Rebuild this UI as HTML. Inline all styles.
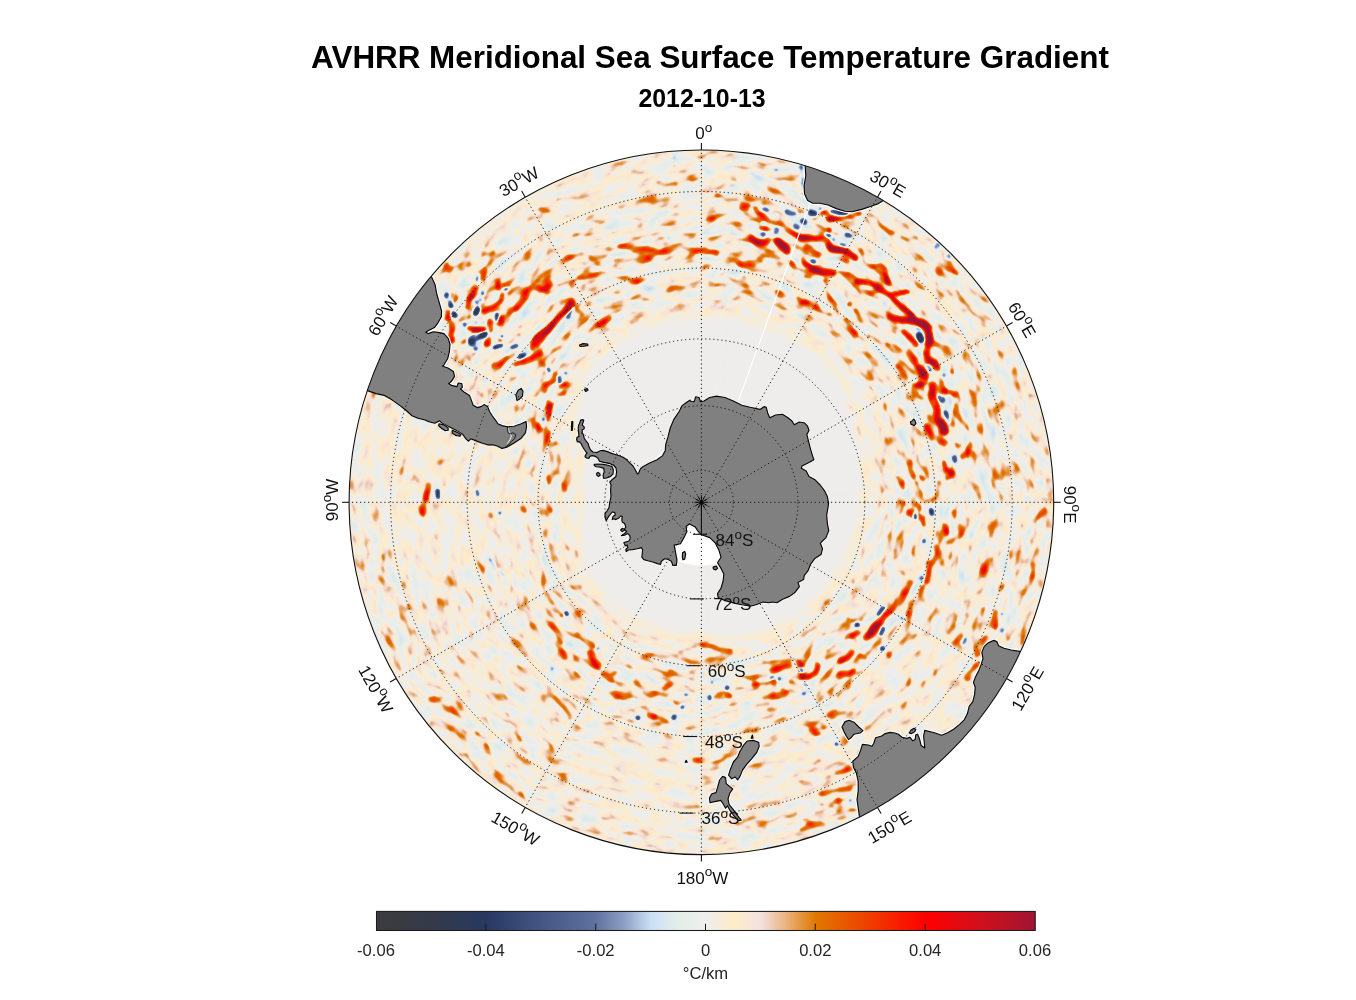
<!DOCTYPE html>
<html lang="en"><head><meta charset="utf-8"><title>AVHRR Meridional Sea Surface Temperature Gradient</title>
<style>html,body{margin:0;padding:0;background:#fff}body{width:1356px;height:1000px;overflow:hidden}svg{display:block}text{font-family:"Liberation Sans",Arial,Helvetica,sans-serif;fill:#000}.g{font-size:17px;fill:#111}.cb{font-size:16.6px;fill:#262626}</style></head><body>
<svg width="1356" height="1000" viewBox="0 0 1356 1000">
<defs>
<clipPath id="disc"><circle cx="701.4" cy="502.3" r="352.3"/></clipPath>
<filter id="wblur" filterUnits="userSpaceOnUse" x="579.4" y="138" width="278.4" height="392.3"><feGaussianBlur stdDeviation="2.5"/></filter>
<mask id="wedge" maskUnits="userSpaceOnUse" x="579.4" y="138" width="278.4" height="392.3"><path d="M699.4,516.3 L604.3,140 L833.3,140 L709.4,516.3 Z" fill="#fff" filter="url(#wblur)"/></mask>
<filter id="fld0" filterUnits="userSpaceOnUse" x="579.4" y="138" width="278.4" height="392.3" color-interpolation-filters="sRGB">
<feColorMatrix in="SourceGraphic" type="matrix" values="0 0 0 0 0 0 0 0 0 0 0 0 0 0 0 1 0 0 0 0" result="e0"/>
<feGaussianBlur in="e0" stdDeviation="6" result="E"/>
<feColorMatrix in="SourceGraphic" type="matrix" values="0 0 0 0 0 0 0 0 0 0 0 0 0 0 0 0 1 0 0 0" result="f0"/>
<feGaussianBlur in="f0" stdDeviation="1.4" result="F"/>
<feColorMatrix in="SourceGraphic" type="matrix" values="0 0 0 0 0 0 0 0 0 0 0 0 0 0 0 0 0 1 0 0" result="b0"/>
<feGaussianBlur in="b0" stdDeviation="1.3" result="B"/>
<feTurbulence type="fractalNoise" baseFrequency="0.05 0.105" numOctaves="2" seed="3" result="N0"/>
<feComponentTransfer in="N0" result="N"><feFuncA type="table" tableValues="0.2083 0.2167 0.2250 0.2333 0.2417 0.2500 0.2583 0.2683 0.2783 0.2892 0.3000 0.3150 0.3333 0.3542 0.3750 0.3958 0.4167 0.4375 0.4583 0.4792 0.5000"/></feComponentTransfer>
<feComposite in="N" in2="E" operator="arithmetic" k1="2.000" k2="0" k3="-0.600" k4="0.5" result="v0"/>
<feComponentTransfer in="E" result="Om"><feFuncA type="table" tableValues="0 1 1 1 1 1 1 1 1"/></feComponentTransfer>
<feComposite in="v0" in2="Om" operator="arithmetic" k1="0" k2="1" k3="0.0250" k4="0" result="v1"/>
<feComposite in="F" in2="N0" operator="arithmetic" k1="1.100" k2="0.450" k3="0" k4="0" result="Fm"/>
<feComposite in="B" in2="N0" operator="arithmetic" k1="-1.100" k2="1.550" k3="0" k4="0" result="Bm"/>
<feComposite in="v1" in2="Fm" operator="arithmetic" k1="0" k2="1" k3="0.500" k4="0" result="v2"/>
<feComposite in="v2" in2="Bm" operator="arithmetic" k1="0" k2="1" k3="-0.500" k4="0" result="v3"/>
<feColorMatrix in="v3" type="matrix" values="0 0 0 1 0 0 0 0 1 0 0 0 0 1 0 0 0 0 0 1" result="g"/>
<feComponentTransfer in="g"><feFuncR type="table" tableValues="0.235 0.228 0.222 0.215 0.208 0.194 0.180 0.167 0.153 0.182 0.212 0.241 0.271 0.297 0.324 0.350 0.376 0.463 0.549 0.675 0.800 0.845 0.890 0.912 0.933 0.965 0.996 0.975 0.953 0.931 0.910 0.894 0.878 0.894 0.910 0.925 0.941 0.956 0.971 0.985 1.000 0.954 0.908 0.862 0.816 0.769 0.722 0.675 0.627"/><feFuncG type="table" tableValues="0.235 0.233 0.231 0.229 0.227 0.225 0.224 0.222 0.220 0.249 0.278 0.308 0.337 0.365 0.392 0.420 0.447 0.533 0.620 0.747 0.875 0.904 0.933 0.933 0.933 0.929 0.925 0.904 0.882 0.782 0.682 0.576 0.471 0.412 0.353 0.294 0.235 0.176 0.118 0.059 0.000 0.016 0.031 0.047 0.063 0.068 0.073 0.077 0.082"/><feFuncB type="table" tableValues="0.235 0.249 0.263 0.276 0.290 0.314 0.337 0.361 0.384 0.418 0.451 0.484 0.518 0.543 0.569 0.594 0.620 0.694 0.769 0.867 0.965 0.937 0.910 0.922 0.933 0.859 0.784 0.833 0.882 0.669 0.455 0.227 0.000 0.000 0.000 0.000 0.000 0.000 0.000 0.000 0.000 0.027 0.055 0.082 0.110 0.131 0.153 0.175 0.196"/></feComponentTransfer>
</filter>
<filter id="fld1" filterUnits="userSpaceOnUse" x="579.4" y="138" width="278.4" height="392.3" color-interpolation-filters="sRGB">
<feColorMatrix in="SourceGraphic" type="matrix" values="0 0 0 0 0 0 0 0 0 0 0 0 0 0 0 1 0 0 0 0" result="e0"/>
<feGaussianBlur in="e0" stdDeviation="6" result="E"/>
<feColorMatrix in="SourceGraphic" type="matrix" values="0 0 0 0 0 0 0 0 0 0 0 0 0 0 0 0 1 0 0 0" result="f0"/>
<feGaussianBlur in="f0" stdDeviation="1.4" result="F"/>
<feColorMatrix in="SourceGraphic" type="matrix" values="0 0 0 0 0 0 0 0 0 0 0 0 0 0 0 0 0 1 0 0" result="b0"/>
<feGaussianBlur in="b0" stdDeviation="1.3" result="B"/>
<feTurbulence type="fractalNoise" baseFrequency="0.05 0.105" numOctaves="2" seed="11" result="N0"/>
<feComponentTransfer in="N0" result="N"><feFuncA type="table" tableValues="0.2083 0.2167 0.2250 0.2333 0.2417 0.2500 0.2583 0.2683 0.2783 0.2892 0.3000 0.3150 0.3333 0.3542 0.3750 0.3958 0.4167 0.4375 0.4583 0.4792 0.5000"/></feComponentTransfer>
<feComposite in="N" in2="E" operator="arithmetic" k1="2.000" k2="0" k3="-0.600" k4="0.5" result="v0"/>
<feComponentTransfer in="E" result="Om"><feFuncA type="table" tableValues="0 1 1 1 1 1 1 1 1"/></feComponentTransfer>
<feComposite in="v0" in2="Om" operator="arithmetic" k1="0" k2="1" k3="0.0250" k4="0" result="v1"/>
<feComposite in="F" in2="N0" operator="arithmetic" k1="1.100" k2="0.450" k3="0" k4="0" result="Fm"/>
<feComposite in="B" in2="N0" operator="arithmetic" k1="-1.100" k2="1.550" k3="0" k4="0" result="Bm"/>
<feComposite in="v1" in2="Fm" operator="arithmetic" k1="0" k2="1" k3="0.500" k4="0" result="v2"/>
<feComposite in="v2" in2="Bm" operator="arithmetic" k1="0" k2="1" k3="-0.500" k4="0" result="v3"/>
<feColorMatrix in="v3" type="matrix" values="0 0 0 1 0 0 0 0 1 0 0 0 0 1 0 0 0 0 0 1" result="g"/>
<feComponentTransfer in="g"><feFuncR type="table" tableValues="0.235 0.228 0.222 0.215 0.208 0.194 0.180 0.167 0.153 0.182 0.212 0.241 0.271 0.297 0.324 0.350 0.376 0.463 0.549 0.675 0.800 0.845 0.890 0.912 0.933 0.965 0.996 0.975 0.953 0.931 0.910 0.894 0.878 0.894 0.910 0.925 0.941 0.956 0.971 0.985 1.000 0.954 0.908 0.862 0.816 0.769 0.722 0.675 0.627"/><feFuncG type="table" tableValues="0.235 0.233 0.231 0.229 0.227 0.225 0.224 0.222 0.220 0.249 0.278 0.308 0.337 0.365 0.392 0.420 0.447 0.533 0.620 0.747 0.875 0.904 0.933 0.933 0.933 0.929 0.925 0.904 0.882 0.782 0.682 0.576 0.471 0.412 0.353 0.294 0.235 0.176 0.118 0.059 0.000 0.016 0.031 0.047 0.063 0.068 0.073 0.077 0.082"/><feFuncB type="table" tableValues="0.235 0.249 0.263 0.276 0.290 0.314 0.337 0.361 0.384 0.418 0.451 0.484 0.518 0.543 0.569 0.594 0.620 0.694 0.769 0.867 0.965 0.937 0.910 0.922 0.933 0.859 0.784 0.833 0.882 0.669 0.455 0.227 0.000 0.000 0.000 0.000 0.000 0.000 0.000 0.000 0.000 0.027 0.055 0.082 0.110 0.131 0.153 0.175 0.196"/></feComponentTransfer>
</filter>
<filter id="fld2" filterUnits="userSpaceOnUse" x="579.4" y="138" width="278.4" height="392.3" color-interpolation-filters="sRGB">
<feColorMatrix in="SourceGraphic" type="matrix" values="0 0 0 0 0 0 0 0 0 0 0 0 0 0 0 1 0 0 0 0" result="e0"/>
<feGaussianBlur in="e0" stdDeviation="6" result="E"/>
<feColorMatrix in="SourceGraphic" type="matrix" values="0 0 0 0 0 0 0 0 0 0 0 0 0 0 0 0 1 0 0 0" result="f0"/>
<feGaussianBlur in="f0" stdDeviation="1.4" result="F"/>
<feColorMatrix in="SourceGraphic" type="matrix" values="0 0 0 0 0 0 0 0 0 0 0 0 0 0 0 0 0 1 0 0" result="b0"/>
<feGaussianBlur in="b0" stdDeviation="1.3" result="B"/>
<feTurbulence type="fractalNoise" baseFrequency="0.05 0.105" numOctaves="2" seed="7" result="N0"/>
<feComponentTransfer in="N0" result="N"><feFuncA type="table" tableValues="0.2083 0.2167 0.2250 0.2333 0.2417 0.2500 0.2583 0.2683 0.2783 0.2892 0.3000 0.3150 0.3333 0.3542 0.3750 0.3958 0.4167 0.4375 0.4583 0.4792 0.5000"/></feComponentTransfer>
<feComposite in="N" in2="E" operator="arithmetic" k1="2.000" k2="0" k3="-0.600" k4="0.5" result="v0"/>
<feComponentTransfer in="E" result="Om"><feFuncA type="table" tableValues="0 1 1 1 1 1 1 1 1"/></feComponentTransfer>
<feComposite in="v0" in2="Om" operator="arithmetic" k1="0" k2="1" k3="0.0250" k4="0" result="v1"/>
<feComposite in="F" in2="N0" operator="arithmetic" k1="1.100" k2="0.450" k3="0" k4="0" result="Fm"/>
<feComposite in="B" in2="N0" operator="arithmetic" k1="-1.100" k2="1.550" k3="0" k4="0" result="Bm"/>
<feComposite in="v1" in2="Fm" operator="arithmetic" k1="0" k2="1" k3="0.500" k4="0" result="v2"/>
<feComposite in="v2" in2="Bm" operator="arithmetic" k1="0" k2="1" k3="-0.500" k4="0" result="v3"/>
<feColorMatrix in="v3" type="matrix" values="0 0 0 1 0 0 0 0 1 0 0 0 0 1 0 0 0 0 0 1" result="g"/>
<feComponentTransfer in="g"><feFuncR type="table" tableValues="0.235 0.228 0.222 0.215 0.208 0.194 0.180 0.167 0.153 0.182 0.212 0.241 0.271 0.297 0.324 0.350 0.376 0.463 0.549 0.675 0.800 0.845 0.890 0.912 0.933 0.965 0.996 0.975 0.953 0.931 0.910 0.894 0.878 0.894 0.910 0.925 0.941 0.956 0.971 0.985 1.000 0.954 0.908 0.862 0.816 0.769 0.722 0.675 0.627"/><feFuncG type="table" tableValues="0.235 0.233 0.231 0.229 0.227 0.225 0.224 0.222 0.220 0.249 0.278 0.308 0.337 0.365 0.392 0.420 0.447 0.533 0.620 0.747 0.875 0.904 0.933 0.933 0.933 0.929 0.925 0.904 0.882 0.782 0.682 0.576 0.471 0.412 0.353 0.294 0.235 0.176 0.118 0.059 0.000 0.016 0.031 0.047 0.063 0.068 0.073 0.077 0.082"/><feFuncB type="table" tableValues="0.235 0.249 0.263 0.276 0.290 0.314 0.337 0.361 0.384 0.418 0.451 0.484 0.518 0.543 0.569 0.594 0.620 0.694 0.769 0.867 0.965 0.937 0.910 0.922 0.933 0.859 0.784 0.833 0.882 0.669 0.455 0.227 0.000 0.000 0.000 0.000 0.000 0.000 0.000 0.000 0.000 0.027 0.055 0.082 0.110 0.131 0.153 0.175 0.196"/></feComponentTransfer>
</filter>
<filter id="fld3" filterUnits="userSpaceOnUse" x="579.4" y="138" width="278.4" height="392.3" color-interpolation-filters="sRGB">
<feColorMatrix in="SourceGraphic" type="matrix" values="0 0 0 0 0 0 0 0 0 0 0 0 0 0 0 1 0 0 0 0" result="e0"/>
<feGaussianBlur in="e0" stdDeviation="6" result="E"/>
<feColorMatrix in="SourceGraphic" type="matrix" values="0 0 0 0 0 0 0 0 0 0 0 0 0 0 0 0 1 0 0 0" result="f0"/>
<feGaussianBlur in="f0" stdDeviation="1.4" result="F"/>
<feColorMatrix in="SourceGraphic" type="matrix" values="0 0 0 0 0 0 0 0 0 0 0 0 0 0 0 0 0 1 0 0" result="b0"/>
<feGaussianBlur in="b0" stdDeviation="1.3" result="B"/>
<feTurbulence type="fractalNoise" baseFrequency="0.05 0.105" numOctaves="2" seed="23" result="N0"/>
<feComponentTransfer in="N0" result="N"><feFuncA type="table" tableValues="0.2083 0.2167 0.2250 0.2333 0.2417 0.2500 0.2583 0.2683 0.2783 0.2892 0.3000 0.3150 0.3333 0.3542 0.3750 0.3958 0.4167 0.4375 0.4583 0.4792 0.5000"/></feComponentTransfer>
<feComposite in="N" in2="E" operator="arithmetic" k1="2.000" k2="0" k3="-0.600" k4="0.5" result="v0"/>
<feComponentTransfer in="E" result="Om"><feFuncA type="table" tableValues="0 1 1 1 1 1 1 1 1"/></feComponentTransfer>
<feComposite in="v0" in2="Om" operator="arithmetic" k1="0" k2="1" k3="0.0250" k4="0" result="v1"/>
<feComposite in="F" in2="N0" operator="arithmetic" k1="1.100" k2="0.450" k3="0" k4="0" result="Fm"/>
<feComposite in="B" in2="N0" operator="arithmetic" k1="-1.100" k2="1.550" k3="0" k4="0" result="Bm"/>
<feComposite in="v1" in2="Fm" operator="arithmetic" k1="0" k2="1" k3="0.500" k4="0" result="v2"/>
<feComposite in="v2" in2="Bm" operator="arithmetic" k1="0" k2="1" k3="-0.500" k4="0" result="v3"/>
<feColorMatrix in="v3" type="matrix" values="0 0 0 1 0 0 0 0 1 0 0 0 0 1 0 0 0 0 0 1" result="g"/>
<feComponentTransfer in="g"><feFuncR type="table" tableValues="0.235 0.228 0.222 0.215 0.208 0.194 0.180 0.167 0.153 0.182 0.212 0.241 0.271 0.297 0.324 0.350 0.376 0.463 0.549 0.675 0.800 0.845 0.890 0.912 0.933 0.965 0.996 0.975 0.953 0.931 0.910 0.894 0.878 0.894 0.910 0.925 0.941 0.956 0.971 0.985 1.000 0.954 0.908 0.862 0.816 0.769 0.722 0.675 0.627"/><feFuncG type="table" tableValues="0.235 0.233 0.231 0.229 0.227 0.225 0.224 0.222 0.220 0.249 0.278 0.308 0.337 0.365 0.392 0.420 0.447 0.533 0.620 0.747 0.875 0.904 0.933 0.933 0.933 0.929 0.925 0.904 0.882 0.782 0.682 0.576 0.471 0.412 0.353 0.294 0.235 0.176 0.118 0.059 0.000 0.016 0.031 0.047 0.063 0.068 0.073 0.077 0.082"/><feFuncB type="table" tableValues="0.235 0.249 0.263 0.276 0.290 0.314 0.337 0.361 0.384 0.418 0.451 0.484 0.518 0.543 0.569 0.594 0.620 0.694 0.769 0.867 0.965 0.937 0.910 0.922 0.933 0.859 0.784 0.833 0.882 0.669 0.455 0.227 0.000 0.000 0.000 0.000 0.000 0.000 0.000 0.000 0.000 0.027 0.055 0.082 0.110 0.131 0.153 0.175 0.196"/></feComponentTransfer>
</filter>
<filter id="fld4" filterUnits="userSpaceOnUse" x="579.4" y="138" width="278.4" height="392.3" color-interpolation-filters="sRGB">
<feColorMatrix in="SourceGraphic" type="matrix" values="0 0 0 0 0 0 0 0 0 0 0 0 0 0 0 1 0 0 0 0" result="e0"/>
<feGaussianBlur in="e0" stdDeviation="6" result="E"/>
<feColorMatrix in="SourceGraphic" type="matrix" values="0 0 0 0 0 0 0 0 0 0 0 0 0 0 0 0 1 0 0 0" result="f0"/>
<feGaussianBlur in="f0" stdDeviation="1.4" result="F"/>
<feColorMatrix in="SourceGraphic" type="matrix" values="0 0 0 0 0 0 0 0 0 0 0 0 0 0 0 0 0 1 0 0" result="b0"/>
<feGaussianBlur in="b0" stdDeviation="1.3" result="B"/>
<feTurbulence type="fractalNoise" baseFrequency="0.05 0.105" numOctaves="2" seed="5" result="N0"/>
<feComponentTransfer in="N0" result="N"><feFuncA type="table" tableValues="0.2083 0.2167 0.2250 0.2333 0.2417 0.2500 0.2583 0.2683 0.2783 0.2892 0.3000 0.3150 0.3333 0.3542 0.3750 0.3958 0.4167 0.4375 0.4583 0.4792 0.5000"/></feComponentTransfer>
<feComposite in="N" in2="E" operator="arithmetic" k1="2.000" k2="0" k3="-0.600" k4="0.5" result="v0"/>
<feComponentTransfer in="E" result="Om"><feFuncA type="table" tableValues="0 1 1 1 1 1 1 1 1"/></feComponentTransfer>
<feComposite in="v0" in2="Om" operator="arithmetic" k1="0" k2="1" k3="0.0250" k4="0" result="v1"/>
<feComposite in="F" in2="N0" operator="arithmetic" k1="1.100" k2="0.450" k3="0" k4="0" result="Fm"/>
<feComposite in="B" in2="N0" operator="arithmetic" k1="-1.100" k2="1.550" k3="0" k4="0" result="Bm"/>
<feComposite in="v1" in2="Fm" operator="arithmetic" k1="0" k2="1" k3="0.500" k4="0" result="v2"/>
<feComposite in="v2" in2="Bm" operator="arithmetic" k1="0" k2="1" k3="-0.500" k4="0" result="v3"/>
<feColorMatrix in="v3" type="matrix" values="0 0 0 1 0 0 0 0 1 0 0 0 0 1 0 0 0 0 0 1" result="g"/>
<feComponentTransfer in="g"><feFuncR type="table" tableValues="0.235 0.228 0.222 0.215 0.208 0.194 0.180 0.167 0.153 0.182 0.212 0.241 0.271 0.297 0.324 0.350 0.376 0.463 0.549 0.675 0.800 0.845 0.890 0.912 0.933 0.965 0.996 0.975 0.953 0.931 0.910 0.894 0.878 0.894 0.910 0.925 0.941 0.956 0.971 0.985 1.000 0.954 0.908 0.862 0.816 0.769 0.722 0.675 0.627"/><feFuncG type="table" tableValues="0.235 0.233 0.231 0.229 0.227 0.225 0.224 0.222 0.220 0.249 0.278 0.308 0.337 0.365 0.392 0.420 0.447 0.533 0.620 0.747 0.875 0.904 0.933 0.933 0.933 0.929 0.925 0.904 0.882 0.782 0.682 0.576 0.471 0.412 0.353 0.294 0.235 0.176 0.118 0.059 0.000 0.016 0.031 0.047 0.063 0.068 0.073 0.077 0.082"/><feFuncB type="table" tableValues="0.235 0.249 0.263 0.276 0.290 0.314 0.337 0.361 0.384 0.418 0.451 0.484 0.518 0.543 0.569 0.594 0.620 0.694 0.769 0.867 0.965 0.937 0.910 0.922 0.933 0.859 0.784 0.833 0.882 0.669 0.455 0.227 0.000 0.000 0.000 0.000 0.000 0.000 0.000 0.000 0.000 0.027 0.055 0.082 0.110 0.131 0.153 0.175 0.196"/></feComponentTransfer>
</filter>
<filter id="fld5" filterUnits="userSpaceOnUse" x="579.4" y="138" width="278.4" height="392.3" color-interpolation-filters="sRGB">
<feColorMatrix in="SourceGraphic" type="matrix" values="0 0 0 0 0 0 0 0 0 0 0 0 0 0 0 1 0 0 0 0" result="e0"/>
<feGaussianBlur in="e0" stdDeviation="6" result="E"/>
<feColorMatrix in="SourceGraphic" type="matrix" values="0 0 0 0 0 0 0 0 0 0 0 0 0 0 0 0 1 0 0 0" result="f0"/>
<feGaussianBlur in="f0" stdDeviation="1.4" result="F"/>
<feColorMatrix in="SourceGraphic" type="matrix" values="0 0 0 0 0 0 0 0 0 0 0 0 0 0 0 0 0 1 0 0" result="b0"/>
<feGaussianBlur in="b0" stdDeviation="1.3" result="B"/>
<feTurbulence type="fractalNoise" baseFrequency="0.05 0.105" numOctaves="2" seed="17" result="N0"/>
<feComponentTransfer in="N0" result="N"><feFuncA type="table" tableValues="0.2083 0.2167 0.2250 0.2333 0.2417 0.2500 0.2583 0.2683 0.2783 0.2892 0.3000 0.3150 0.3333 0.3542 0.3750 0.3958 0.4167 0.4375 0.4583 0.4792 0.5000"/></feComponentTransfer>
<feComposite in="N" in2="E" operator="arithmetic" k1="2.000" k2="0" k3="-0.600" k4="0.5" result="v0"/>
<feComponentTransfer in="E" result="Om"><feFuncA type="table" tableValues="0 1 1 1 1 1 1 1 1"/></feComponentTransfer>
<feComposite in="v0" in2="Om" operator="arithmetic" k1="0" k2="1" k3="0.0250" k4="0" result="v1"/>
<feComposite in="F" in2="N0" operator="arithmetic" k1="1.100" k2="0.450" k3="0" k4="0" result="Fm"/>
<feComposite in="B" in2="N0" operator="arithmetic" k1="-1.100" k2="1.550" k3="0" k4="0" result="Bm"/>
<feComposite in="v1" in2="Fm" operator="arithmetic" k1="0" k2="1" k3="0.500" k4="0" result="v2"/>
<feComposite in="v2" in2="Bm" operator="arithmetic" k1="0" k2="1" k3="-0.500" k4="0" result="v3"/>
<feColorMatrix in="v3" type="matrix" values="0 0 0 1 0 0 0 0 1 0 0 0 0 1 0 0 0 0 0 1" result="g"/>
<feComponentTransfer in="g"><feFuncR type="table" tableValues="0.235 0.228 0.222 0.215 0.208 0.194 0.180 0.167 0.153 0.182 0.212 0.241 0.271 0.297 0.324 0.350 0.376 0.463 0.549 0.675 0.800 0.845 0.890 0.912 0.933 0.965 0.996 0.975 0.953 0.931 0.910 0.894 0.878 0.894 0.910 0.925 0.941 0.956 0.971 0.985 1.000 0.954 0.908 0.862 0.816 0.769 0.722 0.675 0.627"/><feFuncG type="table" tableValues="0.235 0.233 0.231 0.229 0.227 0.225 0.224 0.222 0.220 0.249 0.278 0.308 0.337 0.365 0.392 0.420 0.447 0.533 0.620 0.747 0.875 0.904 0.933 0.933 0.933 0.929 0.925 0.904 0.882 0.782 0.682 0.576 0.471 0.412 0.353 0.294 0.235 0.176 0.118 0.059 0.000 0.016 0.031 0.047 0.063 0.068 0.073 0.077 0.082"/><feFuncB type="table" tableValues="0.235 0.249 0.263 0.276 0.290 0.314 0.337 0.361 0.384 0.418 0.451 0.484 0.518 0.543 0.569 0.594 0.620 0.694 0.769 0.867 0.965 0.937 0.910 0.922 0.933 0.859 0.784 0.833 0.882 0.669 0.455 0.227 0.000 0.000 0.000 0.000 0.000 0.000 0.000 0.000 0.000 0.027 0.055 0.082 0.110 0.131 0.153 0.175 0.196"/></feComponentTransfer>
</filter>
<filter id="fld6" filterUnits="userSpaceOnUse" x="579.4" y="138" width="278.4" height="392.3" color-interpolation-filters="sRGB">
<feColorMatrix in="SourceGraphic" type="matrix" values="0 0 0 0 0 0 0 0 0 0 0 0 0 0 0 1 0 0 0 0" result="e0"/>
<feGaussianBlur in="e0" stdDeviation="6" result="E"/>
<feColorMatrix in="SourceGraphic" type="matrix" values="0 0 0 0 0 0 0 0 0 0 0 0 0 0 0 0 1 0 0 0" result="f0"/>
<feGaussianBlur in="f0" stdDeviation="1.4" result="F"/>
<feColorMatrix in="SourceGraphic" type="matrix" values="0 0 0 0 0 0 0 0 0 0 0 0 0 0 0 0 0 1 0 0" result="b0"/>
<feGaussianBlur in="b0" stdDeviation="1.3" result="B"/>
<feTurbulence type="fractalNoise" baseFrequency="0.05 0.105" numOctaves="2" seed="29" result="N0"/>
<feComponentTransfer in="N0" result="N"><feFuncA type="table" tableValues="0.2083 0.2167 0.2250 0.2333 0.2417 0.2500 0.2583 0.2683 0.2783 0.2892 0.3000 0.3150 0.3333 0.3542 0.3750 0.3958 0.4167 0.4375 0.4583 0.4792 0.5000"/></feComponentTransfer>
<feComposite in="N" in2="E" operator="arithmetic" k1="2.000" k2="0" k3="-0.600" k4="0.5" result="v0"/>
<feComponentTransfer in="E" result="Om"><feFuncA type="table" tableValues="0 1 1 1 1 1 1 1 1"/></feComponentTransfer>
<feComposite in="v0" in2="Om" operator="arithmetic" k1="0" k2="1" k3="0.0250" k4="0" result="v1"/>
<feComposite in="F" in2="N0" operator="arithmetic" k1="1.100" k2="0.450" k3="0" k4="0" result="Fm"/>
<feComposite in="B" in2="N0" operator="arithmetic" k1="-1.100" k2="1.550" k3="0" k4="0" result="Bm"/>
<feComposite in="v1" in2="Fm" operator="arithmetic" k1="0" k2="1" k3="0.500" k4="0" result="v2"/>
<feComposite in="v2" in2="Bm" operator="arithmetic" k1="0" k2="1" k3="-0.500" k4="0" result="v3"/>
<feColorMatrix in="v3" type="matrix" values="0 0 0 1 0 0 0 0 1 0 0 0 0 1 0 0 0 0 0 1" result="g"/>
<feComponentTransfer in="g"><feFuncR type="table" tableValues="0.235 0.228 0.222 0.215 0.208 0.194 0.180 0.167 0.153 0.182 0.212 0.241 0.271 0.297 0.324 0.350 0.376 0.463 0.549 0.675 0.800 0.845 0.890 0.912 0.933 0.965 0.996 0.975 0.953 0.931 0.910 0.894 0.878 0.894 0.910 0.925 0.941 0.956 0.971 0.985 1.000 0.954 0.908 0.862 0.816 0.769 0.722 0.675 0.627"/><feFuncG type="table" tableValues="0.235 0.233 0.231 0.229 0.227 0.225 0.224 0.222 0.220 0.249 0.278 0.308 0.337 0.365 0.392 0.420 0.447 0.533 0.620 0.747 0.875 0.904 0.933 0.933 0.933 0.929 0.925 0.904 0.882 0.782 0.682 0.576 0.471 0.412 0.353 0.294 0.235 0.176 0.118 0.059 0.000 0.016 0.031 0.047 0.063 0.068 0.073 0.077 0.082"/><feFuncB type="table" tableValues="0.235 0.249 0.263 0.276 0.290 0.314 0.337 0.361 0.384 0.418 0.451 0.484 0.518 0.543 0.569 0.594 0.620 0.694 0.769 0.867 0.965 0.937 0.910 0.922 0.933 0.859 0.784 0.833 0.882 0.669 0.455 0.227 0.000 0.000 0.000 0.000 0.000 0.000 0.000 0.000 0.000 0.027 0.055 0.082 0.110 0.131 0.153 0.175 0.196"/></feComponentTransfer>
</filter>
<filter id="fld7" filterUnits="userSpaceOnUse" x="579.4" y="138" width="278.4" height="392.3" color-interpolation-filters="sRGB">
<feColorMatrix in="SourceGraphic" type="matrix" values="0 0 0 0 0 0 0 0 0 0 0 0 0 0 0 1 0 0 0 0" result="e0"/>
<feGaussianBlur in="e0" stdDeviation="6" result="E"/>
<feColorMatrix in="SourceGraphic" type="matrix" values="0 0 0 0 0 0 0 0 0 0 0 0 0 0 0 0 1 0 0 0" result="f0"/>
<feGaussianBlur in="f0" stdDeviation="1.4" result="F"/>
<feColorMatrix in="SourceGraphic" type="matrix" values="0 0 0 0 0 0 0 0 0 0 0 0 0 0 0 0 0 1 0 0" result="b0"/>
<feGaussianBlur in="b0" stdDeviation="1.3" result="B"/>
<feTurbulence type="fractalNoise" baseFrequency="0.05 0.105" numOctaves="2" seed="2" result="N0"/>
<feComponentTransfer in="N0" result="N"><feFuncA type="table" tableValues="0.2083 0.2167 0.2250 0.2333 0.2417 0.2500 0.2583 0.2683 0.2783 0.2892 0.3000 0.3150 0.3333 0.3542 0.3750 0.3958 0.4167 0.4375 0.4583 0.4792 0.5000"/></feComponentTransfer>
<feComposite in="N" in2="E" operator="arithmetic" k1="2.000" k2="0" k3="-0.600" k4="0.5" result="v0"/>
<feComponentTransfer in="E" result="Om"><feFuncA type="table" tableValues="0 1 1 1 1 1 1 1 1"/></feComponentTransfer>
<feComposite in="v0" in2="Om" operator="arithmetic" k1="0" k2="1" k3="0.0250" k4="0" result="v1"/>
<feComposite in="F" in2="N0" operator="arithmetic" k1="1.100" k2="0.450" k3="0" k4="0" result="Fm"/>
<feComposite in="B" in2="N0" operator="arithmetic" k1="-1.100" k2="1.550" k3="0" k4="0" result="Bm"/>
<feComposite in="v1" in2="Fm" operator="arithmetic" k1="0" k2="1" k3="0.500" k4="0" result="v2"/>
<feComposite in="v2" in2="Bm" operator="arithmetic" k1="0" k2="1" k3="-0.500" k4="0" result="v3"/>
<feColorMatrix in="v3" type="matrix" values="0 0 0 1 0 0 0 0 1 0 0 0 0 1 0 0 0 0 0 1" result="g"/>
<feComponentTransfer in="g"><feFuncR type="table" tableValues="0.235 0.228 0.222 0.215 0.208 0.194 0.180 0.167 0.153 0.182 0.212 0.241 0.271 0.297 0.324 0.350 0.376 0.463 0.549 0.675 0.800 0.845 0.890 0.912 0.933 0.965 0.996 0.975 0.953 0.931 0.910 0.894 0.878 0.894 0.910 0.925 0.941 0.956 0.971 0.985 1.000 0.954 0.908 0.862 0.816 0.769 0.722 0.675 0.627"/><feFuncG type="table" tableValues="0.235 0.233 0.231 0.229 0.227 0.225 0.224 0.222 0.220 0.249 0.278 0.308 0.337 0.365 0.392 0.420 0.447 0.533 0.620 0.747 0.875 0.904 0.933 0.933 0.933 0.929 0.925 0.904 0.882 0.782 0.682 0.576 0.471 0.412 0.353 0.294 0.235 0.176 0.118 0.059 0.000 0.016 0.031 0.047 0.063 0.068 0.073 0.077 0.082"/><feFuncB type="table" tableValues="0.235 0.249 0.263 0.276 0.290 0.314 0.337 0.361 0.384 0.418 0.451 0.484 0.518 0.543 0.569 0.594 0.620 0.694 0.769 0.867 0.965 0.937 0.910 0.922 0.933 0.859 0.784 0.833 0.882 0.669 0.455 0.227 0.000 0.000 0.000 0.000 0.000 0.000 0.000 0.000 0.000 0.027 0.055 0.082 0.110 0.131 0.153 0.175 0.196"/></feComponentTransfer>
</filter>
<filter id="fld8" filterUnits="userSpaceOnUse" x="579.4" y="138" width="278.4" height="392.3" color-interpolation-filters="sRGB">
<feColorMatrix in="SourceGraphic" type="matrix" values="0 0 0 0 0 0 0 0 0 0 0 0 0 0 0 1 0 0 0 0" result="e0"/>
<feGaussianBlur in="e0" stdDeviation="6" result="E"/>
<feColorMatrix in="SourceGraphic" type="matrix" values="0 0 0 0 0 0 0 0 0 0 0 0 0 0 0 0 1 0 0 0" result="f0"/>
<feGaussianBlur in="f0" stdDeviation="1.4" result="F"/>
<feColorMatrix in="SourceGraphic" type="matrix" values="0 0 0 0 0 0 0 0 0 0 0 0 0 0 0 0 0 1 0 0" result="b0"/>
<feGaussianBlur in="b0" stdDeviation="1.3" result="B"/>
<feTurbulence type="fractalNoise" baseFrequency="0.05 0.105" numOctaves="2" seed="13" result="N0"/>
<feComponentTransfer in="N0" result="N"><feFuncA type="table" tableValues="0.2083 0.2167 0.2250 0.2333 0.2417 0.2500 0.2583 0.2683 0.2783 0.2892 0.3000 0.3150 0.3333 0.3542 0.3750 0.3958 0.4167 0.4375 0.4583 0.4792 0.5000"/></feComponentTransfer>
<feComposite in="N" in2="E" operator="arithmetic" k1="2.000" k2="0" k3="-0.600" k4="0.5" result="v0"/>
<feComponentTransfer in="E" result="Om"><feFuncA type="table" tableValues="0 1 1 1 1 1 1 1 1"/></feComponentTransfer>
<feComposite in="v0" in2="Om" operator="arithmetic" k1="0" k2="1" k3="0.0250" k4="0" result="v1"/>
<feComposite in="F" in2="N0" operator="arithmetic" k1="1.100" k2="0.450" k3="0" k4="0" result="Fm"/>
<feComposite in="B" in2="N0" operator="arithmetic" k1="-1.100" k2="1.550" k3="0" k4="0" result="Bm"/>
<feComposite in="v1" in2="Fm" operator="arithmetic" k1="0" k2="1" k3="0.500" k4="0" result="v2"/>
<feComposite in="v2" in2="Bm" operator="arithmetic" k1="0" k2="1" k3="-0.500" k4="0" result="v3"/>
<feColorMatrix in="v3" type="matrix" values="0 0 0 1 0 0 0 0 1 0 0 0 0 1 0 0 0 0 0 1" result="g"/>
<feComponentTransfer in="g"><feFuncR type="table" tableValues="0.235 0.228 0.222 0.215 0.208 0.194 0.180 0.167 0.153 0.182 0.212 0.241 0.271 0.297 0.324 0.350 0.376 0.463 0.549 0.675 0.800 0.845 0.890 0.912 0.933 0.965 0.996 0.975 0.953 0.931 0.910 0.894 0.878 0.894 0.910 0.925 0.941 0.956 0.971 0.985 1.000 0.954 0.908 0.862 0.816 0.769 0.722 0.675 0.627"/><feFuncG type="table" tableValues="0.235 0.233 0.231 0.229 0.227 0.225 0.224 0.222 0.220 0.249 0.278 0.308 0.337 0.365 0.392 0.420 0.447 0.533 0.620 0.747 0.875 0.904 0.933 0.933 0.933 0.929 0.925 0.904 0.882 0.782 0.682 0.576 0.471 0.412 0.353 0.294 0.235 0.176 0.118 0.059 0.000 0.016 0.031 0.047 0.063 0.068 0.073 0.077 0.082"/><feFuncB type="table" tableValues="0.235 0.249 0.263 0.276 0.290 0.314 0.337 0.361 0.384 0.418 0.451 0.484 0.518 0.543 0.569 0.594 0.620 0.694 0.769 0.867 0.965 0.937 0.910 0.922 0.933 0.859 0.784 0.833 0.882 0.669 0.455 0.227 0.000 0.000 0.000 0.000 0.000 0.000 0.000 0.000 0.000 0.027 0.055 0.082 0.110 0.131 0.153 0.175 0.196"/></feComponentTransfer>
</filter>
<filter id="fld9" filterUnits="userSpaceOnUse" x="579.4" y="138" width="278.4" height="392.3" color-interpolation-filters="sRGB">
<feColorMatrix in="SourceGraphic" type="matrix" values="0 0 0 0 0 0 0 0 0 0 0 0 0 0 0 1 0 0 0 0" result="e0"/>
<feGaussianBlur in="e0" stdDeviation="6" result="E"/>
<feColorMatrix in="SourceGraphic" type="matrix" values="0 0 0 0 0 0 0 0 0 0 0 0 0 0 0 0 1 0 0 0" result="f0"/>
<feGaussianBlur in="f0" stdDeviation="1.4" result="F"/>
<feColorMatrix in="SourceGraphic" type="matrix" values="0 0 0 0 0 0 0 0 0 0 0 0 0 0 0 0 0 1 0 0" result="b0"/>
<feGaussianBlur in="b0" stdDeviation="1.3" result="B"/>
<feTurbulence type="fractalNoise" baseFrequency="0.05 0.105" numOctaves="2" seed="19" result="N0"/>
<feComponentTransfer in="N0" result="N"><feFuncA type="table" tableValues="0.2083 0.2167 0.2250 0.2333 0.2417 0.2500 0.2583 0.2683 0.2783 0.2892 0.3000 0.3150 0.3333 0.3542 0.3750 0.3958 0.4167 0.4375 0.4583 0.4792 0.5000"/></feComponentTransfer>
<feComposite in="N" in2="E" operator="arithmetic" k1="2.000" k2="0" k3="-0.600" k4="0.5" result="v0"/>
<feComponentTransfer in="E" result="Om"><feFuncA type="table" tableValues="0 1 1 1 1 1 1 1 1"/></feComponentTransfer>
<feComposite in="v0" in2="Om" operator="arithmetic" k1="0" k2="1" k3="0.0250" k4="0" result="v1"/>
<feComposite in="F" in2="N0" operator="arithmetic" k1="1.100" k2="0.450" k3="0" k4="0" result="Fm"/>
<feComposite in="B" in2="N0" operator="arithmetic" k1="-1.100" k2="1.550" k3="0" k4="0" result="Bm"/>
<feComposite in="v1" in2="Fm" operator="arithmetic" k1="0" k2="1" k3="0.500" k4="0" result="v2"/>
<feComposite in="v2" in2="Bm" operator="arithmetic" k1="0" k2="1" k3="-0.500" k4="0" result="v3"/>
<feColorMatrix in="v3" type="matrix" values="0 0 0 1 0 0 0 0 1 0 0 0 0 1 0 0 0 0 0 1" result="g"/>
<feComponentTransfer in="g"><feFuncR type="table" tableValues="0.235 0.228 0.222 0.215 0.208 0.194 0.180 0.167 0.153 0.182 0.212 0.241 0.271 0.297 0.324 0.350 0.376 0.463 0.549 0.675 0.800 0.845 0.890 0.912 0.933 0.965 0.996 0.975 0.953 0.931 0.910 0.894 0.878 0.894 0.910 0.925 0.941 0.956 0.971 0.985 1.000 0.954 0.908 0.862 0.816 0.769 0.722 0.675 0.627"/><feFuncG type="table" tableValues="0.235 0.233 0.231 0.229 0.227 0.225 0.224 0.222 0.220 0.249 0.278 0.308 0.337 0.365 0.392 0.420 0.447 0.533 0.620 0.747 0.875 0.904 0.933 0.933 0.933 0.929 0.925 0.904 0.882 0.782 0.682 0.576 0.471 0.412 0.353 0.294 0.235 0.176 0.118 0.059 0.000 0.016 0.031 0.047 0.063 0.068 0.073 0.077 0.082"/><feFuncB type="table" tableValues="0.235 0.249 0.263 0.276 0.290 0.314 0.337 0.361 0.384 0.418 0.451 0.484 0.518 0.543 0.569 0.594 0.620 0.694 0.769 0.867 0.965 0.937 0.910 0.922 0.933 0.859 0.784 0.833 0.882 0.669 0.455 0.227 0.000 0.000 0.000 0.000 0.000 0.000 0.000 0.000 0.000 0.027 0.055 0.082 0.110 0.131 0.153 0.175 0.196"/></feComponentTransfer>
</filter>
<filter id="fld10" filterUnits="userSpaceOnUse" x="579.4" y="138" width="278.4" height="392.3" color-interpolation-filters="sRGB">
<feColorMatrix in="SourceGraphic" type="matrix" values="0 0 0 0 0 0 0 0 0 0 0 0 0 0 0 1 0 0 0 0" result="e0"/>
<feGaussianBlur in="e0" stdDeviation="6" result="E"/>
<feColorMatrix in="SourceGraphic" type="matrix" values="0 0 0 0 0 0 0 0 0 0 0 0 0 0 0 0 1 0 0 0" result="f0"/>
<feGaussianBlur in="f0" stdDeviation="1.4" result="F"/>
<feColorMatrix in="SourceGraphic" type="matrix" values="0 0 0 0 0 0 0 0 0 0 0 0 0 0 0 0 0 1 0 0" result="b0"/>
<feGaussianBlur in="b0" stdDeviation="1.3" result="B"/>
<feTurbulence type="fractalNoise" baseFrequency="0.05 0.105" numOctaves="2" seed="31" result="N0"/>
<feComponentTransfer in="N0" result="N"><feFuncA type="table" tableValues="0.2083 0.2167 0.2250 0.2333 0.2417 0.2500 0.2583 0.2683 0.2783 0.2892 0.3000 0.3150 0.3333 0.3542 0.3750 0.3958 0.4167 0.4375 0.4583 0.4792 0.5000"/></feComponentTransfer>
<feComposite in="N" in2="E" operator="arithmetic" k1="2.000" k2="0" k3="-0.600" k4="0.5" result="v0"/>
<feComponentTransfer in="E" result="Om"><feFuncA type="table" tableValues="0 1 1 1 1 1 1 1 1"/></feComponentTransfer>
<feComposite in="v0" in2="Om" operator="arithmetic" k1="0" k2="1" k3="0.0250" k4="0" result="v1"/>
<feComposite in="F" in2="N0" operator="arithmetic" k1="1.100" k2="0.450" k3="0" k4="0" result="Fm"/>
<feComposite in="B" in2="N0" operator="arithmetic" k1="-1.100" k2="1.550" k3="0" k4="0" result="Bm"/>
<feComposite in="v1" in2="Fm" operator="arithmetic" k1="0" k2="1" k3="0.500" k4="0" result="v2"/>
<feComposite in="v2" in2="Bm" operator="arithmetic" k1="0" k2="1" k3="-0.500" k4="0" result="v3"/>
<feColorMatrix in="v3" type="matrix" values="0 0 0 1 0 0 0 0 1 0 0 0 0 1 0 0 0 0 0 1" result="g"/>
<feComponentTransfer in="g"><feFuncR type="table" tableValues="0.235 0.228 0.222 0.215 0.208 0.194 0.180 0.167 0.153 0.182 0.212 0.241 0.271 0.297 0.324 0.350 0.376 0.463 0.549 0.675 0.800 0.845 0.890 0.912 0.933 0.965 0.996 0.975 0.953 0.931 0.910 0.894 0.878 0.894 0.910 0.925 0.941 0.956 0.971 0.985 1.000 0.954 0.908 0.862 0.816 0.769 0.722 0.675 0.627"/><feFuncG type="table" tableValues="0.235 0.233 0.231 0.229 0.227 0.225 0.224 0.222 0.220 0.249 0.278 0.308 0.337 0.365 0.392 0.420 0.447 0.533 0.620 0.747 0.875 0.904 0.933 0.933 0.933 0.929 0.925 0.904 0.882 0.782 0.682 0.576 0.471 0.412 0.353 0.294 0.235 0.176 0.118 0.059 0.000 0.016 0.031 0.047 0.063 0.068 0.073 0.077 0.082"/><feFuncB type="table" tableValues="0.235 0.249 0.263 0.276 0.290 0.314 0.337 0.361 0.384 0.418 0.451 0.484 0.518 0.543 0.569 0.594 0.620 0.694 0.769 0.867 0.965 0.937 0.910 0.922 0.933 0.859 0.784 0.833 0.882 0.669 0.455 0.227 0.000 0.000 0.000 0.000 0.000 0.000 0.000 0.000 0.000 0.027 0.055 0.082 0.110 0.131 0.153 0.175 0.196"/></feComponentTransfer>
</filter>
<filter id="fld11" filterUnits="userSpaceOnUse" x="579.4" y="138" width="278.4" height="392.3" color-interpolation-filters="sRGB">
<feColorMatrix in="SourceGraphic" type="matrix" values="0 0 0 0 0 0 0 0 0 0 0 0 0 0 0 1 0 0 0 0" result="e0"/>
<feGaussianBlur in="e0" stdDeviation="6" result="E"/>
<feColorMatrix in="SourceGraphic" type="matrix" values="0 0 0 0 0 0 0 0 0 0 0 0 0 0 0 0 1 0 0 0" result="f0"/>
<feGaussianBlur in="f0" stdDeviation="1.4" result="F"/>
<feColorMatrix in="SourceGraphic" type="matrix" values="0 0 0 0 0 0 0 0 0 0 0 0 0 0 0 0 0 1 0 0" result="b0"/>
<feGaussianBlur in="b0" stdDeviation="1.3" result="B"/>
<feTurbulence type="fractalNoise" baseFrequency="0.05 0.105" numOctaves="2" seed="37" result="N0"/>
<feComponentTransfer in="N0" result="N"><feFuncA type="table" tableValues="0.2083 0.2167 0.2250 0.2333 0.2417 0.2500 0.2583 0.2683 0.2783 0.2892 0.3000 0.3150 0.3333 0.3542 0.3750 0.3958 0.4167 0.4375 0.4583 0.4792 0.5000"/></feComponentTransfer>
<feComposite in="N" in2="E" operator="arithmetic" k1="2.000" k2="0" k3="-0.600" k4="0.5" result="v0"/>
<feComponentTransfer in="E" result="Om"><feFuncA type="table" tableValues="0 1 1 1 1 1 1 1 1"/></feComponentTransfer>
<feComposite in="v0" in2="Om" operator="arithmetic" k1="0" k2="1" k3="0.0250" k4="0" result="v1"/>
<feComposite in="F" in2="N0" operator="arithmetic" k1="1.100" k2="0.450" k3="0" k4="0" result="Fm"/>
<feComposite in="B" in2="N0" operator="arithmetic" k1="-1.100" k2="1.550" k3="0" k4="0" result="Bm"/>
<feComposite in="v1" in2="Fm" operator="arithmetic" k1="0" k2="1" k3="0.500" k4="0" result="v2"/>
<feComposite in="v2" in2="Bm" operator="arithmetic" k1="0" k2="1" k3="-0.500" k4="0" result="v3"/>
<feColorMatrix in="v3" type="matrix" values="0 0 0 1 0 0 0 0 1 0 0 0 0 1 0 0 0 0 0 1" result="g"/>
<feComponentTransfer in="g"><feFuncR type="table" tableValues="0.235 0.228 0.222 0.215 0.208 0.194 0.180 0.167 0.153 0.182 0.212 0.241 0.271 0.297 0.324 0.350 0.376 0.463 0.549 0.675 0.800 0.845 0.890 0.912 0.933 0.965 0.996 0.975 0.953 0.931 0.910 0.894 0.878 0.894 0.910 0.925 0.941 0.956 0.971 0.985 1.000 0.954 0.908 0.862 0.816 0.769 0.722 0.675 0.627"/><feFuncG type="table" tableValues="0.235 0.233 0.231 0.229 0.227 0.225 0.224 0.222 0.220 0.249 0.278 0.308 0.337 0.365 0.392 0.420 0.447 0.533 0.620 0.747 0.875 0.904 0.933 0.933 0.933 0.929 0.925 0.904 0.882 0.782 0.682 0.576 0.471 0.412 0.353 0.294 0.235 0.176 0.118 0.059 0.000 0.016 0.031 0.047 0.063 0.068 0.073 0.077 0.082"/><feFuncB type="table" tableValues="0.235 0.249 0.263 0.276 0.290 0.314 0.337 0.361 0.384 0.418 0.451 0.484 0.518 0.543 0.569 0.594 0.620 0.694 0.769 0.867 0.965 0.937 0.910 0.922 0.933 0.859 0.784 0.833 0.882 0.669 0.455 0.227 0.000 0.000 0.000 0.000 0.000 0.000 0.000 0.000 0.000 0.027 0.055 0.082 0.110 0.131 0.153 0.175 0.196"/></feComponentTransfer>
</filter>
<g id="src">
<rect x="319.1" y="120" width="764.6" height="764.6" fill="#000"/>
<circle cx="701.4" cy="502.3" r="356.3" fill="rgb(163,0,0)"/>
<path d="M405.6,344.9 415.5,327.6 426.4,310.9 438.3,294.8 451.1,279.5 464.9,265 479.4,251.3 494.8,238.5 510.9,226.7 527.6,215.8 545,206 562.9,197.2 581.3,189.5 600.2,182.9 619.4,177.4 638.9,173.1 658.6,169.9 678.5,168 698.5,167.2 718.4,167.6 738.4,169.2 758.1,172 777.7,176 797,181.1 816,187.4 766.4,323.7 755.6,320.1 744.7,317.2 733.6,314.9 722.4,313.4 711.1,312.4 699.7,312.2 688.4,312.6 677.1,313.8 666,315.5 654.9,318 644,321.1 633.3,324.8 622.9,329.2 612.7,334.2 602.8,339.8 593.3,345.9 584.2,352.6 575.5,359.9 567.2,367.7 559.5,375.9 552.2,384.6 545.4,393.7 539.3,403.2 533.6,413Z" fill="rgb(184,0,0)"/>
<path d="M814.3,192.1 834.3,200.1 853.8,209.5 872.6,220.1 890.7,231.9 908,244.8 924.3,258.9 939.8,274 954.2,290.1 967.5,307.1 979.7,324.9 990.7,343.5 1000.5,362.7 1009,382.6 1016.1,403 1021.9,423.8 1026.4,444.9 1029.4,466.3 1031.1,487.8 1031.3,509.4 1030.1,531 1027.6,552.4 1023.6,573.6 1018.2,594.5 1011.5,615.1 865.8,562.1 869.4,551.2 872.3,540.1 874.4,528.8 875.7,517.5 876.4,506 876.2,494.6 875.4,483.1 873.7,471.8 871.4,460.6 868.3,449.6 864.5,438.8 860,428.2 854.8,418 849,408.2 842.5,398.7 835.5,389.7 827.8,381.2 819.6,373.2 810.9,365.7 801.8,358.8 792.2,352.6 782.2,347 771.9,342 761.3,337.8Z" fill="rgb(184,0,0)"/>
<path d="M950.4,592.8 942.8,611.6 933.7,629.7 923.3,647 911.6,663.5 898.7,679.1 884.7,693.6 869.5,707 853.4,719.3 836.4,730.2 818.6,739.9 800.1,748.1 781.1,754.9 761.6,760.3 741.7,764.1 721.6,766.4 701.4,767.2 681.2,766.4 661.1,764.1 641.2,760.3 621.7,754.9 602.7,748.1 584.2,739.9 566.4,730.2 549.4,719.3 618.2,621 627.5,627 637.3,632.2 647.4,636.8 657.8,640.5 668.5,643.4 679.3,645.5 690.3,646.8 701.4,647.2 712.5,646.8 723.5,645.5 734.3,643.4 745,640.5 755.4,636.8 765.5,632.2 775.3,627 784.6,621 793.4,614.3 801.7,606.9 809.4,599 816.4,590.5 822.8,581.4 828.5,571.9 833.5,562 837.7,551.8Z" fill="rgb(178,0,0)"/>
<path d="M569.5,690.6 558.1,682.1 547.3,672.9 537,663.1 527.4,652.6 518.4,641.6 510.2,630 502.6,617.9 495.9,605.4 489.9,592.5 484.7,579.3 480.4,565.8 476.9,552 474.2,538 472.4,523.9 471.5,509.7 471.5,495.5 472.3,481.3 474.1,467.2 476.7,453.2 480.1,439.4 484.4,425.9 489.6,412.6 495.5,399.7 502.2,387.2 588.8,437.2 585,444.3 581.7,451.6 578.8,459.1 576.3,466.7 574.4,474.5 572.9,482.4 571.9,490.4 571.5,498.4 571.5,506.5 572,514.5 573,522.4 574.5,530.3 576.5,538.1 578.9,545.8 581.8,553.3 585.2,560.5 589.1,567.6 593.3,574.4 598,581 603,587.2 608.5,593.1 614.3,598.7 620.4,603.9 626.8,608.7Z" fill="rgb(173,0,0)"/>
<path d="M365,400 430,425 500,450 540,500 520,560 440,570 380,540 355,470Z" fill="rgb(92,0,0)"/>
<path d="M880,655 960,650 975,700 950,735 890,735 860,710 850,670Z" fill="rgb(102,0,0)"/>
<path d="M600,735 690,735 700,790 680,830 610,820 570,780Z" fill="rgb(102,0,0)"/>
<path d="M765,735 840,740 850,790 800,810 760,790Z" fill="rgb(102,0,0)"/>
<path d="M480,190 600,170 690,165 690,200 600,215 500,240 460,230Z" fill="rgb(107,0,0)"/>
<path d="M700,312 740,315.2 780,327.2 816,347.2 842,374 858,403.2 866,436 868,468 866,500 860,532 850,560 834,584.8 816.8,604.8 796.8,620.8 776,632.8 748,640.8 724,643.2 700,640.8 672,636.8 648,628.8 624,616.8 603.2,600.8 586.4,580.8 578.4,556 576,532 576.8,508 578.4,484 578.4,460 574.4,436 570.4,416 574.4,391.2 588,363.2 614,340 644,324 672,316Z" fill="none" stroke="rgb(92,0,0)" stroke-width="24" stroke-linejoin="round"/>
<path d="M700,312 740,315.2 780,327.2 816,347.2 842,374 858,403.2 866,436 868,468 866,500 860,532 850,560 834,584.8 816.8,604.8 796.8,620.8 776,632.8 748,640.8 724,643.2 700,640.8 672,636.8 648,628.8 624,616.8 603.2,600.8 586.4,580.8 578.4,556 576,532 576.8,508 578.4,484 578.4,460 574.4,436 570.4,416 574.4,391.2 588,363.2 614,340 644,324 672,316Z" fill="#000"/>
<g fill="none" stroke-linecap="round" stroke-linejoin="round" style="mix-blend-mode:screen">
<path d="M620,246 634,250 648,249 660,252 670,250 680,245 690,249 702,250 716,253" stroke="rgb(36,0,0)" stroke-width="19" style="mix-blend-mode:screen"/>
<path d="M718,196 728,199 736,198.6" stroke="rgb(18,0,0)" stroke-width="19" style="mix-blend-mode:screen"/>
<path d="M804,301 812,305 820,311 830,315" stroke="rgb(18,0,0)" stroke-width="18" style="mix-blend-mode:screen"/>
<path d="M846,319 850,329 856,333" stroke="rgb(18,0,0)" stroke-width="18" style="mix-blend-mode:screen"/>
<path d="M849,304 849,304" stroke="rgb(18,0,0)" stroke-width="18" style="mix-blend-mode:screen"/>
<path d="M536,345 542,335 552,325 560,317 568,307 572,302" stroke="rgb(51,0,0)" stroke-width="20" style="mix-blend-mode:screen"/>
<path d="M568,317 573,307" stroke="rgb(18,0,0)" stroke-width="18" style="mix-blend-mode:screen"/>
<path d="M861,249 863,257 864,265 872,267 880,265 885,269 888,283" stroke="rgb(18,0,0)" stroke-width="18" style="mix-blend-mode:screen"/>
<path d="M937,246 937,246" stroke="rgb(36,0,0)" stroke-width="19" style="mix-blend-mode:screen"/>
<path d="M948,257 948,257" stroke="rgb(18,0,0)" stroke-width="19" style="mix-blend-mode:screen"/>
<path d="M956,445 958,447" stroke="rgb(18,0,0)" stroke-width="18" style="mix-blend-mode:screen"/>
<path d="M962,457 967,453 970,445" stroke="rgb(36,0,0)" stroke-width="19" style="mix-blend-mode:screen"/>
<path d="M944,463 946,469 952,474 948,478" stroke="rgb(51,0,0)" stroke-width="19" style="mix-blend-mode:screen"/>
<path d="M910,463 911,471 913,477" stroke="rgb(51,0,0)" stroke-width="19" style="mix-blend-mode:screen"/>
<path d="M902,483 903,489" stroke="rgb(18,0,0)" stroke-width="18" style="mix-blend-mode:screen"/>
<path d="M938,483 939,491 934,499 926,502" stroke="rgb(18,0,0)" stroke-width="19" style="mix-blend-mode:screen"/>
<path d="M920,477 924,479" stroke="rgb(18,0,0)" stroke-width="18" style="mix-blend-mode:screen"/>
<path d="M908,515 912,511" stroke="rgb(36,0,0)" stroke-width="18" style="mix-blend-mode:screen"/>
<path d="M917,504 920,509" stroke="rgb(18,0,0)" stroke-width="18" style="mix-blend-mode:screen"/>
<path d="M922,517 924,525" stroke="rgb(18,0,0)" stroke-width="18" style="mix-blend-mode:screen"/>
<path d="M954,457 955,461" stroke="rgb(51,0,0)" stroke-width="19" style="mix-blend-mode:screen"/>
<path d="M932,511 932,514" stroke="rgb(18,0,0)" stroke-width="18" style="mix-blend-mode:screen"/>
<path d="M908,511 912,516" stroke="rgb(36,0,0)" stroke-width="18" style="mix-blend-mode:screen"/>
<path d="M921,517 923,524" stroke="rgb(18,0,0)" stroke-width="18" style="mix-blend-mode:screen"/>
<path d="M945,525 947,533" stroke="rgb(51,0,0)" stroke-width="18" style="mix-blend-mode:screen"/>
<path d="M960,525 960,535 954,539 948,543" stroke="rgb(18,0,0)" stroke-width="19" style="mix-blend-mode:screen"/>
<path d="M936,547 939,555 942,563 945,569" stroke="rgb(18,0,0)" stroke-width="19" style="mix-blend-mode:screen"/>
<path d="M929,563 928,571 927,581" stroke="rgb(51,0,0)" stroke-width="20" style="mix-blend-mode:screen"/>
<path d="M922,587 921,595 922,601" stroke="rgb(36,0,0)" stroke-width="19" style="mix-blend-mode:screen"/>
<path d="M910,583 906,591 902,598 896,604 890,611" stroke="rgb(51,0,0)" stroke-width="20" style="mix-blend-mode:screen"/>
<path d="M886,614 880,621 875,627 870,633 866,638" stroke="rgb(51,0,0)" stroke-width="20" style="mix-blend-mode:screen"/>
<path d="M866,613 860,619 854,621 848,619" stroke="rgb(18,0,0)" stroke-width="18" style="mix-blend-mode:screen"/>
<path d="M896,627 892,633 889,639" stroke="rgb(18,0,0)" stroke-width="18" style="mix-blend-mode:screen"/>
<path d="M880,637 876,643" stroke="rgb(18,0,0)" stroke-width="18" style="mix-blend-mode:screen"/>
<path d="M840,675 848,674 854,671" stroke="rgb(36,0,0)" stroke-width="19" style="mix-blend-mode:screen"/>
<path d="M840,661 848,657 852,653" stroke="rgb(18,0,0)" stroke-width="18" style="mix-blend-mode:screen"/>
<path d="M996,611 995,619 994,627" stroke="rgb(51,0,0)" stroke-width="19" style="mix-blend-mode:screen"/>
<path d="M966,615 963,623" stroke="rgb(18,0,0)" stroke-width="19" style="mix-blend-mode:screen"/>
<path d="M955,627 949,633" stroke="rgb(18,0,0)" stroke-width="19" style="mix-blend-mode:screen"/>
<path d="M960,635 954,643" stroke="rgb(18,0,0)" stroke-width="19" style="mix-blend-mode:screen"/>
<path d="M987,637 980,641 976,647 977,655" stroke="rgb(18,0,0)" stroke-width="19" style="mix-blend-mode:screen"/>
<path d="M978,663 972,671 968,679" stroke="rgb(18,0,0)" stroke-width="19" style="mix-blend-mode:screen"/>
<path d="M931,510 931.6,514" stroke="rgb(36,0,0)" stroke-width="18" style="mix-blend-mode:screen"/>
<path d="M915,515 916,518" stroke="rgb(18,0,0)" stroke-width="18" style="mix-blend-mode:screen"/>
<path d="M924,541 924,541" stroke="rgb(18,0,0)" stroke-width="18" style="mix-blend-mode:screen"/>
<path d="M883,609 879,614" stroke="rgb(36,0,0)" stroke-width="19" style="mix-blend-mode:screen"/>
<path d="M883,629 881,634" stroke="rgb(51,0,0)" stroke-width="20" style="mix-blend-mode:screen"/>
<path d="M858,625 858,625" stroke="rgb(18,0,0)" stroke-width="18" style="mix-blend-mode:screen"/>
<path d="M965,639 963,643" stroke="rgb(18,0,0)" stroke-width="19" style="mix-blend-mode:screen"/>
<path d="M1003,614 1003,614" stroke="rgb(18,0,0)" stroke-width="18" style="mix-blend-mode:screen"/>
<path d="M1001,630 1001,630" stroke="rgb(18,0,0)" stroke-width="19" style="mix-blend-mode:screen"/>
<path d="M648,716 654,717" stroke="rgb(36,0,0)" stroke-width="19" style="mix-blend-mode:screen"/>
<path d="M728,695 730,696" stroke="rgb(18,0,0)" stroke-width="18" style="mix-blend-mode:screen"/>
<path d="M774,697 778,698" stroke="rgb(18,0,0)" stroke-width="18" style="mix-blend-mode:screen"/>
<path d="M836,773 844,771 848,769" stroke="rgb(36,0,0)" stroke-width="19" style="mix-blend-mode:screen"/>
<path d="M822,794 832,791 844,790 850,789" stroke="rgb(51,0,0)" stroke-width="19" style="mix-blend-mode:screen"/>
<path d="M802,829 810,825 820,826 824,825" stroke="rgb(36,0,0)" stroke-width="19" style="mix-blend-mode:screen"/>
<path d="M552,625 558,633 562,641" stroke="rgb(18,0,0)" stroke-width="21" style="mix-blend-mode:screen"/>
<path d="M578,635 586,641 592,645" stroke="rgb(36,0,0)" stroke-width="21" style="mix-blend-mode:screen"/>
<path d="M576,659 586,661 594,665 598,667" stroke="rgb(36,0,0)" stroke-width="21" style="mix-blend-mode:screen"/>
<path d="M560,653 564,657" stroke="rgb(18,0,0)" stroke-width="20" style="mix-blend-mode:screen"/>
<path d="M604,675 611,681" stroke="rgb(18,0,0)" stroke-width="20" style="mix-blend-mode:screen"/>
<path d="M561.6,616 561.6,616" stroke="rgb(51,0,0)" stroke-width="18" style="mix-blend-mode:screen"/>
<path d="M566.4,613.4 566.4,613.4" stroke="rgb(51,0,0)" stroke-width="18" style="mix-blend-mode:screen"/>
<path d="M506,358 500,364 494,366" stroke="rgb(18,0,0)" stroke-width="19" style="mix-blend-mode:screen"/>
<path d="M540,353 532,358 524,362 516,364" stroke="rgb(51,0,0)" stroke-width="19" style="mix-blend-mode:screen"/>
<path d="M548,401 550,409 548,419" stroke="rgb(51,0,0)" stroke-width="19" style="mix-blend-mode:screen"/>
<path d="M538,425 540,429" stroke="rgb(51,0,0)" stroke-width="19" style="mix-blend-mode:screen"/>
<path d="M544,391 546,385 552,381 556,375" stroke="rgb(36,0,0)" stroke-width="19" style="mix-blend-mode:screen"/>
<path d="M560,385 566,384" stroke="rgb(36,0,0)" stroke-width="18" style="mix-blend-mode:screen"/>
<path d="M558,395 564,393" stroke="rgb(36,0,0)" stroke-width="18" style="mix-blend-mode:screen"/>
<path d="M548,433 546,441 542,451" stroke="rgb(18,0,0)" stroke-width="19" style="mix-blend-mode:screen"/>
<path d="M552,445 556,443" stroke="rgb(18,0,0)" stroke-width="19" style="mix-blend-mode:screen"/>
<path d="M429,485 427,493 425,499" stroke="rgb(51,0,0)" stroke-width="20" style="mix-blend-mode:screen"/>
<path d="M423,505 422,513" stroke="rgb(18,0,0)" stroke-width="19" style="mix-blend-mode:screen"/>
<path d="M520,357 524,355" stroke="rgb(18,0,0)" stroke-width="18" style="mix-blend-mode:screen"/>
<path d="M559,378 560,382" stroke="rgb(36,0,0)" stroke-width="19" style="mix-blend-mode:screen"/>
<path d="M548,369 549,371" stroke="rgb(18,0,0)" stroke-width="18" style="mix-blend-mode:screen"/>
<path d="M438,491 438.4,497" stroke="rgb(51,0,0)" stroke-width="19" style="mix-blend-mode:screen"/>
<path d="M646,655 656,654 666,656 676,657" stroke="rgb(18,0,0)" stroke-width="19" style="mix-blend-mode:screen"/>
<path d="M680,651 688,649 696,647" stroke="rgb(18,0,0)" stroke-width="19" style="mix-blend-mode:screen"/>
<path d="M702,645 712,647 720,650 730,651" stroke="rgb(36,0,0)" stroke-width="19" style="mix-blend-mode:screen"/>
<path d="M590,653 594,661 598,665" stroke="rgb(51,0,0)" stroke-width="20" style="mix-blend-mode:screen"/>
<path d="M682,707 684,708" stroke="rgb(18,0,0)" stroke-width="18" style="mix-blend-mode:screen"/>
<path d="M648,715 654,717" stroke="rgb(36,0,0)" stroke-width="19" style="mix-blend-mode:screen"/>
<path d="M728,695 730,696" stroke="rgb(36,0,0)" stroke-width="19" style="mix-blend-mode:screen"/>
<path d="M754,683 756,685" stroke="rgb(51,0,0)" stroke-width="19" style="mix-blend-mode:screen"/>
<path d="M748,679 758,676 766,675" stroke="rgb(18,0,0)" stroke-width="19" style="mix-blend-mode:screen"/>
<path d="M772,671 780,669 786,667 790,665" stroke="rgb(51,0,0)" stroke-width="20" style="mix-blend-mode:screen"/>
<path d="M774,681 775,685" stroke="rgb(51,0,0)" stroke-width="19" style="mix-blend-mode:screen"/>
<path d="M798,662 800,665" stroke="rgb(51,0,0)" stroke-width="20" style="mix-blend-mode:screen"/>
<path d="M802,676 810,677 816,674 818,667 816,663" stroke="rgb(51,0,0)" stroke-width="20" style="mix-blend-mode:screen"/>
<path d="M782,689 786,691" stroke="rgb(18,0,0)" stroke-width="18" style="mix-blend-mode:screen"/>
<path d="M772,697 780,696 786,695" stroke="rgb(18,0,0)" stroke-width="19" style="mix-blend-mode:screen"/>
<path d="M790,681 796,685 802,687" stroke="rgb(18,0,0)" stroke-width="18" style="mix-blend-mode:screen"/>
<path d="M828,651 832,647 836,645" stroke="rgb(18,0,0)" stroke-width="19" style="mix-blend-mode:screen"/>
<path d="M840,661 846,659 850,655" stroke="rgb(18,0,0)" stroke-width="19" style="mix-blend-mode:screen"/>
<path d="M840,677 848,673 854,671" stroke="rgb(18,0,0)" stroke-width="19" style="mix-blend-mode:screen"/>
<path d="M830,693 832,687 836,683" stroke="rgb(18,0,0)" stroke-width="19" style="mix-blend-mode:screen"/>
<path d="M852,637 858,633" stroke="rgb(36,0,0)" stroke-width="19" style="mix-blend-mode:screen"/>
<path d="M856,621 861,619" stroke="rgb(18,0,0)" stroke-width="19" style="mix-blend-mode:screen"/>
<path d="M801,669 802,672" stroke="rgb(51,0,0)" stroke-width="19" style="mix-blend-mode:screen"/>
<path d="M772,678 772,678" stroke="rgb(18,0,0)" stroke-width="18" style="mix-blend-mode:screen"/>
<path d="M727,688 727,688" stroke="rgb(18,0,0)" stroke-width="18" style="mix-blend-mode:screen"/>
<path d="M710,698 710,698" stroke="rgb(18,0,0)" stroke-width="18" style="mix-blend-mode:screen"/>
<path d="M674,717 674,717" stroke="rgb(18,0,0)" stroke-width="18" style="mix-blend-mode:screen"/>
<path d="M857,625 857,625" stroke="rgb(18,0,0)" stroke-width="18" style="mix-blend-mode:screen"/>
<path d="M826,658 834,654 840,652" stroke="rgb(18,0,0)" stroke-width="19" style="mix-blend-mode:screen"/>
<path d="M840,660 848,657 852,652" stroke="rgb(18,0,0)" stroke-width="19" style="mix-blend-mode:screen"/>
<path d="M838,678 846,674 852,672" stroke="rgb(18,0,0)" stroke-width="19" style="mix-blend-mode:screen"/>
<path d="M874,646 880,643" stroke="rgb(18,0,0)" stroke-width="19" style="mix-blend-mode:screen"/>
<path d="M974,666 970,672 966,678" stroke="rgb(18,0,0)" stroke-width="19" style="mix-blend-mode:screen"/>
<path d="M804,820 812,824 820,823" stroke="rgb(18,0,0)" stroke-width="19" style="mix-blend-mode:screen"/>
<path d="M476.8,288.4 472.3,294.7 468.7,301 467.4,307.3" stroke="rgb(51,0,0)" stroke-width="19" style="mix-blend-mode:screen"/>
<path d="M457,297.4 455.2,302.8" stroke="rgb(18,0,0)" stroke-width="18" style="mix-blend-mode:screen"/>
<path d="M498.4,282.1 498.4,288.4" stroke="rgb(51,0,0)" stroke-width="19" style="mix-blend-mode:screen"/>
<path d="M502,294.7 500.2,301 494.8,305.5 489.4,309.1 484,311.4" stroke="rgb(51,0,0)" stroke-width="19" style="mix-blend-mode:screen"/>
<path d="M549.7,283 542.5,289.3 533.5,286.6 527.2,290.2 523.6,296.5 520,302.8 516.4,309.1" stroke="rgb(36,0,0)" stroke-width="20" style="mix-blend-mode:screen"/>
<path d="M448,311.8 447.6,317.2 450.7,323.5 451.6,329.8 451.2,336.1 452.5,341.5" stroke="rgb(51,0,0)" stroke-width="19" style="mix-blend-mode:screen"/>
<path d="M468.7,328 475,329.4 484,329.8" stroke="rgb(51,0,0)" stroke-width="18" style="mix-blend-mode:screen"/>
<path d="M489.4,319.9 490.3,326.2 491.2,331.6" stroke="rgb(51,0,0)" stroke-width="19" style="mix-blend-mode:screen"/>
<path d="M488.5,337.9 486.7,343.3" stroke="rgb(51,0,0)" stroke-width="20" style="mix-blend-mode:screen"/>
<path d="M502,318.1 501.1,323.5" stroke="rgb(18,0,0)" stroke-width="18" style="mix-blend-mode:screen"/>
<path d="M547,329.8 540.7,332.5 536.2,337.9 533.5,344.2 531.7,348.7" stroke="rgb(51,0,0)" stroke-width="19" style="mix-blend-mode:screen"/>
<path d="M447.1,295.6 448.9,301 450.7,305.5" stroke="rgb(51,0,0)" stroke-width="20" style="mix-blend-mode:screen"/>
<path d="M453.4,313.6 455.2,315.4" stroke="rgb(51,0,0)" stroke-width="19" style="mix-blend-mode:screen"/>
<path d="M477.7,274.9 476.8,280.3" stroke="rgb(18,0,0)" stroke-width="18" style="mix-blend-mode:screen"/>
<path d="M483.1,293.8 483.1,293.8" stroke="rgb(18,0,0)" stroke-width="18" style="mix-blend-mode:screen"/>
<path d="M481.3,300.1 481.3,300.1" stroke="rgb(18,0,0)" stroke-width="18" style="mix-blend-mode:screen"/>
<path d="M476.8,302.8 476.8,302.8" stroke="rgb(18,0,0)" stroke-width="18" style="mix-blend-mode:screen"/>
<path d="M477.7,309.1 475.9,312.7" stroke="rgb(51,0,0)" stroke-width="20" style="mix-blend-mode:screen"/>
<path d="M505.6,289.3 507.4,288.9" stroke="rgb(36,0,0)" stroke-width="18" style="mix-blend-mode:screen"/>
<path d="M464.2,324 464.2,324" stroke="rgb(36,0,0)" stroke-width="18" style="mix-blend-mode:screen"/>
<path d="M497.1,313.6 496.6,320.8" stroke="rgb(51,0,0)" stroke-width="18" style="mix-blend-mode:screen"/>
<path d="M470.5,339.7 476.8,336.1 484,334.3" stroke="rgb(51,0,0)" stroke-width="22" style="mix-blend-mode:screen"/>
<path d="M472.3,343.3 472.3,343.3" stroke="rgb(36,0,0)" stroke-width="19" style="mix-blend-mode:screen"/>
<path d="M494.8,347.8 501.1,345.1" stroke="rgb(51,0,0)" stroke-width="19" style="mix-blend-mode:screen"/>
<path d="M475.9,349.6 475.9,349.6" stroke="rgb(36,0,0)" stroke-width="18" style="mix-blend-mode:screen"/>
<path d="M502,336.6 502,336.6" stroke="rgb(36,0,0)" stroke-width="17" style="mix-blend-mode:screen"/>
<path d="M516.4,345.6 512.8,347.4" stroke="rgb(18,0,0)" stroke-width="18" style="mix-blend-mode:screen"/>
<path d="M741.8,206.7 747.2,206.3" stroke="rgb(18,0,0)" stroke-width="19" style="mix-blend-mode:screen"/>
<path d="M755.3,208.5 758.9,213 764.3,217.5 769.7,221.1 776,222.9 779.6,223.8 785,228.3 790.4,231.9 795.8,235.5 801.2,238.2" stroke="rgb(51,0,0)" stroke-width="19" style="mix-blend-mode:screen"/>
<path d="M801.2,238.2 807.5,239.1 814.7,239.1 821,238.2 826.4,240 829.1,244.5 830.9,249 837.2,250.4 843.5,250.8 848,252.6 852.5,256.2 855.2,258" stroke="rgb(51,0,0)" stroke-width="19" style="mix-blend-mode:screen"/>
<path d="M751.7,239.1 757.1,241.8 762.5,242.7 767,241.8" stroke="rgb(51,0,0)" stroke-width="20" style="mix-blend-mode:screen"/>
<path d="M777.8,241.8 781.4,244.5 785,248.1 786.8,250.8" stroke="rgb(51,0,0)" stroke-width="21" style="mix-blend-mode:screen"/>
<path d="M760.7,229.2 766.1,229.2" stroke="rgb(18,0,0)" stroke-width="18" style="mix-blend-mode:screen"/>
<path d="M803,259.8 806.6,264.3 812,267.9 817.4,270.6 823.7,271.5 830,272 832.7,273.3" stroke="rgb(51,0,0)" stroke-width="20" style="mix-blend-mode:screen"/>
<path d="M790.4,261.6 793.1,263.4" stroke="rgb(51,0,0)" stroke-width="20" style="mix-blend-mode:screen"/>
<path d="M806.6,247.2 812,249 814.7,253.5 818.3,255.3" stroke="rgb(18,0,0)" stroke-width="19" style="mix-blend-mode:screen"/>
<path d="M830,218.9 835.4,219.3 843.5,217.5 852.5,215.7 860,213.9" stroke="rgb(51,0,0)" stroke-width="18" style="mix-blend-mode:screen"/>
<path d="M829.1,219.1 830.9,219.5" stroke="rgb(51,0,0)" stroke-width="19" style="mix-blend-mode:screen"/>
<path d="M829.6,229.7 829.6,229.7" stroke="rgb(51,0,0)" stroke-width="18" style="mix-blend-mode:screen"/>
<path d="M787.7,212.1 794,212.1" stroke="rgb(18,0,0)" stroke-width="21" style="mix-blend-mode:screen"/>
<path d="M811.1,213 814.7,213.9" stroke="rgb(36,0,0)" stroke-width="21" style="mix-blend-mode:screen"/>
<path d="M831.8,212.1 839,213 846.2,213.5" stroke="rgb(51,0,0)" stroke-width="20" style="mix-blend-mode:screen"/>
<path d="M803,221.1 804.8,222" stroke="rgb(18,0,0)" stroke-width="19" style="mix-blend-mode:screen"/>
<path d="M794,225.6 797.6,227.4" stroke="rgb(18,0,0)" stroke-width="19" style="mix-blend-mode:screen"/>
<path d="M763.4,223.8 763.4,223.8" stroke="rgb(18,0,0)" stroke-width="18" style="mix-blend-mode:screen"/>
<path d="M776,230.6 776,230.6" stroke="rgb(18,0,0)" stroke-width="19" style="mix-blend-mode:screen"/>
<path d="M826.4,233.7 829.1,235.1" stroke="rgb(51,0,0)" stroke-width="19" style="mix-blend-mode:screen"/>
<path d="M847.1,234.6 850.7,235.5" stroke="rgb(18,0,0)" stroke-width="19" style="mix-blend-mode:screen"/>
<path d="M813.8,261.2 813.8,261.2" stroke="rgb(36,0,0)" stroke-width="19" style="mix-blend-mode:screen"/>
<path d="M857.2,281.7 863.5,281.7 870.7,283.5 877,286.2 881.5,289.8 886,293.4 890.5,295.2" stroke="rgb(51,0,0)" stroke-width="19" style="mix-blend-mode:screen"/>
<path d="M890.5,295.2 896.8,293.9 903.1,292.5 907.6,291.6" stroke="rgb(51,0,0)" stroke-width="18" style="mix-blend-mode:screen"/>
<path d="M890.5,295.2 895,300.6 899.5,305.1 904.9,309.6 910.3,314.1 913,317.7" stroke="rgb(51,0,0)" stroke-width="19" style="mix-blend-mode:screen"/>
<path d="M890.5,315.9 896.8,318.6 904,320 911.2,320.9 918.4,321.8 924.7,324 928.3,328.5 929.7,334.8 929.2,341.1 927.4,346.5 926.5,351 925.6,356.4 928.3,360" stroke="rgb(51,0,0)" stroke-width="20" style="mix-blend-mode:screen"/>
<path d="M888.7,308.7 889.6,313.2 890.5,315.9" stroke="rgb(18,0,0)" stroke-width="19" style="mix-blend-mode:screen"/>
<path d="M904,332.1 908.5,336.6 913,341.1 915.7,344.7" stroke="rgb(51,0,0)" stroke-width="20" style="mix-blend-mode:screen"/>
<path d="M850,304.2 850,304.2" stroke="rgb(18,0,0)" stroke-width="18" style="mix-blend-mode:screen"/>
<path d="M919.3,335.7 921.1,339.3" stroke="rgb(51,0,0)" stroke-width="22" style="mix-blend-mode:screen"/>
<path d="M855.4,325.8 857.2,327.2" stroke="rgb(18,0,0)" stroke-width="18" style="mix-blend-mode:screen"/>
<path d="M928.3,360 932.1,361.3 935.7,364 937.5,367.6" stroke="rgb(51,0,0)" stroke-width="20" style="mix-blend-mode:screen"/>
<path d="M909.6,355 912.3,359.5 915.9,364.9 919.5,369.4" stroke="rgb(18,0,0)" stroke-width="20" style="mix-blend-mode:screen"/>
<path d="M920.4,368.5 923.1,373 924.9,377.5" stroke="rgb(51,0,0)" stroke-width="21" style="mix-blend-mode:screen"/>
<path d="M915.9,385.6 920.4,384.7 925.8,382.9" stroke="rgb(51,0,0)" stroke-width="19" style="mix-blend-mode:screen"/>
<path d="M932.1,384.7 933,390.1 932.1,394.6 933,400 935.7,405.4 937.5,409.9 936.6,415.3 936.6,419.8 941.1,423.4 943.8,427 944.7,431.5" stroke="rgb(51,0,0)" stroke-width="21" style="mix-blend-mode:screen"/>
<path d="M944.7,391 950.1,392.4 954.6,394.6" stroke="rgb(51,0,0)" stroke-width="20" style="mix-blend-mode:screen"/>
<path d="M926.7,427 928.5,432.4 933,437.8 938.4,440.5 944.7,442.3" stroke="rgb(18,0,0)" stroke-width="20" style="mix-blend-mode:screen"/>
<path d="M927.6,366.7 930.3,370.3" stroke="rgb(51,0,0)" stroke-width="20" style="mix-blend-mode:screen"/>
<path d="M940.2,397.3 942,400" stroke="rgb(51,0,0)" stroke-width="21" style="mix-blend-mode:screen"/>
<path d="M945.6,412.6 948.3,418 949.7,421.6" stroke="rgb(18,0,0)" stroke-width="18" style="mix-blend-mode:screen"/>
<path d="M620,246 634,250 648,249 660,252 670,250 680,245 690,249 702,250 716,253" stroke="rgb(0,132,0)" stroke-width="4.3" style="mix-blend-mode:screen"/>
<path d="M620,246 634,250 648,249 660,252 670,250 680,245 690,249 702,250 716,253" stroke="rgb(0,30,0)" stroke-width="7.1" style="mix-blend-mode:screen"/>
<path d="M614,261 626,260 640,261 650,259" stroke="rgb(0,60,0)" stroke-width="4" style="mix-blend-mode:screen"/>
<path d="M590,258 598,263 608,257" stroke="rgb(0,60,0)" stroke-width="4" style="mix-blend-mode:screen"/>
<path d="M598,200 604,198 610,196" stroke="rgb(0,60,0)" stroke-width="4" style="mix-blend-mode:screen"/>
<path d="M604,177 610,175" stroke="rgb(0,60,0)" stroke-width="4" style="mix-blend-mode:screen"/>
<path d="M658,183 667,184 676,184" stroke="rgb(0,76,0)" stroke-width="5" style="mix-blend-mode:screen"/>
<path d="M692,181 702,179 714,181.4" stroke="rgb(0,60,0)" stroke-width="4" style="mix-blend-mode:screen"/>
<path d="M637,203 650,200.6 659,200 669,198.6" stroke="rgb(0,55,0)" stroke-width="5" style="mix-blend-mode:screen"/>
<path d="M718,196 728,199 736,198.6" stroke="rgb(0,100,0)" stroke-width="4.8" style="mix-blend-mode:screen"/>
<path d="M708,218 713,218" stroke="rgb(0,55,0)" stroke-width="5" style="mix-blend-mode:screen"/>
<path d="M670,215 678,214" stroke="rgb(0,50,0)" stroke-width="4" style="mix-blend-mode:screen"/>
<path d="M726,244 738,241 750,239" stroke="rgb(0,31,0)" stroke-width="8" style="mix-blend-mode:screen"/>
<path d="M804,301 812,305 820,311 830,315" stroke="rgb(0,112,0)" stroke-width="3.8" style="mix-blend-mode:screen"/>
<path d="M826,285 830,297 836,305" stroke="rgb(0,83,0)" stroke-width="4" style="mix-blend-mode:screen"/>
<path d="M846,319 850,329 856,333" stroke="rgb(0,110,0)" stroke-width="3.8" style="mix-blend-mode:screen"/>
<path d="M798,299 802,303" stroke="rgb(0,83,0)" stroke-width="4" style="mix-blend-mode:screen"/>
<path d="M849,304 849,304" stroke="rgb(0,131,0)" stroke-width="3.8" style="mix-blend-mode:screen"/>
<path d="M590,275 602,273 614,276 626,278 638,281" stroke="rgb(0,76,0)" stroke-width="5" style="mix-blend-mode:screen"/>
<path d="M710,293 716,292" stroke="rgb(0,55,0)" stroke-width="5" style="mix-blend-mode:screen"/>
<path d="M730,300 736,299" stroke="rgb(0,60,0)" stroke-width="4" style="mix-blend-mode:screen"/>
<path d="M746,285 760,287" stroke="rgb(0,46,0)" stroke-width="5" style="mix-blend-mode:screen"/>
<path d="M710,283 718,285" stroke="rgb(0,50,0)" stroke-width="4" style="mix-blend-mode:screen"/>
<path d="M598,325 604,321 609,317" stroke="rgb(0,76,0)" stroke-width="5" style="mix-blend-mode:screen"/>
<path d="M632,323 638,321" stroke="rgb(0,60,0)" stroke-width="4" style="mix-blend-mode:screen"/>
<path d="M616,331 624,332" stroke="rgb(0,50,0)" stroke-width="4" style="mix-blend-mode:screen"/>
<path d="M778,293 786,297" stroke="rgb(0,55,0)" stroke-width="5" style="mix-blend-mode:screen"/>
<path d="M674,165 674,165" stroke="rgb(0,71,0)" stroke-width="4" style="mix-blend-mode:screen"/>
<path d="M652,243 652,243" stroke="rgb(0,0,51)" stroke-width="5" style="mix-blend-mode:screen"/>
<path d="M668,238 668,238" stroke="rgb(0,0,51)" stroke-width="5" style="mix-blend-mode:screen"/>
<path d="M674,157 674,157" stroke="rgb(0,0,57)" stroke-width="5" style="mix-blend-mode:screen"/>
<path d="M776,171 776,171" stroke="rgb(0,0,57)" stroke-width="5" style="mix-blend-mode:screen"/>
<path d="M801,167 803,181 804,191" stroke="rgb(0,0,80)" stroke-width="4" style="mix-blend-mode:screen"/>
<path d="M528,220 536,217 542,215" stroke="rgb(0,55,0)" stroke-width="5" style="mix-blend-mode:screen"/>
<path d="M558,199 566,198 574,196" stroke="rgb(0,50,0)" stroke-width="4" style="mix-blend-mode:screen"/>
<path d="M540,209 548,211" stroke="rgb(0,50,0)" stroke-width="4" style="mix-blend-mode:screen"/>
<path d="M452,269 460,265 468,263" stroke="rgb(0,55,0)" stroke-width="5" style="mix-blend-mode:screen"/>
<path d="M478,251 486,254 494,253" stroke="rgb(0,50,0)" stroke-width="4" style="mix-blend-mode:screen"/>
<path d="M446,265 452,267" stroke="rgb(0,50,0)" stroke-width="4" style="mix-blend-mode:screen"/>
<path d="M564,259 574,256 582,254" stroke="rgb(0,55,0)" stroke-width="5" style="mix-blend-mode:screen"/>
<path d="M590,257 600,256 608,257" stroke="rgb(0,63,0)" stroke-width="5" style="mix-blend-mode:screen"/>
<path d="M598,266 606,265" stroke="rgb(0,60,0)" stroke-width="4" style="mix-blend-mode:screen"/>
<path d="M578,277 588,276 598,275" stroke="rgb(0,60,0)" stroke-width="4" style="mix-blend-mode:screen"/>
<path d="M540,289 550,293 556,291" stroke="rgb(0,83,0)" stroke-width="4" style="mix-blend-mode:screen"/>
<path d="M560,287 568,283 574,282" stroke="rgb(0,89,0)" stroke-width="4.9" style="mix-blend-mode:screen"/>
<path d="M536,345 542,335 552,325 560,317 568,307 572,302" stroke="rgb(0,192,0)" stroke-width="4.7" style="mix-blend-mode:screen"/>
<path d="M536,345 542,335 552,325 560,317 568,307 572,302" stroke="rgb(0,30,0)" stroke-width="7.6" style="mix-blend-mode:screen"/>
<path d="M576,309 582,313" stroke="rgb(0,60,0)" stroke-width="4" style="mix-blend-mode:screen"/>
<path d="M598,325 604,321 611,319" stroke="rgb(0,83,0)" stroke-width="4" style="mix-blend-mode:screen"/>
<path d="M582,291 584,285" stroke="rgb(0,60,0)" stroke-width="4" style="mix-blend-mode:screen"/>
<path d="M568,317 573,307" stroke="rgb(0,0,148)" stroke-width="3.6" style="mix-blend-mode:screen"/>
<path d="M870,214 878,218 880,225 886,231 892,233" stroke="rgb(0,76,0)" stroke-width="5" style="mix-blend-mode:screen"/>
<path d="M902,237 910,239 916,238" stroke="rgb(0,76,0)" stroke-width="5" style="mix-blend-mode:screen"/>
<path d="M885,244 890,245" stroke="rgb(0,60,0)" stroke-width="4" style="mix-blend-mode:screen"/>
<path d="M931,251 936,259 939,267 940,273" stroke="rgb(0,60,0)" stroke-width="6" style="mix-blend-mode:screen"/>
<path d="M915,261 917,269" stroke="rgb(0,55,0)" stroke-width="5" style="mix-blend-mode:screen"/>
<path d="M949,267 956,273" stroke="rgb(0,55,0)" stroke-width="5" style="mix-blend-mode:screen"/>
<path d="M970,290 980,295 988,301" stroke="rgb(0,52,0)" stroke-width="6" style="mix-blend-mode:screen"/>
<path d="M974,325 982,333" stroke="rgb(0,50,0)" stroke-width="4" style="mix-blend-mode:screen"/>
<path d="M861,249 863,257 864,265 872,267 880,265 885,269 888,283" stroke="rgb(0,113,0)" stroke-width="3.8" style="mix-blend-mode:screen"/>
<path d="M848,305 848,305" stroke="rgb(0,98,0)" stroke-width="4" style="mix-blend-mode:screen"/>
<path d="M840,333 846,341" stroke="rgb(0,60,0)" stroke-width="4" style="mix-blend-mode:screen"/>
<path d="M937,246 937,246" stroke="rgb(0,0,117)" stroke-width="6" style="mix-blend-mode:screen"/>
<path d="M948,257 948,257" stroke="rgb(0,0,102)" stroke-width="6.2" style="mix-blend-mode:screen"/>
<path d="M956,445 958,447" stroke="rgb(0,109,0)" stroke-width="3.8" style="mix-blend-mode:screen"/>
<path d="M962,457 967,453 970,445" stroke="rgb(0,125,0)" stroke-width="4.3" style="mix-blend-mode:screen"/>
<path d="M962,457 967,453 970,445" stroke="rgb(0,30,0)" stroke-width="7.1" style="mix-blend-mode:screen"/>
<path d="M944,463 946,469 952,474 948,478" stroke="rgb(0,157,0)" stroke-width="3.9" style="mix-blend-mode:screen"/>
<path d="M944,463 946,469 952,474 948,478" stroke="rgb(0,30,0)" stroke-width="6.6" style="mix-blend-mode:screen"/>
<path d="M910,463 911,471 913,477" stroke="rgb(0,155,0)" stroke-width="3.9" style="mix-blend-mode:screen"/>
<path d="M910,463 911,471 913,477" stroke="rgb(0,30,0)" stroke-width="6.6" style="mix-blend-mode:screen"/>
<path d="M902,483 903,489" stroke="rgb(0,109,0)" stroke-width="3.8" style="mix-blend-mode:screen"/>
<path d="M938,483 939,491 934,499 926,502" stroke="rgb(0,101,0)" stroke-width="4.8" style="mix-blend-mode:screen"/>
<path d="M920,477 924,479" stroke="rgb(0,109,0)" stroke-width="3.8" style="mix-blend-mode:screen"/>
<path d="M908,515 912,511" stroke="rgb(0,139,0)" stroke-width="3.5" style="mix-blend-mode:screen"/>
<path d="M908,515 912,511" stroke="rgb(0,30,0)" stroke-width="6" style="mix-blend-mode:screen"/>
<path d="M917,504 920,509" stroke="rgb(0,109,0)" stroke-width="3.8" style="mix-blend-mode:screen"/>
<path d="M922,517 924,525" stroke="rgb(0,109,0)" stroke-width="3.8" style="mix-blend-mode:screen"/>
<path d="M954,511 955,517" stroke="rgb(0,83,0)" stroke-width="4" style="mix-blend-mode:screen"/>
<path d="M920,445 922,453" stroke="rgb(0,60,0)" stroke-width="4" style="mix-blend-mode:screen"/>
<path d="M882,453 885,461" stroke="rgb(0,60,0)" stroke-width="4" style="mix-blend-mode:screen"/>
<path d="M858,427 860,435" stroke="rgb(0,60,0)" stroke-width="4" style="mix-blend-mode:screen"/>
<path d="M880,485 883,491" stroke="rgb(0,60,0)" stroke-width="4" style="mix-blend-mode:screen"/>
<path d="M900,501 906,505" stroke="rgb(0,60,0)" stroke-width="4" style="mix-blend-mode:screen"/>
<path d="M888,515 891,523" stroke="rgb(0,60,0)" stroke-width="4" style="mix-blend-mode:screen"/>
<path d="M980,333 984,334" stroke="rgb(0,60,0)" stroke-width="4" style="mix-blend-mode:screen"/>
<path d="M976,345 980,349" stroke="rgb(0,60,0)" stroke-width="4" style="mix-blend-mode:screen"/>
<path d="M1030,395 1029,405" stroke="rgb(0,60,0)" stroke-width="4" style="mix-blend-mode:screen"/>
<path d="M1020,415 1021,419" stroke="rgb(0,60,0)" stroke-width="4" style="mix-blend-mode:screen"/>
<path d="M1048,481 1049,493" stroke="rgb(0,60,0)" stroke-width="6" style="mix-blend-mode:screen"/>
<path d="M1040,471 1042,477" stroke="rgb(0,55,0)" stroke-width="5" style="mix-blend-mode:screen"/>
<path d="M1044,509 1038,517" stroke="rgb(0,55,0)" stroke-width="5" style="mix-blend-mode:screen"/>
<path d="M1014,471 1016,477" stroke="rgb(0,60,0)" stroke-width="4" style="mix-blend-mode:screen"/>
<path d="M848,405 852,409" stroke="rgb(0,50,0)" stroke-width="4" style="mix-blend-mode:screen"/>
<path d="M852,361 852,361" stroke="rgb(0,60,0)" stroke-width="4" style="mix-blend-mode:screen"/>
<path d="M954,457 955,461" stroke="rgb(0,0,191)" stroke-width="3.6" style="mix-blend-mode:screen"/>
<path d="M932,511 932,514" stroke="rgb(0,0,148)" stroke-width="3.6" style="mix-blend-mode:screen"/>
<path d="M916,517 916,517" stroke="rgb(0,0,97)" stroke-width="5" style="mix-blend-mode:screen"/>
<path d="M917,479 917,479" stroke="rgb(0,0,97)" stroke-width="5" style="mix-blend-mode:screen"/>
<path d="M898,473 898,473" stroke="rgb(0,0,66)" stroke-width="5" style="mix-blend-mode:screen"/>
<path d="M908,511 912,516" stroke="rgb(0,116,0)" stroke-width="3.7" style="mix-blend-mode:screen"/>
<path d="M921,517 923,524" stroke="rgb(0,91,0)" stroke-width="4" style="mix-blend-mode:screen"/>
<path d="M945,525 947,533" stroke="rgb(0,144,0)" stroke-width="3.4" style="mix-blend-mode:screen"/>
<path d="M945,525 947,533" stroke="rgb(0,30,0)" stroke-width="5.9" style="mix-blend-mode:screen"/>
<path d="M954,513 955,521" stroke="rgb(0,70,0)" stroke-width="4" style="mix-blend-mode:screen"/>
<path d="M960,525 960,535 954,539 948,543" stroke="rgb(0,84,0)" stroke-width="5" style="mix-blend-mode:screen"/>
<path d="M936,547 939,555 942,563 945,569" stroke="rgb(0,84,0)" stroke-width="5" style="mix-blend-mode:screen"/>
<path d="M929,563 928,571 927,581" stroke="rgb(0,145,0)" stroke-width="4.7" style="mix-blend-mode:screen"/>
<path d="M929,563 928,571 927,581" stroke="rgb(0,30,0)" stroke-width="7.6" style="mix-blend-mode:screen"/>
<path d="M922,587 921,595 922,601" stroke="rgb(0,105,0)" stroke-width="4.7" style="mix-blend-mode:screen"/>
<path d="M910,583 906,591 902,598 896,604 890,611" stroke="rgb(0,127,0)" stroke-width="5.1" style="mix-blend-mode:screen"/>
<path d="M910,583 906,591 902,598 896,604 890,611" stroke="rgb(0,30,0)" stroke-width="8.2" style="mix-blend-mode:screen"/>
<path d="M886,614 880,621 875,627 870,633 866,638" stroke="rgb(0,126,0)" stroke-width="5.1" style="mix-blend-mode:screen"/>
<path d="M886,614 880,621 875,627 870,633 866,638" stroke="rgb(0,30,0)" stroke-width="8.2" style="mix-blend-mode:screen"/>
<path d="M866,613 860,619 854,621 848,619" stroke="rgb(0,92,0)" stroke-width="4" style="mix-blend-mode:screen"/>
<path d="M896,627 892,633 889,639" stroke="rgb(0,91,0)" stroke-width="4" style="mix-blend-mode:screen"/>
<path d="M880,637 876,643" stroke="rgb(0,91,0)" stroke-width="4" style="mix-blend-mode:screen"/>
<path d="M840,675 848,674 854,671" stroke="rgb(0,105,0)" stroke-width="4.7" style="mix-blend-mode:screen"/>
<path d="M840,661 848,657 852,653" stroke="rgb(0,91,0)" stroke-width="4" style="mix-blend-mode:screen"/>
<path d="M860,655 866,659" stroke="rgb(0,70,0)" stroke-width="4" style="mix-blend-mode:screen"/>
<path d="M852,635 856,641" stroke="rgb(0,70,0)" stroke-width="4" style="mix-blend-mode:screen"/>
<path d="M908,614 909,621" stroke="rgb(0,70,0)" stroke-width="4" style="mix-blend-mode:screen"/>
<path d="M990,559 986,567 984,573 986,581 982,589 978,593" stroke="rgb(0,64,0)" stroke-width="5" style="mix-blend-mode:screen"/>
<path d="M996,611 995,619 994,627" stroke="rgb(0,130,0)" stroke-width="4.3" style="mix-blend-mode:screen"/>
<path d="M996,611 995,619 994,627" stroke="rgb(0,30,0)" stroke-width="7.1" style="mix-blend-mode:screen"/>
<path d="M966,615 963,623" stroke="rgb(0,83,0)" stroke-width="5" style="mix-blend-mode:screen"/>
<path d="M955,627 949,633" stroke="rgb(0,83,0)" stroke-width="5" style="mix-blend-mode:screen"/>
<path d="M960,635 954,643" stroke="rgb(0,83,0)" stroke-width="5" style="mix-blend-mode:screen"/>
<path d="M983,609 982,615" stroke="rgb(0,83,0)" stroke-width="4" style="mix-blend-mode:screen"/>
<path d="M980,625 980,631" stroke="rgb(0,83,0)" stroke-width="4" style="mix-blend-mode:screen"/>
<path d="M987,637 980,641 976,647 977,655" stroke="rgb(0,84,0)" stroke-width="5" style="mix-blend-mode:screen"/>
<path d="M978,663 972,671 968,679" stroke="rgb(0,84,0)" stroke-width="5" style="mix-blend-mode:screen"/>
<path d="M1044,511 1038,517 1034,521" stroke="rgb(0,53,0)" stroke-width="5" style="mix-blend-mode:screen"/>
<path d="M1021,553 1018,563" stroke="rgb(0,53,0)" stroke-width="5" style="mix-blend-mode:screen"/>
<path d="M1032,565 1033,577" stroke="rgb(0,53,0)" stroke-width="5" style="mix-blend-mode:screen"/>
<path d="M1012,582 1004,587" stroke="rgb(0,53,0)" stroke-width="5" style="mix-blend-mode:screen"/>
<path d="M1036,599 1028,607" stroke="rgb(0,53,0)" stroke-width="5" style="mix-blend-mode:screen"/>
<path d="M1030,537 1031,543" stroke="rgb(0,58,0)" stroke-width="4" style="mix-blend-mode:screen"/>
<path d="M1022,525 1023,529" stroke="rgb(0,58,0)" stroke-width="4" style="mix-blend-mode:screen"/>
<path d="M1023,637 1023,643" stroke="rgb(0,58,0)" stroke-width="4" style="mix-blend-mode:screen"/>
<path d="M1007,633 1008,639" stroke="rgb(0,58,0)" stroke-width="4" style="mix-blend-mode:screen"/>
<path d="M895,551 893,559" stroke="rgb(0,58,0)" stroke-width="4" style="mix-blend-mode:screen"/>
<path d="M888,513 887,521" stroke="rgb(0,58,0)" stroke-width="4" style="mix-blend-mode:screen"/>
<path d="M914,555 915,563" stroke="rgb(0,58,0)" stroke-width="4" style="mix-blend-mode:screen"/>
<path d="M900,571 904,575" stroke="rgb(0,58,0)" stroke-width="4" style="mix-blend-mode:screen"/>
<path d="M852,579 853,583" stroke="rgb(0,50,0)" stroke-width="4" style="mix-blend-mode:screen"/>
<path d="M924,681 923,687" stroke="rgb(0,50,0)" stroke-width="4" style="mix-blend-mode:screen"/>
<path d="M910,679 909,685" stroke="rgb(0,50,0)" stroke-width="4" style="mix-blend-mode:screen"/>
<path d="M888,653 889,657" stroke="rgb(0,50,0)" stroke-width="4" style="mix-blend-mode:screen"/>
<path d="M931,510 931.6,514" stroke="rgb(0,0,180)" stroke-width="3.3" style="mix-blend-mode:screen"/>
<path d="M915,515 916,518" stroke="rgb(0,0,148)" stroke-width="3.6" style="mix-blend-mode:screen"/>
<path d="M924,541 924,541" stroke="rgb(0,0,113)" stroke-width="5" style="mix-blend-mode:screen"/>
<path d="M883,609 879,614" stroke="rgb(0,0,159)" stroke-width="4.1" style="mix-blend-mode:screen"/>
<path d="M883,629 881,634" stroke="rgb(0,0,174)" stroke-width="4.3" style="mix-blend-mode:screen"/>
<path d="M858,625 858,625" stroke="rgb(0,0,113)" stroke-width="5" style="mix-blend-mode:screen"/>
<path d="M965,639 963,643" stroke="rgb(0,0,133)" stroke-width="4.5" style="mix-blend-mode:screen"/>
<path d="M1003,614 1003,614" stroke="rgb(0,0,113)" stroke-width="5" style="mix-blend-mode:screen"/>
<path d="M1001,630 1001,630" stroke="rgb(0,0,102)" stroke-width="6.2" style="mix-blend-mode:screen"/>
<path d="M921,578 921,578" stroke="rgb(0,0,66)" stroke-width="5" style="mix-blend-mode:screen"/>
<path d="M902,619 902,619" stroke="rgb(0,0,66)" stroke-width="5" style="mix-blend-mode:screen"/>
<path d="M882,648 882,648" stroke="rgb(0,0,82)" stroke-width="5" style="mix-blend-mode:screen"/>
<path d="M648,716 654,717" stroke="rgb(0,101,0)" stroke-width="4.7" style="mix-blend-mode:screen"/>
<path d="M728,695 730,696" stroke="rgb(0,88,0)" stroke-width="4" style="mix-blend-mode:screen"/>
<path d="M774,697 778,698" stroke="rgb(0,88,0)" stroke-width="4" style="mix-blend-mode:screen"/>
<path d="M681,734 684,735" stroke="rgb(0,68,0)" stroke-width="4" style="mix-blend-mode:screen"/>
<path d="M694,761 704,760 714,762 724,760" stroke="rgb(0,62,0)" stroke-width="5" style="mix-blend-mode:screen"/>
<path d="M730,751 736,745" stroke="rgb(0,48,0)" stroke-width="4" style="mix-blend-mode:screen"/>
<path d="M746,731 752,723" stroke="rgb(0,48,0)" stroke-width="4" style="mix-blend-mode:screen"/>
<path d="M694,801 698,805" stroke="rgb(0,48,0)" stroke-width="4" style="mix-blend-mode:screen"/>
<path d="M726,773 726,773" stroke="rgb(0,56,0)" stroke-width="4" style="mix-blend-mode:screen"/>
<path d="M836,773 844,771 848,769" stroke="rgb(0,101,0)" stroke-width="4.7" style="mix-blend-mode:screen"/>
<path d="M822,794 832,791 844,790 850,789" stroke="rgb(0,129,0)" stroke-width="4.3" style="mix-blend-mode:screen"/>
<path d="M822,794 832,791 844,790 850,789" stroke="rgb(0,30,0)" stroke-width="7.2" style="mix-blend-mode:screen"/>
<path d="M802,829 810,825 820,826 824,825" stroke="rgb(0,103,0)" stroke-width="4.7" style="mix-blend-mode:screen"/>
<path d="M786,816 796,817" stroke="rgb(0,68,0)" stroke-width="4" style="mix-blend-mode:screen"/>
<path d="M802,783 810,783" stroke="rgb(0,68,0)" stroke-width="4" style="mix-blend-mode:screen"/>
<path d="M818,801 822,805" stroke="rgb(0,68,0)" stroke-width="4" style="mix-blend-mode:screen"/>
<path d="M838,799 840,807" stroke="rgb(0,68,0)" stroke-width="4" style="mix-blend-mode:screen"/>
<path d="M784,739 790,738" stroke="rgb(0,48,0)" stroke-width="4" style="mix-blend-mode:screen"/>
<path d="M806,743 814,739" stroke="rgb(0,48,0)" stroke-width="4" style="mix-blend-mode:screen"/>
<path d="M828,715 836,719" stroke="rgb(0,48,0)" stroke-width="4" style="mix-blend-mode:screen"/>
<path d="M816,733 820,735" stroke="rgb(0,48,0)" stroke-width="4" style="mix-blend-mode:screen"/>
<path d="M738,825 750,827" stroke="rgb(0,48,0)" stroke-width="4" style="mix-blend-mode:screen"/>
<path d="M758,833 764,835" stroke="rgb(0,48,0)" stroke-width="4" style="mix-blend-mode:screen"/>
<path d="M782,839 790,837" stroke="rgb(0,48,0)" stroke-width="4" style="mix-blend-mode:screen"/>
<path d="M850,809 856,811" stroke="rgb(0,48,0)" stroke-width="4" style="mix-blend-mode:screen"/>
<path d="M596,789 602,788" stroke="rgb(0,48,0)" stroke-width="4" style="mix-blend-mode:screen"/>
<path d="M594,825 602,825" stroke="rgb(0,48,0)" stroke-width="4" style="mix-blend-mode:screen"/>
<path d="M640,837 646,839" stroke="rgb(0,48,0)" stroke-width="4" style="mix-blend-mode:screen"/>
<path d="M650,829 654,828" stroke="rgb(0,48,0)" stroke-width="4" style="mix-blend-mode:screen"/>
<path d="M678,843 686,845" stroke="rgb(0,48,0)" stroke-width="4" style="mix-blend-mode:screen"/>
<path d="M728,849 738,849" stroke="rgb(0,48,0)" stroke-width="4" style="mix-blend-mode:screen"/>
<path d="M610,693 616,699" stroke="rgb(0,68,0)" stroke-width="4" style="mix-blend-mode:screen"/>
<path d="M630,693 636,697" stroke="rgb(0,68,0)" stroke-width="4" style="mix-blend-mode:screen"/>
<path d="M644,693 654,694" stroke="rgb(0,68,0)" stroke-width="4" style="mix-blend-mode:screen"/>
<path d="M674,701 678,707" stroke="rgb(0,68,0)" stroke-width="4" style="mix-blend-mode:screen"/>
<path d="M662,719 668,722" stroke="rgb(0,56,0)" stroke-width="4" style="mix-blend-mode:screen"/>
<path d="M630,721 634,723" stroke="rgb(0,48,0)" stroke-width="4" style="mix-blend-mode:screen"/>
<path d="M620,711 626,713" stroke="rgb(0,48,0)" stroke-width="4" style="mix-blend-mode:screen"/>
<path d="M754,689 758,687" stroke="rgb(0,48,0)" stroke-width="4" style="mix-blend-mode:screen"/>
<path d="M790,689 796,691" stroke="rgb(0,48,0)" stroke-width="4" style="mix-blend-mode:screen"/>
<path d="M674,717 674,717" stroke="rgb(0,0,104)" stroke-width="3.8" style="mix-blend-mode:screen"/>
<path d="M682,707 682,707" stroke="rgb(0,0,104)" stroke-width="3.8" style="mix-blend-mode:screen"/>
<path d="M710,698 710,698" stroke="rgb(0,0,104)" stroke-width="3.8" style="mix-blend-mode:screen"/>
<path d="M727,688 727,688" stroke="rgb(0,0,104)" stroke-width="3.8" style="mix-blend-mode:screen"/>
<path d="M638,718 638,718" stroke="rgb(0,0,85)" stroke-width="3.8" style="mix-blend-mode:screen"/>
<path d="M693,788 693,788" stroke="rgb(0,0,73)" stroke-width="3.8" style="mix-blend-mode:screen"/>
<path d="M698,777 698,777" stroke="rgb(0,0,73)" stroke-width="3.8" style="mix-blend-mode:screen"/>
<path d="M837,744 837,744" stroke="rgb(0,0,85)" stroke-width="3.8" style="mix-blend-mode:screen"/>
<path d="M814,794 814,794" stroke="rgb(0,0,73)" stroke-width="3.8" style="mix-blend-mode:screen"/>
<path d="M430,699 438,700 442,697" stroke="rgb(0,61,0)" stroke-width="5" style="mix-blend-mode:screen"/>
<path d="M452,707 456,713 460,717" stroke="rgb(0,61,0)" stroke-width="5" style="mix-blend-mode:screen"/>
<path d="M432,723 442,727 450,729" stroke="rgb(0,53,0)" stroke-width="5" style="mix-blend-mode:screen"/>
<path d="M486,744 487,746" stroke="rgb(0,67,0)" stroke-width="4" style="mix-blend-mode:screen"/>
<path d="M506,712 509,715" stroke="rgb(0,67,0)" stroke-width="4" style="mix-blend-mode:screen"/>
<path d="M522,747 527,753" stroke="rgb(0,61,0)" stroke-width="5" style="mix-blend-mode:screen"/>
<path d="M536,762 542,768" stroke="rgb(0,61,0)" stroke-width="5" style="mix-blend-mode:screen"/>
<path d="M552,771 562,775 568,781" stroke="rgb(0,61,0)" stroke-width="5" style="mix-blend-mode:screen"/>
<path d="M516,731 520,741" stroke="rgb(0,58,0)" stroke-width="4" style="mix-blend-mode:screen"/>
<path d="M462,754 468,755" stroke="rgb(0,58,0)" stroke-width="4" style="mix-blend-mode:screen"/>
<path d="M520,793 526,803" stroke="rgb(0,58,0)" stroke-width="4" style="mix-blend-mode:screen"/>
<path d="M572,827 578,828" stroke="rgb(0,58,0)" stroke-width="4" style="mix-blend-mode:screen"/>
<path d="M565,738 568,738.6" stroke="rgb(0,58,0)" stroke-width="4" style="mix-blend-mode:screen"/>
<path d="M468,691 470,697" stroke="rgb(0,58,0)" stroke-width="4" style="mix-blend-mode:screen"/>
<path d="M562,698 566,700" stroke="rgb(0,58,0)" stroke-width="4" style="mix-blend-mode:screen"/>
<path d="M566,721 570,719" stroke="rgb(0,58,0)" stroke-width="4" style="mix-blend-mode:screen"/>
<path d="M500,693 506,699" stroke="rgb(0,58,0)" stroke-width="4" style="mix-blend-mode:screen"/>
<path d="M476,731 478,734" stroke="rgb(0,58,0)" stroke-width="4" style="mix-blend-mode:screen"/>
<path d="M552,625 558,633 562,641" stroke="rgb(0,76,0)" stroke-width="7" style="mix-blend-mode:screen"/>
<path d="M578,635 586,641 592,645" stroke="rgb(0,94,0)" stroke-width="6.6" style="mix-blend-mode:screen"/>
<path d="M576,659 586,661 594,665 598,667" stroke="rgb(0,95,0)" stroke-width="6.6" style="mix-blend-mode:screen"/>
<path d="M560,653 564,657" stroke="rgb(0,77,0)" stroke-width="6" style="mix-blend-mode:screen"/>
<path d="M604,675 611,681" stroke="rgb(0,77,0)" stroke-width="6" style="mix-blend-mode:screen"/>
<path d="M548,595 552,603" stroke="rgb(0,62,0)" stroke-width="5" style="mix-blend-mode:screen"/>
<path d="M561.6,616 561.6,616" stroke="rgb(0,176,0)" stroke-width="3.5" style="mix-blend-mode:screen"/>
<path d="M572,587 580,587" stroke="rgb(0,62,0)" stroke-width="5" style="mix-blend-mode:screen"/>
<path d="M570,597 574,601" stroke="rgb(0,68,0)" stroke-width="4" style="mix-blend-mode:screen"/>
<path d="M578,613 582,623" stroke="rgb(0,68,0)" stroke-width="4" style="mix-blend-mode:screen"/>
<path d="M576,673 580,677" stroke="rgb(0,68,0)" stroke-width="4" style="mix-blend-mode:screen"/>
<path d="M422,507 423,515" stroke="rgb(0,51,0)" stroke-width="5" style="mix-blend-mode:screen"/>
<path d="M490,514 491,516" stroke="rgb(0,51,0)" stroke-width="5" style="mix-blend-mode:screen"/>
<path d="M524,575 526,576" stroke="rgb(0,51,0)" stroke-width="5" style="mix-blend-mode:screen"/>
<path d="M540,545 542,553" stroke="rgb(0,56,0)" stroke-width="4" style="mix-blend-mode:screen"/>
<path d="M544,531 543,539" stroke="rgb(0,56,0)" stroke-width="4" style="mix-blend-mode:screen"/>
<path d="M568,548 570,550" stroke="rgb(0,56,0)" stroke-width="4" style="mix-blend-mode:screen"/>
<path d="M576,551 577,557" stroke="rgb(0,56,0)" stroke-width="4" style="mix-blend-mode:screen"/>
<path d="M500,535 501,545" stroke="rgb(0,48,0)" stroke-width="4" style="mix-blend-mode:screen"/>
<path d="M383,555 384,563" stroke="rgb(0,48,0)" stroke-width="4" style="mix-blend-mode:screen"/>
<path d="M437,533 437.4,539" stroke="rgb(0,48,0)" stroke-width="4" style="mix-blend-mode:screen"/>
<path d="M426,607 428,613" stroke="rgb(0,56,0)" stroke-width="4" style="mix-blend-mode:screen"/>
<path d="M409,605 410,609" stroke="rgb(0,56,0)" stroke-width="4" style="mix-blend-mode:screen"/>
<path d="M434,639 442,645" stroke="rgb(0,51,0)" stroke-width="5" style="mix-blend-mode:screen"/>
<path d="M410,645 411,653" stroke="rgb(0,51,0)" stroke-width="5" style="mix-blend-mode:screen"/>
<path d="M440,671 445,679" stroke="rgb(0,51,0)" stroke-width="5" style="mix-blend-mode:screen"/>
<path d="M516,613 518,615" stroke="rgb(0,48,0)" stroke-width="4" style="mix-blend-mode:screen"/>
<path d="M530,625 533,629" stroke="rgb(0,56,0)" stroke-width="4" style="mix-blend-mode:screen"/>
<path d="M434,697 442,699" stroke="rgb(0,48,0)" stroke-width="4" style="mix-blend-mode:screen"/>
<path d="M458,657 460,663" stroke="rgb(0,48,0)" stroke-width="4" style="mix-blend-mode:screen"/>
<path d="M522,509 524,511" stroke="rgb(0,48,0)" stroke-width="4" style="mix-blend-mode:screen"/>
<path d="M540,513 542,515" stroke="rgb(0,48,0)" stroke-width="4" style="mix-blend-mode:screen"/>
<path d="M478,563 484,571" stroke="rgb(0,48,0)" stroke-width="4" style="mix-blend-mode:screen"/>
<path d="M390,587 394,591" stroke="rgb(0,48,0)" stroke-width="4" style="mix-blend-mode:screen"/>
<path d="M364,585 368,591" stroke="rgb(0,48,0)" stroke-width="4" style="mix-blend-mode:screen"/>
<path d="M380,625 382,633" stroke="rgb(0,48,0)" stroke-width="4" style="mix-blend-mode:screen"/>
<path d="M432,621 436,625" stroke="rgb(0,48,0)" stroke-width="4" style="mix-blend-mode:screen"/>
<path d="M566.4,613.4 566.4,613.4" stroke="rgb(0,0,157)" stroke-width="4.4" style="mix-blend-mode:screen"/>
<path d="M490,559 496,569 504,575" stroke="rgb(0,0,81)" stroke-width="3" style="mix-blend-mode:screen"/>
<path d="M560,553 560,553" stroke="rgb(0,0,73)" stroke-width="3.8" style="mix-blend-mode:screen"/>
<path d="M526,571 526,571" stroke="rgb(0,0,73)" stroke-width="3.8" style="mix-blend-mode:screen"/>
<path d="M500,513 500,513" stroke="rgb(0,0,73)" stroke-width="3.8" style="mix-blend-mode:screen"/>
<path d="M566,625 570,629" stroke="rgb(0,0,95)" stroke-width="3" style="mix-blend-mode:screen"/>
<path d="M598,649 598,649" stroke="rgb(0,0,85)" stroke-width="3.8" style="mix-blend-mode:screen"/>
<path d="M552,669 552,669" stroke="rgb(0,0,73)" stroke-width="3.8" style="mix-blend-mode:screen"/>
<path d="M506,358 500,364 494,366" stroke="rgb(0,88,0)" stroke-width="5" style="mix-blend-mode:screen"/>
<path d="M540,353 532,358 524,362 516,364" stroke="rgb(0,141,0)" stroke-width="4.2" style="mix-blend-mode:screen"/>
<path d="M540,353 532,358 524,362 516,364" stroke="rgb(0,30,0)" stroke-width="6.9" style="mix-blend-mode:screen"/>
<path d="M468,357 472,365" stroke="rgb(0,74,0)" stroke-width="4" style="mix-blend-mode:screen"/>
<path d="M460,375 464,379" stroke="rgb(0,53,0)" stroke-width="4" style="mix-blend-mode:screen"/>
<path d="M480,393 484,397" stroke="rgb(0,53,0)" stroke-width="4" style="mix-blend-mode:screen"/>
<path d="M548,401 550,409 548,419" stroke="rgb(0,138,0)" stroke-width="4.2" style="mix-blend-mode:screen"/>
<path d="M548,401 550,409 548,419" stroke="rgb(0,30,0)" stroke-width="6.9" style="mix-blend-mode:screen"/>
<path d="M538,425 540,429" stroke="rgb(0,135,0)" stroke-width="4.2" style="mix-blend-mode:screen"/>
<path d="M538,425 540,429" stroke="rgb(0,30,0)" stroke-width="6.9" style="mix-blend-mode:screen"/>
<path d="M544,391 546,385 552,381 556,375" stroke="rgb(0,113,0)" stroke-width="4.6" style="mix-blend-mode:screen"/>
<path d="M560,385 566,384" stroke="rgb(0,122,0)" stroke-width="3.6" style="mix-blend-mode:screen"/>
<path d="M558,395 564,393" stroke="rgb(0,122,0)" stroke-width="3.6" style="mix-blend-mode:screen"/>
<path d="M548,433 546,441 542,451" stroke="rgb(0,88,0)" stroke-width="5" style="mix-blend-mode:screen"/>
<path d="M552,445 556,443" stroke="rgb(0,87,0)" stroke-width="5" style="mix-blend-mode:screen"/>
<path d="M558,455 560,463 558,473" stroke="rgb(0,80,0)" stroke-width="5" style="mix-blend-mode:screen"/>
<path d="M548,477 549,483" stroke="rgb(0,74,0)" stroke-width="4" style="mix-blend-mode:screen"/>
<path d="M564,485 565,491" stroke="rgb(0,74,0)" stroke-width="4" style="mix-blend-mode:screen"/>
<path d="M530,499 534,505" stroke="rgb(0,74,0)" stroke-width="4" style="mix-blend-mode:screen"/>
<path d="M522,507 525,511" stroke="rgb(0,74,0)" stroke-width="4" style="mix-blend-mode:screen"/>
<path d="M548,505 552,511" stroke="rgb(0,74,0)" stroke-width="4" style="mix-blend-mode:screen"/>
<path d="M429,485 427,493 425,499" stroke="rgb(0,127,0)" stroke-width="5" style="mix-blend-mode:screen"/>
<path d="M429,485 427,493 425,499" stroke="rgb(0,30,0)" stroke-width="8" style="mix-blend-mode:screen"/>
<path d="M423,505 422,513" stroke="rgb(0,87,0)" stroke-width="5" style="mix-blend-mode:screen"/>
<path d="M402,469 401,473" stroke="rgb(0,74,0)" stroke-width="4" style="mix-blend-mode:screen"/>
<path d="M416,477 417,481" stroke="rgb(0,53,0)" stroke-width="4" style="mix-blend-mode:screen"/>
<path d="M444,479 445,485" stroke="rgb(0,53,0)" stroke-width="4" style="mix-blend-mode:screen"/>
<path d="M440,463 448,459" stroke="rgb(0,53,0)" stroke-width="4" style="mix-blend-mode:screen"/>
<path d="M490,513 491,517" stroke="rgb(0,53,0)" stroke-width="4" style="mix-blend-mode:screen"/>
<path d="M466,489 467,493" stroke="rgb(0,53,0)" stroke-width="4" style="mix-blend-mode:screen"/>
<path d="M526,469 527,473" stroke="rgb(0,53,0)" stroke-width="4" style="mix-blend-mode:screen"/>
<path d="M524,425 530,419" stroke="rgb(0,74,0)" stroke-width="4" style="mix-blend-mode:screen"/>
<path d="M552,363 556,359" stroke="rgb(0,74,0)" stroke-width="4" style="mix-blend-mode:screen"/>
<path d="M598,353 600,351" stroke="rgb(0,74,0)" stroke-width="4" style="mix-blend-mode:screen"/>
<path d="M540,361 544,365" stroke="rgb(0,74,0)" stroke-width="4" style="mix-blend-mode:screen"/>
<path d="M520,357 524,355" stroke="rgb(0,0,148)" stroke-width="3.6" style="mix-blend-mode:screen"/>
<path d="M559,378 560,382" stroke="rgb(0,0,159)" stroke-width="4.1" style="mix-blend-mode:screen"/>
<path d="M548,369 549,371" stroke="rgb(0,0,148)" stroke-width="3.6" style="mix-blend-mode:screen"/>
<path d="M438,491 438.4,497" stroke="rgb(0,0,191)" stroke-width="3.6" style="mix-blend-mode:screen"/>
<path d="M477,491 478,495" stroke="rgb(0,0,120)" stroke-width="4" style="mix-blend-mode:screen"/>
<path d="M534,473 534,473" stroke="rgb(0,0,104)" stroke-width="3.8" style="mix-blend-mode:screen"/>
<path d="M544,419 544,419" stroke="rgb(0,0,104)" stroke-width="3.8" style="mix-blend-mode:screen"/>
<path d="M500,513 500,513" stroke="rgb(0,0,85)" stroke-width="3.8" style="mix-blend-mode:screen"/>
<path d="M566,373 566,373" stroke="rgb(0,0,85)" stroke-width="3.8" style="mix-blend-mode:screen"/>
<path d="M646,655 656,654 666,656 676,657" stroke="rgb(0,82,0)" stroke-width="5" style="mix-blend-mode:screen"/>
<path d="M680,651 688,649 696,647" stroke="rgb(0,81,0)" stroke-width="5" style="mix-blend-mode:screen"/>
<path d="M702,645 712,647 720,650 730,651" stroke="rgb(0,104,0)" stroke-width="4.7" style="mix-blend-mode:screen"/>
<path d="M690,671 698,670" stroke="rgb(0,68,0)" stroke-width="4" style="mix-blend-mode:screen"/>
<path d="M670,671 676,673" stroke="rgb(0,56,0)" stroke-width="4" style="mix-blend-mode:screen"/>
<path d="M590,653 594,661 598,665" stroke="rgb(0,116,0)" stroke-width="5.2" style="mix-blend-mode:screen"/>
<path d="M590,653 594,661 598,665" stroke="rgb(0,30,0)" stroke-width="8.3" style="mix-blend-mode:screen"/>
<path d="M602,673 610,677 616,673" stroke="rgb(0,62,0)" stroke-width="5" style="mix-blend-mode:screen"/>
<path d="M614,693 622,699 630,697" stroke="rgb(0,62,0)" stroke-width="5" style="mix-blend-mode:screen"/>
<path d="M628,665 632,669" stroke="rgb(0,68,0)" stroke-width="4" style="mix-blend-mode:screen"/>
<path d="M636,679 640,687 648,695 656,693" stroke="rgb(0,62,0)" stroke-width="5" style="mix-blend-mode:screen"/>
<path d="M596,689 600,691" stroke="rgb(0,68,0)" stroke-width="4" style="mix-blend-mode:screen"/>
<path d="M664,689 670,685" stroke="rgb(0,68,0)" stroke-width="4" style="mix-blend-mode:screen"/>
<path d="M676,703 684,701" stroke="rgb(0,73,0)" stroke-width="5" style="mix-blend-mode:screen"/>
<path d="M682,707 684,708" stroke="rgb(0,88,0)" stroke-width="4" style="mix-blend-mode:screen"/>
<path d="M648,715 654,717" stroke="rgb(0,101,0)" stroke-width="4.7" style="mix-blend-mode:screen"/>
<path d="M628,711 634,713" stroke="rgb(0,56,0)" stroke-width="4" style="mix-blend-mode:screen"/>
<path d="M658,723 666,721" stroke="rgb(0,56,0)" stroke-width="4" style="mix-blend-mode:screen"/>
<path d="M728,695 730,696" stroke="rgb(0,101,0)" stroke-width="4.7" style="mix-blend-mode:screen"/>
<path d="M736,689 742,687" stroke="rgb(0,68,0)" stroke-width="4" style="mix-blend-mode:screen"/>
<path d="M754,683 756,685" stroke="rgb(0,123,0)" stroke-width="4.3" style="mix-blend-mode:screen"/>
<path d="M754,683 756,685" stroke="rgb(0,30,0)" stroke-width="7.2" style="mix-blend-mode:screen"/>
<path d="M748,679 758,676 766,675" stroke="rgb(0,81,0)" stroke-width="5" style="mix-blend-mode:screen"/>
<path d="M772,671 780,669 786,667 790,665" stroke="rgb(0,140,0)" stroke-width="4.8" style="mix-blend-mode:screen"/>
<path d="M772,671 780,669 786,667 790,665" stroke="rgb(0,30,0)" stroke-width="7.7" style="mix-blend-mode:screen"/>
<path d="M774,681 775,685" stroke="rgb(0,123,0)" stroke-width="4.3" style="mix-blend-mode:screen"/>
<path d="M774,681 775,685" stroke="rgb(0,30,0)" stroke-width="7.2" style="mix-blend-mode:screen"/>
<path d="M798,662 800,665" stroke="rgb(0,165,0)" stroke-width="4.3" style="mix-blend-mode:screen"/>
<path d="M798,662 800,665" stroke="rgb(0,30,0)" stroke-width="7.1" style="mix-blend-mode:screen"/>
<path d="M802,676 810,677 816,674 818,667 816,663" stroke="rgb(0,143,0)" stroke-width="4.8" style="mix-blend-mode:screen"/>
<path d="M802,676 810,677 816,674 818,667 816,663" stroke="rgb(0,30,0)" stroke-width="7.7" style="mix-blend-mode:screen"/>
<path d="M782,689 786,691" stroke="rgb(0,88,0)" stroke-width="4" style="mix-blend-mode:screen"/>
<path d="M772,697 780,696 786,695" stroke="rgb(0,80,0)" stroke-width="5" style="mix-blend-mode:screen"/>
<path d="M790,681 796,685 802,687" stroke="rgb(0,88,0)" stroke-width="4" style="mix-blend-mode:screen"/>
<path d="M762,659 764,661" stroke="rgb(0,68,0)" stroke-width="4" style="mix-blend-mode:screen"/>
<path d="M780,655 784,653" stroke="rgb(0,68,0)" stroke-width="4" style="mix-blend-mode:screen"/>
<path d="M828,651 832,647 836,645" stroke="rgb(0,80,0)" stroke-width="5" style="mix-blend-mode:screen"/>
<path d="M840,661 846,659 850,655" stroke="rgb(0,80,0)" stroke-width="5" style="mix-blend-mode:screen"/>
<path d="M840,677 848,673 854,671" stroke="rgb(0,81,0)" stroke-width="5" style="mix-blend-mode:screen"/>
<path d="M830,693 832,687 836,683" stroke="rgb(0,80,0)" stroke-width="5" style="mix-blend-mode:screen"/>
<path d="M852,637 858,633" stroke="rgb(0,101,0)" stroke-width="4.7" style="mix-blend-mode:screen"/>
<path d="M856,621 861,619" stroke="rgb(0,80,0)" stroke-width="5" style="mix-blend-mode:screen"/>
<path d="M820,635 824,633" stroke="rgb(0,68,0)" stroke-width="4" style="mix-blend-mode:screen"/>
<path d="M792,633 794,631" stroke="rgb(0,68,0)" stroke-width="4" style="mix-blend-mode:screen"/>
<path d="M826,603 830,599" stroke="rgb(0,68,0)" stroke-width="4" style="mix-blend-mode:screen"/>
<path d="M822,613 824,609" stroke="rgb(0,68,0)" stroke-width="4" style="mix-blend-mode:screen"/>
<path d="M850,593 856,589" stroke="rgb(0,48,0)" stroke-width="4" style="mix-blend-mode:screen"/>
<path d="M801,669 802,672" stroke="rgb(0,0,205)" stroke-width="3.8" style="mix-blend-mode:screen"/>
<path d="M772,678 772,678" stroke="rgb(0,0,113)" stroke-width="5" style="mix-blend-mode:screen"/>
<path d="M727,688 727,688" stroke="rgb(0,0,113)" stroke-width="5" style="mix-blend-mode:screen"/>
<path d="M710,698 710,698" stroke="rgb(0,0,113)" stroke-width="5" style="mix-blend-mode:screen"/>
<path d="M674,717 674,717" stroke="rgb(0,0,113)" stroke-width="5" style="mix-blend-mode:screen"/>
<path d="M686,695 686,695" stroke="rgb(0,0,97)" stroke-width="5" style="mix-blend-mode:screen"/>
<path d="M683,707 683,707" stroke="rgb(0,0,97)" stroke-width="5" style="mix-blend-mode:screen"/>
<path d="M597,649 597,649" stroke="rgb(0,0,104)" stroke-width="3.8" style="mix-blend-mode:screen"/>
<path d="M638,718 638,718" stroke="rgb(0,0,104)" stroke-width="3.8" style="mix-blend-mode:screen"/>
<path d="M805,685 805,685" stroke="rgb(0,0,104)" stroke-width="3.8" style="mix-blend-mode:screen"/>
<path d="M857,625 857,625" stroke="rgb(0,0,113)" stroke-width="5" style="mix-blend-mode:screen"/>
<path d="M779,679 779,679" stroke="rgb(0,0,85)" stroke-width="3.8" style="mix-blend-mode:screen"/>
<path d="M712,683 712,683" stroke="rgb(0,0,85)" stroke-width="3.8" style="mix-blend-mode:screen"/>
<path d="M826,658 834,654 840,652" stroke="rgb(0,81,0)" stroke-width="5" style="mix-blend-mode:screen"/>
<path d="M840,660 848,657 852,652" stroke="rgb(0,81,0)" stroke-width="5" style="mix-blend-mode:screen"/>
<path d="M838,678 846,674 852,672" stroke="rgb(0,81,0)" stroke-width="5" style="mix-blend-mode:screen"/>
<path d="M858,674 862,670" stroke="rgb(0,68,0)" stroke-width="4" style="mix-blend-mode:screen"/>
<path d="M874,646 880,643" stroke="rgb(0,80,0)" stroke-width="5" style="mix-blend-mode:screen"/>
<path d="M888,654 890,656" stroke="rgb(0,68,0)" stroke-width="4" style="mix-blend-mode:screen"/>
<path d="M830,716 838,714 844,713" stroke="rgb(0,73,0)" stroke-width="5" style="mix-blend-mode:screen"/>
<path d="M822,724 824,728" stroke="rgb(0,68,0)" stroke-width="4" style="mix-blend-mode:screen"/>
<path d="M812,728 816,734" stroke="rgb(0,68,0)" stroke-width="4" style="mix-blend-mode:screen"/>
<path d="M802,742 810,744" stroke="rgb(0,62,0)" stroke-width="5" style="mix-blend-mode:screen"/>
<path d="M840,700 846,702" stroke="rgb(0,56,0)" stroke-width="4" style="mix-blend-mode:screen"/>
<path d="M890,710 892,714" stroke="rgb(0,56,0)" stroke-width="4" style="mix-blend-mode:screen"/>
<path d="M974,666 970,672 966,678" stroke="rgb(0,80,0)" stroke-width="5" style="mix-blend-mode:screen"/>
<path d="M934,666 935,676" stroke="rgb(0,48,0)" stroke-width="4" style="mix-blend-mode:screen"/>
<path d="M910,678 908,684" stroke="rgb(0,48,0)" stroke-width="4" style="mix-blend-mode:screen"/>
<path d="M964,690 966,694" stroke="rgb(0,48,0)" stroke-width="4" style="mix-blend-mode:screen"/>
<path d="M916,698 918,702" stroke="rgb(0,48,0)" stroke-width="4" style="mix-blend-mode:screen"/>
<path d="M902,706 906,702" stroke="rgb(0,40,0)" stroke-width="4" style="mix-blend-mode:screen"/>
<path d="M800,782 806,784 812,783" stroke="rgb(0,62,0)" stroke-width="5" style="mix-blend-mode:screen"/>
<path d="M804,820 812,824 820,823" stroke="rgb(0,81,0)" stroke-width="5" style="mix-blend-mode:screen"/>
<path d="M830,806 838,810" stroke="rgb(0,68,0)" stroke-width="4" style="mix-blend-mode:screen"/>
<path d="M790,816 796,814" stroke="rgb(0,68,0)" stroke-width="4" style="mix-blend-mode:screen"/>
<path d="M814,764 820,760" stroke="rgb(0,68,0)" stroke-width="4" style="mix-blend-mode:screen"/>
<path d="M826,778 830,776" stroke="rgb(0,68,0)" stroke-width="4" style="mix-blend-mode:screen"/>
<path d="M836,744 836,744" stroke="rgb(0,0,104)" stroke-width="3.8" style="mix-blend-mode:screen"/>
<path d="M882,649 882,649" stroke="rgb(0,0,104)" stroke-width="3.8" style="mix-blend-mode:screen"/>
<path d="M804,694 804,694" stroke="rgb(0,0,85)" stroke-width="3.8" style="mix-blend-mode:screen"/>
<path d="M850,800 850,800" stroke="rgb(0,0,85)" stroke-width="3.8" style="mix-blend-mode:screen"/>
<path d="M476.8,288.4 472.3,294.7 468.7,301 467.4,307.3" stroke="rgb(0,203,0)" stroke-width="3.8" style="mix-blend-mode:screen"/>
<path d="M476.8,288.4 472.3,294.7 468.7,301 467.4,307.3" stroke="rgb(0,30,0)" stroke-width="6.5" style="mix-blend-mode:screen"/>
<path d="M457,297.4 455.2,302.8" stroke="rgb(0,124,0)" stroke-width="3.6" style="mix-blend-mode:screen"/>
<path d="M457,297.4 455.2,302.8" stroke="rgb(0,30,0)" stroke-width="6.2" style="mix-blend-mode:screen"/>
<path d="M484.9,269.5 484,276.7 484.9,284.8 480.4,287.5" stroke="rgb(0,78,0)" stroke-width="4" style="mix-blend-mode:screen"/>
<path d="M493,273.1 499.3,274" stroke="rgb(0,80,0)" stroke-width="3" style="mix-blend-mode:screen"/>
<path d="M498.4,282.1 498.4,288.4" stroke="rgb(0,181,0)" stroke-width="3.6" style="mix-blend-mode:screen"/>
<path d="M498.4,282.1 498.4,288.4" stroke="rgb(0,30,0)" stroke-width="6.2" style="mix-blend-mode:screen"/>
<path d="M502,294.7 500.2,301 494.8,305.5 489.4,309.1 484,311.4" stroke="rgb(0,183,0)" stroke-width="3.6" style="mix-blend-mode:screen"/>
<path d="M502,294.7 500.2,301 494.8,305.5 489.4,309.1 484,311.4" stroke="rgb(0,30,0)" stroke-width="6.2" style="mix-blend-mode:screen"/>
<path d="M503.8,284.8 511,281.2 514.6,278.5" stroke="rgb(0,85,0)" stroke-width="5" style="mix-blend-mode:screen"/>
<path d="M509.2,292.9 515.5,289.3 520,286.6" stroke="rgb(0,93,0)" stroke-width="4" style="mix-blend-mode:screen"/>
<path d="M549.7,283 542.5,289.3 533.5,286.6 527.2,290.2 523.6,296.5 520,302.8 516.4,309.1" stroke="rgb(0,139,0)" stroke-width="4.9" style="mix-blend-mode:screen"/>
<path d="M549.7,283 542.5,289.3 533.5,286.6 527.2,290.2 523.6,296.5 520,302.8 516.4,309.1" stroke="rgb(0,30,0)" stroke-width="7.8" style="mix-blend-mode:screen"/>
<path d="M531.7,282.1 538,281.2" stroke="rgb(0,78,0)" stroke-width="4" style="mix-blend-mode:screen"/>
<path d="M448,311.8 447.6,317.2 450.7,323.5 451.6,329.8 451.2,336.1 452.5,341.5" stroke="rgb(0,185,0)" stroke-width="3.6" style="mix-blend-mode:screen"/>
<path d="M448,311.8 447.6,317.2 450.7,323.5 451.6,329.8 451.2,336.1 452.5,341.5" stroke="rgb(0,30,0)" stroke-width="6.2" style="mix-blend-mode:screen"/>
<path d="M453.4,323.5 454.3,330.7" stroke="rgb(0,85,0)" stroke-width="5" style="mix-blend-mode:screen"/>
<path d="M468.7,328 475,329.4 484,329.8" stroke="rgb(0,255,0)" stroke-width="3.5" style="mix-blend-mode:screen"/>
<path d="M468.7,328 475,329.4 484,329.8" stroke="rgb(0,30,0)" stroke-width="6" style="mix-blend-mode:screen"/>
<path d="M489.4,319.9 490.3,326.2 491.2,331.6" stroke="rgb(0,181,0)" stroke-width="3.6" style="mix-blend-mode:screen"/>
<path d="M489.4,319.9 490.3,326.2 491.2,331.6" stroke="rgb(0,30,0)" stroke-width="6.2" style="mix-blend-mode:screen"/>
<path d="M488.5,337.9 486.7,343.3" stroke="rgb(0,227,0)" stroke-width="5.2" style="mix-blend-mode:screen"/>
<path d="M488.5,337.9 486.7,343.3" stroke="rgb(0,30,0)" stroke-width="8.3" style="mix-blend-mode:screen"/>
<path d="M502,318.1 501.1,323.5" stroke="rgb(0,124,0)" stroke-width="3.6" style="mix-blend-mode:screen"/>
<path d="M502,318.1 501.1,323.5" stroke="rgb(0,30,0)" stroke-width="6.2" style="mix-blend-mode:screen"/>
<path d="M510.1,308.2 508.3,311.8" stroke="rgb(0,71,0)" stroke-width="5" style="mix-blend-mode:screen"/>
<path d="M547,329.8 540.7,332.5 536.2,337.9 533.5,344.2 531.7,348.7" stroke="rgb(0,203,0)" stroke-width="3.8" style="mix-blend-mode:screen"/>
<path d="M547,329.8 540.7,332.5 536.2,337.9 533.5,344.2 531.7,348.7" stroke="rgb(0,30,0)" stroke-width="6.5" style="mix-blend-mode:screen"/>
<path d="M448,268.6 450.7,271.3" stroke="rgb(0,59,0)" stroke-width="6" style="mix-blend-mode:screen"/>
<path d="M461.5,268.6 463.3,271.3" stroke="rgb(0,62,0)" stroke-width="5" style="mix-blend-mode:screen"/>
<path d="M441.7,292.9 441.7,292.9" stroke="rgb(0,92,0)" stroke-width="4" style="mix-blend-mode:screen"/>
<path d="M463.3,341.5 465.1,343.3" stroke="rgb(0,68,0)" stroke-width="4" style="mix-blend-mode:screen"/>
<path d="M454.3,350.5 454.3,350.5" stroke="rgb(0,80,0)" stroke-width="4" style="mix-blend-mode:screen"/>
<path d="M469.6,317.2 469.6,317.2" stroke="rgb(0,80,0)" stroke-width="4" style="mix-blend-mode:screen"/>
<path d="M519.1,335.2 519.1,335.2" stroke="rgb(0,80,0)" stroke-width="4" style="mix-blend-mode:screen"/>
<path d="M499.3,339.7 499.3,339.7" stroke="rgb(0,92,0)" stroke-width="4" style="mix-blend-mode:screen"/>
<path d="M447.1,295.6 448.9,301 450.7,305.5" stroke="rgb(0,0,189)" stroke-width="4.6" style="mix-blend-mode:screen"/>
<path d="M453.4,313.6 455.2,315.4" stroke="rgb(0,0,232)" stroke-width="4.3" style="mix-blend-mode:screen"/>
<path d="M477.7,274.9 476.8,280.3" stroke="rgb(0,0,148)" stroke-width="3.6" style="mix-blend-mode:screen"/>
<path d="M483.1,293.8 483.1,293.8" stroke="rgb(0,0,113)" stroke-width="5" style="mix-blend-mode:screen"/>
<path d="M481.3,300.1 481.3,300.1" stroke="rgb(0,0,113)" stroke-width="5" style="mix-blend-mode:screen"/>
<path d="M476.8,302.8 476.8,302.8" stroke="rgb(0,0,113)" stroke-width="5" style="mix-blend-mode:screen"/>
<path d="M477.7,309.1 475.9,312.7" stroke="rgb(0,0,218)" stroke-width="5.2" style="mix-blend-mode:screen"/>
<path d="M505.6,289.3 507.4,288.9" stroke="rgb(0,0,180)" stroke-width="3.3" style="mix-blend-mode:screen"/>
<path d="M464.2,324 464.2,324" stroke="rgb(0,0,132)" stroke-width="4.8" style="mix-blend-mode:screen"/>
<path d="M497.1,313.6 496.6,320.8" stroke="rgb(0,0,220)" stroke-width="2.9" style="mix-blend-mode:screen"/>
<path d="M470.5,339.7 476.8,336.1 484,334.3" stroke="rgb(0,0,191)" stroke-width="6.6" style="mix-blend-mode:screen"/>
<path d="M472.3,343.3 472.3,343.3" stroke="rgb(0,0,117)" stroke-width="6" style="mix-blend-mode:screen"/>
<path d="M494.8,347.8 501.1,345.1" stroke="rgb(0,0,191)" stroke-width="3.6" style="mix-blend-mode:screen"/>
<path d="M475.9,349.6 475.9,349.6" stroke="rgb(0,0,132)" stroke-width="4.8" style="mix-blend-mode:screen"/>
<path d="M502,336.6 502,336.6" stroke="rgb(0,0,172)" stroke-width="3.6" style="mix-blend-mode:screen"/>
<path d="M516.4,345.6 512.8,347.4" stroke="rgb(0,0,148)" stroke-width="3.6" style="mix-blend-mode:screen"/>
<path d="M476.8,322.6 476.8,322.6" stroke="rgb(0,0,57)" stroke-width="5" style="mix-blend-mode:screen"/>
<path d="M483.1,322.6 483.1,322.6" stroke="rgb(0,0,57)" stroke-width="5" style="mix-blend-mode:screen"/>
<path d="M741.8,206.7 747.2,206.3" stroke="rgb(0,112,0)" stroke-width="4.5" style="mix-blend-mode:screen"/>
<path d="M741.8,206.7 747.2,206.3" stroke="rgb(0,30,0)" stroke-width="7.4" style="mix-blend-mode:screen"/>
<path d="M755.3,208.5 758.9,213 764.3,217.5 769.7,221.1 776,222.9 779.6,223.8 785,228.3 790.4,231.9 795.8,235.5 801.2,238.2" stroke="rgb(0,186,0)" stroke-width="3.6" style="mix-blend-mode:screen"/>
<path d="M755.3,208.5 758.9,213 764.3,217.5 769.7,221.1 776,222.9 779.6,223.8 785,228.3 790.4,231.9 795.8,235.5 801.2,238.2" stroke="rgb(0,30,0)" stroke-width="6.2" style="mix-blend-mode:screen"/>
<path d="M801.2,238.2 807.5,239.1 814.7,239.1 821,238.2 826.4,240 829.1,244.5 830.9,249 837.2,250.4 843.5,250.8 848,252.6 852.5,256.2 855.2,258" stroke="rgb(0,242,0)" stroke-width="4.3" style="mix-blend-mode:screen"/>
<path d="M801.2,238.2 807.5,239.1 814.7,239.1 821,238.2 826.4,240 829.1,244.5 830.9,249 837.2,250.4 843.5,250.8 848,252.6 852.5,256.2 855.2,258" stroke="rgb(0,30,0)" stroke-width="7.2" style="mix-blend-mode:screen"/>
<path d="M751.7,239.1 757.1,241.8 762.5,242.7 767,241.8" stroke="rgb(0,208,0)" stroke-width="4.9" style="mix-blend-mode:screen"/>
<path d="M751.7,239.1 757.1,241.8 762.5,242.7 767,241.8" stroke="rgb(0,30,0)" stroke-width="7.9" style="mix-blend-mode:screen"/>
<path d="M777.8,241.8 781.4,244.5 785,248.1 786.8,250.8" stroke="rgb(0,219,0)" stroke-width="6.1" style="mix-blend-mode:screen"/>
<path d="M777.8,241.8 781.4,244.5 785,248.1 786.8,250.8" stroke="rgb(0,30,0)" stroke-width="9.4" style="mix-blend-mode:screen"/>
<path d="M740,240 745.4,239.1 750.8,238.2" stroke="rgb(0,81,0)" stroke-width="6" style="mix-blend-mode:screen"/>
<path d="M764.3,202.2 770.6,204 776.9,205.4" stroke="rgb(0,85,0)" stroke-width="5" style="mix-blend-mode:screen"/>
<path d="M760.7,229.2 766.1,229.2" stroke="rgb(0,124,0)" stroke-width="3.6" style="mix-blend-mode:screen"/>
<path d="M760.7,229.2 766.1,229.2" stroke="rgb(0,30,0)" stroke-width="6.2" style="mix-blend-mode:screen"/>
<path d="M803,259.8 806.6,264.3 812,267.9 817.4,270.6 823.7,271.5 830,272 832.7,273.3" stroke="rgb(0,208,0)" stroke-width="4.9" style="mix-blend-mode:screen"/>
<path d="M803,259.8 806.6,264.3 812,267.9 817.4,270.6 823.7,271.5 830,272 832.7,273.3" stroke="rgb(0,30,0)" stroke-width="7.9" style="mix-blend-mode:screen"/>
<path d="M790.4,261.6 793.1,263.4" stroke="rgb(0,165,0)" stroke-width="4.3" style="mix-blend-mode:screen"/>
<path d="M790.4,261.6 793.1,263.4" stroke="rgb(0,30,0)" stroke-width="7.1" style="mix-blend-mode:screen"/>
<path d="M793.1,267 794,274.2" stroke="rgb(0,81,0)" stroke-width="6" style="mix-blend-mode:screen"/>
<path d="M806.6,247.2 812,249 814.7,253.5 818.3,255.3" stroke="rgb(0,112,0)" stroke-width="4.5" style="mix-blend-mode:screen"/>
<path d="M806.6,247.2 812,249 814.7,253.5 818.3,255.3" stroke="rgb(0,30,0)" stroke-width="7.4" style="mix-blend-mode:screen"/>
<path d="M740,264.3 749,263.4 758,261.6 763.4,257.1 767,253.5" stroke="rgb(0,68,0)" stroke-width="6" style="mix-blend-mode:screen"/>
<path d="M769.7,256.2 777.8,258" stroke="rgb(0,68,0)" stroke-width="6" style="mix-blend-mode:screen"/>
<path d="M830,218.9 835.4,219.3 843.5,217.5 852.5,215.7 860,213.9" stroke="rgb(0,213,0)" stroke-width="2.9" style="mix-blend-mode:screen"/>
<path d="M830,218.9 835.4,219.3 843.5,217.5 852.5,215.7 860,213.9" stroke="rgb(0,30,0)" stroke-width="5.2" style="mix-blend-mode:screen"/>
<path d="M829.1,219.1 830.9,219.5" stroke="rgb(0,203,0)" stroke-width="3.8" style="mix-blend-mode:screen"/>
<path d="M829.1,219.1 830.9,219.5" stroke="rgb(0,30,0)" stroke-width="6.5" style="mix-blend-mode:screen"/>
<path d="M829.6,229.7 829.6,229.7" stroke="rgb(0,255,0)" stroke-width="2.9" style="mix-blend-mode:screen"/>
<path d="M835.4,232.8 838.1,234.6" stroke="rgb(0,93,0)" stroke-width="4" style="mix-blend-mode:screen"/>
<path d="M841.7,258 846.2,260.7" stroke="rgb(0,78,0)" stroke-width="4" style="mix-blend-mode:screen"/>
<path d="M843.5,224.7 852.5,223.8" stroke="rgb(0,49,0)" stroke-width="7" style="mix-blend-mode:screen"/>
<path d="M839,271.5 848,274.2" stroke="rgb(0,68,0)" stroke-width="4" style="mix-blend-mode:screen"/>
<path d="M824.6,212.1 820.1,214.8 813.8,219.3" stroke="rgb(0,92,0)" stroke-width="3" style="mix-blend-mode:screen"/>
<path d="M804.8,277.8 811.1,278.7" stroke="rgb(0,78,0)" stroke-width="4" style="mix-blend-mode:screen"/>
<path d="M825.5,280.5 825.5,280.5" stroke="rgb(0,92,0)" stroke-width="4" style="mix-blend-mode:screen"/>
<path d="M769.7,277.8 776,280.5" stroke="rgb(0,78,0)" stroke-width="4" style="mix-blend-mode:screen"/>
<path d="M744.5,276 744.5,276" stroke="rgb(0,68,0)" stroke-width="4" style="mix-blend-mode:screen"/>
<path d="M765.2,208.5 770.6,213 776,214.8" stroke="rgb(0,0,92)" stroke-width="5" style="mix-blend-mode:screen"/>
<path d="M787.7,212.1 794,212.1" stroke="rgb(0,0,122)" stroke-width="6.3" style="mix-blend-mode:screen"/>
<path d="M811.1,213 814.7,213.9" stroke="rgb(0,0,142)" stroke-width="5.7" style="mix-blend-mode:screen"/>
<path d="M821,208.5 826.4,206.7" stroke="rgb(0,0,110)" stroke-width="5" style="mix-blend-mode:screen"/>
<path d="M831.8,212.1 839,213 846.2,213.5" stroke="rgb(0,0,174)" stroke-width="4.3" style="mix-blend-mode:screen"/>
<path d="M803,221.1 804.8,222" stroke="rgb(0,0,133)" stroke-width="4.5" style="mix-blend-mode:screen"/>
<path d="M794,225.6 797.6,227.4" stroke="rgb(0,0,133)" stroke-width="4.5" style="mix-blend-mode:screen"/>
<path d="M763.4,223.8 763.4,223.8" stroke="rgb(0,0,113)" stroke-width="5" style="mix-blend-mode:screen"/>
<path d="M776,230.6 776,230.6" stroke="rgb(0,0,102)" stroke-width="6.2" style="mix-blend-mode:screen"/>
<path d="M763.4,234.6 763.4,234.6" stroke="rgb(0,0,97)" stroke-width="5" style="mix-blend-mode:screen"/>
<path d="M826.4,233.7 829.1,235.1" stroke="rgb(0,0,205)" stroke-width="3.8" style="mix-blend-mode:screen"/>
<path d="M847.1,234.6 850.7,235.5" stroke="rgb(0,0,133)" stroke-width="4.5" style="mix-blend-mode:screen"/>
<path d="M840.8,245.4 844.4,246.3" stroke="rgb(0,0,120)" stroke-width="4" style="mix-blend-mode:screen"/>
<path d="M833.6,240 833.6,240" stroke="rgb(0,0,82)" stroke-width="5" style="mix-blend-mode:screen"/>
<path d="M813.8,261.2 813.8,261.2" stroke="rgb(0,0,117)" stroke-width="6" style="mix-blend-mode:screen"/>
<path d="M793.1,248.6 793.1,248.6" stroke="rgb(0,0,66)" stroke-width="5" style="mix-blend-mode:screen"/>
<path d="M857.2,281.7 863.5,281.7 870.7,283.5 877,286.2 881.5,289.8 886,293.4 890.5,295.2" stroke="rgb(0,223,0)" stroke-width="4.1" style="mix-blend-mode:screen"/>
<path d="M857.2,281.7 863.5,281.7 870.7,283.5 877,286.2 881.5,289.8 886,293.4 890.5,295.2" stroke="rgb(0,30,0)" stroke-width="6.8" style="mix-blend-mode:screen"/>
<path d="M890.5,295.2 896.8,293.9 903.1,292.5 907.6,291.6" stroke="rgb(0,208,0)" stroke-width="2.9" style="mix-blend-mode:screen"/>
<path d="M890.5,295.2 896.8,293.9 903.1,292.5 907.6,291.6" stroke="rgb(0,30,0)" stroke-width="5.2" style="mix-blend-mode:screen"/>
<path d="M855.4,285.3 859.9,290.7 866.2,293.4 872.5,292.5 877,290.7" stroke="rgb(0,86,0)" stroke-width="5" style="mix-blend-mode:screen"/>
<path d="M890.5,295.2 895,300.6 899.5,305.1 904.9,309.6 910.3,314.1 913,317.7" stroke="rgb(0,223,0)" stroke-width="4.1" style="mix-blend-mode:screen"/>
<path d="M890.5,295.2 895,300.6 899.5,305.1 904.9,309.6 910.3,314.1 913,317.7" stroke="rgb(0,30,0)" stroke-width="6.8" style="mix-blend-mode:screen"/>
<path d="M890.5,315.9 896.8,318.6 904,320 911.2,320.9 918.4,321.8 924.7,324 928.3,328.5 929.7,334.8 929.2,341.1 927.4,346.5 926.5,351 925.6,356.4 928.3,360" stroke="rgb(0,246,0)" stroke-width="5.5" style="mix-blend-mode:screen"/>
<path d="M890.5,315.9 896.8,318.6 904,320 911.2,320.9 918.4,321.8 924.7,324 928.3,328.5 929.7,334.8 929.2,341.1 927.4,346.5 926.5,351 925.6,356.4 928.3,360" stroke="rgb(0,30,0)" stroke-width="8.7" style="mix-blend-mode:screen"/>
<path d="M888.7,308.7 889.6,313.2 890.5,315.9" stroke="rgb(0,112,0)" stroke-width="4.5" style="mix-blend-mode:screen"/>
<path d="M888.7,308.7 889.6,313.2 890.5,315.9" stroke="rgb(0,30,0)" stroke-width="7.4" style="mix-blend-mode:screen"/>
<path d="M904,332.1 908.5,336.6 913,341.1 915.7,344.7" stroke="rgb(0,187,0)" stroke-width="4.6" style="mix-blend-mode:screen"/>
<path d="M904,332.1 908.5,336.6 913,341.1 915.7,344.7" stroke="rgb(0,30,0)" stroke-width="7.5" style="mix-blend-mode:screen"/>
<path d="M886,273.6 886.9,279 888.7,284.4" stroke="rgb(0,78,0)" stroke-width="4" style="mix-blend-mode:screen"/>
<path d="M937.3,281.7 936.4,288 939.1,293.4 940.9,297.9" stroke="rgb(0,71,0)" stroke-width="5" style="mix-blend-mode:screen"/>
<path d="M956.2,288 958,292.5" stroke="rgb(0,62,0)" stroke-width="5" style="mix-blend-mode:screen"/>
<path d="M953.5,271.8 957.1,273.6" stroke="rgb(0,78,0)" stroke-width="4" style="mix-blend-mode:screen"/>
<path d="M934.6,278.1 934.6,278.1" stroke="rgb(0,80,0)" stroke-width="4" style="mix-blend-mode:screen"/>
<path d="M856.3,311.4 860.8,318.6 862.6,321.3" stroke="rgb(0,71,0)" stroke-width="5" style="mix-blend-mode:screen"/>
<path d="M850,327.6 852.7,333 854.5,336.6" stroke="rgb(0,85,0)" stroke-width="5" style="mix-blend-mode:screen"/>
<path d="M868,336.6 868,336.6" stroke="rgb(0,92,0)" stroke-width="4" style="mix-blend-mode:screen"/>
<path d="M879.7,336.6 879.7,336.6" stroke="rgb(0,80,0)" stroke-width="4" style="mix-blend-mode:screen"/>
<path d="M887.8,344.7 887.8,344.7" stroke="rgb(0,80,0)" stroke-width="4" style="mix-blend-mode:screen"/>
<path d="M878.8,305.1 878.8,305.1" stroke="rgb(0,92,0)" stroke-width="4" style="mix-blend-mode:screen"/>
<path d="M850,304.2 850,304.2" stroke="rgb(0,154,0)" stroke-width="3.6" style="mix-blend-mode:screen"/>
<path d="M908.5,351 912.1,355.5 914.8,360" stroke="rgb(0,85,0)" stroke-width="5" style="mix-blend-mode:screen"/>
<path d="M963.4,309.6 966.1,311.4" stroke="rgb(0,58,0)" stroke-width="4" style="mix-blend-mode:screen"/>
<path d="M895,328.5 895.9,333" stroke="rgb(0,58,0)" stroke-width="4" style="mix-blend-mode:screen"/>
<path d="M877,297 880.6,298.8" stroke="rgb(0,93,0)" stroke-width="4" style="mix-blend-mode:screen"/>
<path d="M866.2,299.7 866.2,299.7" stroke="rgb(0,80,0)" stroke-width="4" style="mix-blend-mode:screen"/>
<path d="M919.3,335.7 921.1,339.3" stroke="rgb(0,0,191)" stroke-width="6.6" style="mix-blend-mode:screen"/>
<path d="M916.6,328.5 920.2,329.4" stroke="rgb(0,0,95)" stroke-width="3" style="mix-blend-mode:screen"/>
<path d="M855.4,325.8 857.2,327.2" stroke="rgb(0,0,148)" stroke-width="3.6" style="mix-blend-mode:screen"/>
<path d="M901.8,298.8 901.8,298.8" stroke="rgb(0,0,104)" stroke-width="3.8" style="mix-blend-mode:screen"/>
<path d="M877.9,275.4 877.9,275.4" stroke="rgb(0,0,57)" stroke-width="5" style="mix-blend-mode:screen"/>
<path d="M928.3,360 932.1,361.3 935.7,364 937.5,367.6" stroke="rgb(0,227,0)" stroke-width="5.2" style="mix-blend-mode:screen"/>
<path d="M928.3,360 932.1,361.3 935.7,364 937.5,367.6" stroke="rgb(0,30,0)" stroke-width="8.3" style="mix-blend-mode:screen"/>
<path d="M909.6,355 912.3,359.5 915.9,364.9 919.5,369.4" stroke="rgb(0,107,0)" stroke-width="5.4" style="mix-blend-mode:screen"/>
<path d="M909.6,355 912.3,359.5 915.9,364.9 919.5,369.4" stroke="rgb(0,30,0)" stroke-width="8.6" style="mix-blend-mode:screen"/>
<path d="M920.4,368.5 923.1,373 924.9,377.5" stroke="rgb(0,219,0)" stroke-width="6.1" style="mix-blend-mode:screen"/>
<path d="M920.4,368.5 923.1,373 924.9,377.5" stroke="rgb(0,30,0)" stroke-width="9.4" style="mix-blend-mode:screen"/>
<path d="M915.9,385.6 920.4,384.7 925.8,382.9" stroke="rgb(0,181,0)" stroke-width="3.6" style="mix-blend-mode:screen"/>
<path d="M915.9,385.6 920.4,384.7 925.8,382.9" stroke="rgb(0,30,0)" stroke-width="6.2" style="mix-blend-mode:screen"/>
<path d="M932.1,384.7 933,390.1 932.1,394.6 933,400 935.7,405.4 937.5,409.9 936.6,415.3 936.6,419.8 941.1,423.4 943.8,427 944.7,431.5" stroke="rgb(0,219,0)" stroke-width="6.1" style="mix-blend-mode:screen"/>
<path d="M932.1,384.7 933,390.1 932.1,394.6 933,400 935.7,405.4 937.5,409.9 936.6,415.3 936.6,419.8 941.1,423.4 943.8,427 944.7,431.5" stroke="rgb(0,30,0)" stroke-width="9.4" style="mix-blend-mode:screen"/>
<path d="M944.7,391 950.1,392.4 954.6,394.6" stroke="rgb(0,187,0)" stroke-width="4.6" style="mix-blend-mode:screen"/>
<path d="M944.7,391 950.1,392.4 954.6,394.6" stroke="rgb(0,30,0)" stroke-width="7.5" style="mix-blend-mode:screen"/>
<path d="M951.9,372.1 951.9,372.1" stroke="rgb(0,92,0)" stroke-width="5" style="mix-blend-mode:screen"/>
<path d="M921.3,397.3 924,399.1" stroke="rgb(0,93,0)" stroke-width="4" style="mix-blend-mode:screen"/>
<path d="M926.7,427 928.5,432.4 933,437.8 938.4,440.5 944.7,442.3" stroke="rgb(0,109,0)" stroke-width="5.4" style="mix-blend-mode:screen"/>
<path d="M926.7,427 928.5,432.4 933,437.8 938.4,440.5 944.7,442.3" stroke="rgb(0,30,0)" stroke-width="8.6" style="mix-blend-mode:screen"/>
<path d="M955.5,405.4 956.4,412.6 960,418 964.5,423.4 966.3,427" stroke="rgb(0,71,0)" stroke-width="5" style="mix-blend-mode:screen"/>
<path d="M962.7,434.2 962.7,434.2" stroke="rgb(0,80,0)" stroke-width="4" style="mix-blend-mode:screen"/>
<path d="M897,366.7 902.4,373 906,378.4 905.1,384.7" stroke="rgb(0,71,0)" stroke-width="5" style="mix-blend-mode:screen"/>
<path d="M956.4,443.2 960,445" stroke="rgb(0,93,0)" stroke-width="4" style="mix-blend-mode:screen"/>
<path d="M970.8,441.4 970.8,441.4" stroke="rgb(0,80,0)" stroke-width="4" style="mix-blend-mode:screen"/>
<path d="M980.7,357.7 980.7,357.7" stroke="rgb(0,68,0)" stroke-width="4" style="mix-blend-mode:screen"/>
<path d="M927.6,366.7 930.3,370.3" stroke="rgb(0,0,189)" stroke-width="4.6" style="mix-blend-mode:screen"/>
<path d="M940.2,397.3 942,400" stroke="rgb(0,0,180)" stroke-width="5.4" style="mix-blend-mode:screen"/>
<path d="M945.6,412.6 948.3,418 949.7,421.6" stroke="rgb(0,0,148)" stroke-width="3.6" style="mix-blend-mode:screen"/>
<path d="M943.8,375.7 943.8,375.7" stroke="rgb(0,0,66)" stroke-width="5" style="mix-blend-mode:screen"/>
<path d="M940.2,361.8 940.2,361.8" stroke="rgb(0,0,104)" stroke-width="3.8" style="mix-blend-mode:screen"/>
</g>
</g>
<linearGradient id="cbg" x1="0" x2="1" y1="0" y2="0"><stop offset="0.0000" stop-color="#3c3c3c"/><stop offset="0.0833" stop-color="#353a4a"/><stop offset="0.1667" stop-color="#273862"/><stop offset="0.2500" stop-color="#455684"/><stop offset="0.3333" stop-color="#60729e"/><stop offset="0.3750" stop-color="#8c9ec4"/><stop offset="0.4167" stop-color="#ccdff6"/><stop offset="0.4583" stop-color="#e3eee8"/><stop offset="0.5000" stop-color="#eeeeee"/><stop offset="0.5417" stop-color="#feecc8"/><stop offset="0.5833" stop-color="#f3e1e1"/><stop offset="0.6250" stop-color="#e8ae74"/><stop offset="0.6667" stop-color="#e07800"/><stop offset="0.7500" stop-color="#f03c00"/><stop offset="0.8333" stop-color="#ff0000"/><stop offset="0.9167" stop-color="#d0101c"/><stop offset="1.0000" stop-color="#a01532"/></linearGradient>
</defs>
<rect width="1356" height="1000" fill="#fff"/>
<g clip-path="url(#disc)">
<circle cx="701.4" cy="502.3" r="352.3" fill="#f6ecdc"/>
<g transform="rotate(15 701.4 502.3)" mask="url(#wedge)"><g filter="url(#fld0)"><use href="#src" transform="rotate(-15 701.4 502.3)"/></g></g>
<g transform="rotate(45 701.4 502.3)" mask="url(#wedge)"><g filter="url(#fld1)"><use href="#src" transform="rotate(-45 701.4 502.3)"/></g></g>
<g transform="rotate(75 701.4 502.3)" mask="url(#wedge)"><g filter="url(#fld2)"><use href="#src" transform="rotate(-75 701.4 502.3)"/></g></g>
<g transform="rotate(105 701.4 502.3)" mask="url(#wedge)"><g filter="url(#fld3)"><use href="#src" transform="rotate(-105 701.4 502.3)"/></g></g>
<g transform="rotate(135 701.4 502.3)" mask="url(#wedge)"><g filter="url(#fld4)"><use href="#src" transform="rotate(-135 701.4 502.3)"/></g></g>
<g transform="rotate(165 701.4 502.3)" mask="url(#wedge)"><g filter="url(#fld5)"><use href="#src" transform="rotate(-165 701.4 502.3)"/></g></g>
<g transform="rotate(195 701.4 502.3)" mask="url(#wedge)"><g filter="url(#fld6)"><use href="#src" transform="rotate(-195 701.4 502.3)"/></g></g>
<g transform="rotate(225 701.4 502.3)" mask="url(#wedge)"><g filter="url(#fld7)"><use href="#src" transform="rotate(-225 701.4 502.3)"/></g></g>
<g transform="rotate(255 701.4 502.3)" mask="url(#wedge)"><g filter="url(#fld8)"><use href="#src" transform="rotate(-255 701.4 502.3)"/></g></g>
<g transform="rotate(285 701.4 502.3)" mask="url(#wedge)"><g filter="url(#fld9)"><use href="#src" transform="rotate(-285 701.4 502.3)"/></g></g>
<g transform="rotate(315 701.4 502.3)" mask="url(#wedge)"><g filter="url(#fld10)"><use href="#src" transform="rotate(-315 701.4 502.3)"/></g></g>
<g transform="rotate(345 701.4 502.3)" mask="url(#wedge)"><g filter="url(#fld11)"><use href="#src" transform="rotate(-345 701.4 502.3)"/></g></g>
<circle cx="701.4" cy="502.3" r="63.3" fill="#fff"/>
<line x1="811.9" y1="198.8" x2="738.6" y2="400.2" stroke="#fff" stroke-width="1.1"/>
<path d="M431.6,277 435,284.4 436.8,294 439.2,302.4 441.6,310.8 441.4,316.8 438,322.8 434.4,327.6 427.2,331.2 425.8,332.4 428.4,333.6 433.2,331.8 438,332.4 444,333.6 448.2,338.4 450,344.4 449.4,351.6 447.6,358.8 444,364.8 442.8,366 442.6,366.2 448,368 453.4,371.6 454.6,376.4 451.6,381.2 448.6,383.6 451.6,385.4 457,386.6 458.2,383 461.8,383.6 462.4,387.2 460.6,389 464.8,392.6 469.6,395.6 471.4,400.4 473.2,405.2 477.4,407.6 481.6,406.4 484,404.6 487.6,406.4 489.4,411.2 492.4,416 496,420.8 497.8,423.8 502,425.6 507.4,426.8 514,426.2 521.2,423.8 526,421.4 526.6,426.8 525.4,432.8" fill="none" stroke="#fff" stroke-width="3.2" stroke-linejoin="round" stroke-linecap="round"/>
<path d="M431.6,277 435,284.4 436.8,294 439.2,302.4 441.6,310.8 441.4,316.8 438,322.8 434.4,327.6 427.2,331.2 425.8,332.4 428.4,333.6 433.2,331.8 438,332.4 444,333.6 448.2,338.4 450,344.4 449.4,351.6 447.6,358.8 444,364.8 442.8,366 442.6,366.2 448,368 453.4,371.6 454.6,376.4 451.6,381.2 448.6,383.6 451.6,385.4 457,386.6 458.2,383 461.8,383.6 462.4,387.2 460.6,389 464.8,392.6 469.6,395.6 471.4,400.4 473.2,405.2 477.4,407.6 481.6,406.4 484,404.6 487.6,406.4 489.4,411.2 492.4,416 496,420.8 497.8,423.8 502,425.6 507.4,426.8 514,426.2 521.2,423.8 526,421.4 526.6,426.8 525.4,432.8 521.2,438.2 514,443 506.8,447.2 502,448.4 497.2,446 492.4,444.8 487.6,444.8 481.6,443 475.6,440.6 470.8,438.8 468.4,441.2 466,438.8 462.4,434 454,429.2 449.2,426.8 442,423.2 439.6,420.8 434.8,423.2 430,422 428.2,421.4 425.2,420 418,418.2 412,415.8 405.4,409.8 400,405.6 391.6,399.6 384.4,395.4 376,393.6 367.4,390.6 355.9,386.8 361.7,370.8 368.2,355.1 375.4,339.7 383.3,324.7 392,310 401.3,295.8 411.2,282 421.8,268.8Z" fill="#808080" stroke="#050505" stroke-width="1.15" stroke-linejoin="round"/>
<path d="M805.2,166.2 805.8,176 804,185.6 804.6,194 807.6,200.4 812.4,203.1 819.6,203.2 828,205 836.4,208.6 844.8,211.2 852,211.8 861.6,209.4 871.2,206.2 878.4,203.6 882.6,201 889.1,190.1 879.6,184.6 869.9,179.3 860.1,174.4 850.1,169.7 840,165.4 829.7,161.4 819.4,157.6 808.9,154.2Z" fill="#fff" stroke="#fff" stroke-width="3.2" stroke-linejoin="round"/><path d="M805.2,166.2 805.8,176 804,185.6 804.6,194 807.6,200.4 812.4,203.1 819.6,203.2 828,205 836.4,208.6 844.8,211.2 852,211.8 861.6,209.4 871.2,206.2 878.4,203.6 882.6,201 889.1,190.1 879.6,184.6 869.9,179.3 860.1,174.4 850.1,169.7 840,165.4 829.7,161.4 819.4,157.6 808.9,154.2Z" fill="#808080" stroke="#050505" stroke-width="1.15" stroke-linejoin="round"/>
<path d="M1020.2,651.4 1011.2,650 1004,648.2 998.6,645.8 996.8,641.6 993.8,640.4 988.4,642.8 984.2,646.4 981.8,652.4 983,658.4 981.2,664.4 978.8,670.4 975.2,677.6 973.4,682.4 975.2,687.2 974.6,694.4 972.8,701.6 969.2,706.4 967.4,713.6 964.4,719.6 959.6,724.4 953.6,729.2 947.6,732.8 941.6,735.2 934.4,732.8 924.8,730.4 924.8,730 923.6,736 924.8,748 921.2,745.6 919.4,738.4 917.6,734.2 915.8,734.8 915.2,739.6 912.8,740.8 909.8,737.2 906.8,738.4 902,737.2 898.4,734.2 894.8,733 890,732.4 885.2,733.6 881.6,736 875.6,737.8 873.8,743.2 872,746.2 868.4,745 862.4,744.4 860.6,750.4 858.2,756.4 852.8,761.2 853.4,767.2 856.4,773.2 858.2,781.6 858.2,791.2 857,799.6 858.2,808 859.4,816.4 865.1,827.7 891.6,813 916.9,796.1 940.6,777.1 962.6,756.2 982.9,733.6 1001.2,709.3 1017.4,683.6 1031.4,656.7Z" fill="#fff" stroke="#fff" stroke-width="3.2" stroke-linejoin="round"/><path d="M1020.2,651.4 1011.2,650 1004,648.2 998.6,645.8 996.8,641.6 993.8,640.4 988.4,642.8 984.2,646.4 981.8,652.4 983,658.4 981.2,664.4 978.8,670.4 975.2,677.6 973.4,682.4 975.2,687.2 974.6,694.4 972.8,701.6 969.2,706.4 967.4,713.6 964.4,719.6 959.6,724.4 953.6,729.2 947.6,732.8 941.6,735.2 934.4,732.8 924.8,730.4 924.8,730 923.6,736 924.8,748 921.2,745.6 919.4,738.4 917.6,734.2 915.8,734.8 915.2,739.6 912.8,740.8 909.8,737.2 906.8,738.4 902,737.2 898.4,734.2 894.8,733 890,732.4 885.2,733.6 881.6,736 875.6,737.8 873.8,743.2 872,746.2 868.4,745 862.4,744.4 860.6,750.4 858.2,756.4 852.8,761.2 853.4,767.2 856.4,773.2 858.2,781.6 858.2,791.2 857,799.6 858.2,808 859.4,816.4 865.1,827.7 891.6,813 916.9,796.1 940.6,777.1 962.6,756.2 982.9,733.6 1001.2,709.3 1017.4,683.6 1031.4,656.7Z" fill="#808080" stroke="#050505" stroke-width="1.15" stroke-linejoin="round"/>
<path d="M700.5,401.7 704,401 709.6,397.5 716.6,396.1 725,397.5 733.4,401 741.8,405.2 750.2,407.3 760,409.4 764.2,406.6 766.3,407.3 767.7,412.9 769.8,417.8 775.4,415 782.4,414.3 788,417.8 792.2,421.3 794.3,424.8 799.2,422 804.1,422.7 807.6,426.2 809,430.4 806.9,434.6 808.3,440.2 810.4,448.6 812.5,455.6 813.9,459.8 809,462.6 802,466.1 801.3,468.2 806.2,471 809,476.6 814.6,479.4 820.2,485 824.4,490.6 827.2,496.2 828.6,503.2 828.1,506.8 826.7,515.2 827.4,523.6 828.8,530.6 826,537.6 820.4,543.2 822.5,548.8 821.1,554.4 814.8,558.6 810.6,564.2 807.8,571.2 804.3,575.4 803.6,579.6 798,582.4 799.4,586.6 795.2,592.2 789.6,596.4 782.6,599.2 777,602.7 772.8,602 768.6,602.7 763,602 756,604.8 750.4,606.2 742,604.8 735,603.4 725.2,600.6 718.2,597.8 717.5,593.6 721,588 723.1,581 723.8,574 721,568.4 717.5,562.8 721,557.2 718.9,550.2 715.4,543.2 709.8,537.6 701.4,534.8 698,531.1 695.2,526.9 689.6,524.1 686.1,526.2 686.8,531.8 684,537.4 680.5,543.7 674.2,545.1 675.6,552.8 677,559.8 676.3,565.4 672.8,565.4 671.4,561.2 667.2,559.1 664.6,558.8 661.4,561.2 660.6,564.4 657.4,563.6 652.6,562 647.8,560.8 643.8,559.6 641.8,557.2 642.2,554 642.6,550 641.4,547.6 637.4,548.8 632.6,549.6 628.6,550 626.2,551.6 625.8,549.2 627.8,547.6 627,545.2 625.4,546 623.8,542.8 625.4,542 628.6,541.2 630.2,538.8 629.8,535.6 627.8,533.6 624.6,535.2 621.4,535.6 623.8,534 626.6,531.6 625,530 622.2,531.6 620.6,530 622.2,528.4 624.6,529.2 625.8,526.8 624.6,523.6 622.2,522 621.8,519.6 622.2,516.4 620.6,516 619,518 615.8,519.6 613.4,518.8 612.2,519.6 613,516.4 615.4,514.8 614.6,512.4 612.2,512 610.6,514 608.2,517.2 606.2,520.8 605,517.2 605,513.2 607,510.8 609,507.6 609.8,502 611,496.4 610.6,490 611,484.8 609.8,482 612.6,479.2 615.8,476.8 616.6,472 616,468 613.4,465 609,463.4 603.4,462.4 599.4,461.2 597.8,458 595.4,456.4 592.2,455.6 589.8,456.4 589,458.4 586.6,458 585,456.8 585.4,455.2 587,453.2 584.6,450 582.6,446.8 581,443.6 579.4,441.6 577.4,442 576.6,439.6 577,437.2 579,436.4 578.6,432.4 578.2,428.4 578.6,425.2 579.8,422.8 580.6,420 582.2,419.6 583.8,420 583,422.8 582.2,424.8 584.2,426.8 584.2,428.8 582.2,430 582.2,432.4 583.4,434.8 584.2,438 586.2,441.2 588.2,443.6 589,446.8 590.6,450 593,452 597,452.4 600.2,450.8 603.4,450.4 607.4,451.6 612.2,453.6 616.2,454.8 620.2,456 623.4,457.6 626.6,459.6 629.8,462.8 633,466 635.4,470 637.4,474 638.6,473.2 640.2,469.2 642.6,466.8 645,465.6 649.6,463 657,459.8 662.6,455.6 665.3,450.4 665.6,444.8 668.1,436.4 670.2,428 673.7,419.6 679.3,411.2 682.1,405.6 686,402.8 690.2,400 690,401 694.2,401.7 695.6,396.8 699.1,397.5Z" fill="#fff" stroke="#fff" stroke-width="2.2" stroke-linejoin="round"/><path d="M700.5,401.7 704,401 709.6,397.5 716.6,396.1 725,397.5 733.4,401 741.8,405.2 750.2,407.3 760,409.4 764.2,406.6 766.3,407.3 767.7,412.9 769.8,417.8 775.4,415 782.4,414.3 788,417.8 792.2,421.3 794.3,424.8 799.2,422 804.1,422.7 807.6,426.2 809,430.4 806.9,434.6 808.3,440.2 810.4,448.6 812.5,455.6 813.9,459.8 809,462.6 802,466.1 801.3,468.2 806.2,471 809,476.6 814.6,479.4 820.2,485 824.4,490.6 827.2,496.2 828.6,503.2 828.1,506.8 826.7,515.2 827.4,523.6 828.8,530.6 826,537.6 820.4,543.2 822.5,548.8 821.1,554.4 814.8,558.6 810.6,564.2 807.8,571.2 804.3,575.4 803.6,579.6 798,582.4 799.4,586.6 795.2,592.2 789.6,596.4 782.6,599.2 777,602.7 772.8,602 768.6,602.7 763,602 756,604.8 750.4,606.2 742,604.8 735,603.4 725.2,600.6 718.2,597.8 717.5,593.6 721,588 723.1,581 723.8,574 721,568.4 717.5,562.8 721,557.2 718.9,550.2 715.4,543.2 709.8,537.6 701.4,534.8 698,531.1 695.2,526.9 689.6,524.1 686.1,526.2 686.8,531.8 684,537.4 680.5,543.7 674.2,545.1 675.6,552.8 677,559.8 676.3,565.4 672.8,565.4 671.4,561.2 667.2,559.1 664.6,558.8 661.4,561.2 660.6,564.4 657.4,563.6 652.6,562 647.8,560.8 643.8,559.6 641.8,557.2 642.2,554 642.6,550 641.4,547.6 637.4,548.8 632.6,549.6 628.6,550 626.2,551.6 625.8,549.2 627.8,547.6 627,545.2 625.4,546 623.8,542.8 625.4,542 628.6,541.2 630.2,538.8 629.8,535.6 627.8,533.6 624.6,535.2 621.4,535.6 623.8,534 626.6,531.6 625,530 622.2,531.6 620.6,530 622.2,528.4 624.6,529.2 625.8,526.8 624.6,523.6 622.2,522 621.8,519.6 622.2,516.4 620.6,516 619,518 615.8,519.6 613.4,518.8 612.2,519.6 613,516.4 615.4,514.8 614.6,512.4 612.2,512 610.6,514 608.2,517.2 606.2,520.8 605,517.2 605,513.2 607,510.8 609,507.6 609.8,502 611,496.4 610.6,490 611,484.8 609.8,482 612.6,479.2 615.8,476.8 616.6,472 616,468 613.4,465 609,463.4 603.4,462.4 599.4,461.2 597.8,458 595.4,456.4 592.2,455.6 589.8,456.4 589,458.4 586.6,458 585,456.8 585.4,455.2 587,453.2 584.6,450 582.6,446.8 581,443.6 579.4,441.6 577.4,442 576.6,439.6 577,437.2 579,436.4 578.6,432.4 578.2,428.4 578.6,425.2 579.8,422.8 580.6,420 582.2,419.6 583.8,420 583,422.8 582.2,424.8 584.2,426.8 584.2,428.8 582.2,430 582.2,432.4 583.4,434.8 584.2,438 586.2,441.2 588.2,443.6 589,446.8 590.6,450 593,452 597,452.4 600.2,450.8 603.4,450.4 607.4,451.6 612.2,453.6 616.2,454.8 620.2,456 623.4,457.6 626.6,459.6 629.8,462.8 633,466 635.4,470 637.4,474 638.6,473.2 640.2,469.2 642.6,466.8 645,465.6 649.6,463 657,459.8 662.6,455.6 665.3,450.4 665.6,444.8 668.1,436.4 670.2,428 673.7,419.6 679.3,411.2 682.1,405.6 686,402.8 690.2,400 690,401 694.2,401.7 695.6,396.8 699.1,397.5Z" fill="#808080" stroke="#050505" stroke-width="1.15" stroke-linejoin="round"/>
<path d="M842,727 845,721.6 849.2,720.2 854,722.2 858.8,727 863,730.6 860,733 854,734.2 851,737.8 848.6,739.6 846.2,736 843.8,731.2Z" fill="#fff" stroke="#fff" stroke-width="3.2" stroke-linejoin="round"/><path d="M842,727 845,721.6 849.2,720.2 854,722.2 858.8,727 863,730.6 860,733 854,734.2 851,737.8 848.6,739.6 846.2,736 843.8,731.2Z" fill="#808080" stroke="#050505" stroke-width="1.15" stroke-linejoin="round"/>
<path d="M743.6,745.2 747.2,741 753.2,740.4 758.6,742.2 759.2,746.4 756.8,752.4 752,758.4 746.6,764.4 742.4,770.4 740,776.4 737.6,780 735.2,777 731.6,778.8 728.6,775.2 730.4,769.2 733.4,762 737.6,757.2 740,751.2Z" fill="#fff" stroke="#fff" stroke-width="3.0" stroke-linejoin="round"/><path d="M743.6,745.2 747.2,741 753.2,740.4 758.6,742.2 759.2,746.4 756.8,752.4 752,758.4 746.6,764.4 742.4,770.4 740,776.4 737.6,780 735.2,777 731.6,778.8 728.6,775.2 730.4,769.2 733.4,762 737.6,757.2 740,751.2Z" fill="#808080" stroke="#050505" stroke-width="1.15" stroke-linejoin="round"/>
<path d="M722.6,776.4 725.6,777.6 726.2,783.6 732.8,789 729.8,793.2 728,799.2 729.2,804.6 732.8,808.8 737,814.8 741.2,820.2 738.8,820.8 734,816 730.4,811.2 727.4,805.8 725.6,808.2 723.2,804 720.8,800.4 714.8,801.6 710,802.8 709.4,798 711.8,793.8 716,792.6 717.8,786.6 719.6,780Z" fill="#fff" stroke="#fff" stroke-width="3.0" stroke-linejoin="round"/><path d="M722.6,776.4 725.6,777.6 726.2,783.6 732.8,789 729.8,793.2 728,799.2 729.2,804.6 732.8,808.8 737,814.8 741.2,820.2 738.8,820.8 734,816 730.4,811.2 727.4,805.8 725.6,808.2 723.2,804 720.8,800.4 714.8,801.6 710,802.8 709.4,798 711.8,793.8 716,792.6 717.8,786.6 719.6,780Z" fill="#808080" stroke="#050505" stroke-width="1.15" stroke-linejoin="round"/>
<path d="M594.2,464.4 598.6,464 603.4,464.4 608.2,465.2 612.2,466.8 613.4,470 613,474 610.6,476.4 606.6,478 603.8,478.4 603,475.6 604.2,471.6 603.8,468.4 600.2,467.2 596.2,466.8 594.2,465.6Z" fill="#fff" stroke="#fff" stroke-width="2.0" stroke-linejoin="round"/><path d="M594.2,464.4 598.6,464 603.4,464.4 608.2,465.2 612.2,466.8 613.4,470 613,474 610.6,476.4 606.6,478 603.8,478.4 603,475.6 604.2,471.6 603.8,468.4 600.2,467.2 596.2,466.8 594.2,465.6Z" fill="#808080" stroke="#050505" stroke-width="1.15" stroke-linejoin="round"/>
<path d="M909.2,733 911,730 914,728.2 915.8,729.4 914.6,731.8 911.6,733.6Z" fill="#fff" stroke="#fff" stroke-width="2.0" stroke-linejoin="round"/><path d="M909.2,733 911,730 914,728.2 915.8,729.4 914.6,731.8 911.6,733.6Z" fill="#808080" stroke="#050505" stroke-width="1.15" stroke-linejoin="round"/>
<path d="M515.8,395 518.2,390.2 521.2,388.4 523,391.4 522.4,396.2 519.4,399.2 517,400.4Z" fill="#fff" stroke="#fff" stroke-width="2.0" stroke-linejoin="round"/><path d="M515.8,395 518.2,390.2 521.2,388.4 523,391.4 522.4,396.2 519.4,399.2 517,400.4Z" fill="#808080" stroke="#050505" stroke-width="1.15" stroke-linejoin="round"/>
<path d="M439,423.8 443.2,424.6 448,427.4 448.2,430.2 445,430.6 441.4,428.2 438.6,425.8Z" fill="#fff" stroke="#fff" stroke-width="1.4" stroke-linejoin="round"/><path d="M439,423.8 443.2,424.6 448,427.4 448.2,430.2 445,430.6 441.4,428.2 438.6,425.8Z" fill="#808080" stroke="#050505" stroke-width="1.15" stroke-linejoin="round"/>
<path d="M452.2,430.2 457,432.2 461,434.4 460,436.2 455.8,435.4 452.2,433Z" fill="#fff" stroke="#fff" stroke-width="1.4" stroke-linejoin="round"/><path d="M452.2,430.2 457,432.2 461,434.4 460,436.2 455.8,435.4 452.2,433Z" fill="#808080" stroke="#050505" stroke-width="1.15" stroke-linejoin="round"/>
<path d="M596.6,473.2 598.2,472.4 599.8,473.6 600.2,475.2 598.6,476.4 597,475.6Z" fill="#fff" stroke="#fff" stroke-width="1.2" stroke-linejoin="round"/><path d="M596.6,473.2 598.2,472.4 599.8,473.6 600.2,475.2 598.6,476.4 597,475.6Z" fill="#808080" stroke="#050505" stroke-width="1.15" stroke-linejoin="round"/>
<path d="M571.8,421.6 572.8,421.6 572.7,426 572.2,430.4 571.4,430.4 571.6,426Z" fill="#808080" stroke="#050505" stroke-width="1.15" stroke-linejoin="round"/>
<path d="M682.6,552.8 684.7,551.4 685.7,554.2 684.7,559.1 682.9,559.8 682.3,556.3Z" fill="#808080" stroke="#050505" stroke-width="1.15" stroke-linejoin="round"/>
<path d="M713.1,567.1 716.2,566.1 717.6,568.2 715.9,569.9 713.4,569Z" fill="#808080" stroke="#050505" stroke-width="1.15" stroke-linejoin="round"/>
<path d="M579.6,345 583,343.6 587.6,344 588,345.4 584,346.2 580,346.4Z" fill="#fff" stroke="#fff" stroke-width="1.0" stroke-linejoin="round"/><path d="M579.6,345 583,343.6 587.6,344 588,345.4 584,346.2 580,346.4Z" fill="#808080" stroke="#050505" stroke-width="1.15" stroke-linejoin="round"/>
<path d="M584.4,389.4 587.2,388.6 588,390.2 585.6,391.4Z" fill="#fff" stroke="#fff" stroke-width="1.0" stroke-linejoin="round"/><path d="M584.4,389.4 587.2,388.6 588,390.2 585.6,391.4Z" fill="#808080" stroke="#050505" stroke-width="1.15" stroke-linejoin="round"/>
<path d="M910.4,422 912.4,420.6 913.6,419 915,420.6 916,423.4 914,426 912.4,424.6 911,424.4Z" fill="#fff" stroke="#fff" stroke-width="2.4" stroke-linejoin="round"/><path d="M910.4,422 912.4,420.6 913.6,419 915,420.6 916,423.4 914,426 912.4,424.6 911,424.4Z" fill="#808080" stroke="#050505" stroke-width="1.15" stroke-linejoin="round"/>
<path d="M685.2,762.2 686.2,760.4 687.2,762.2Z" fill="#808080" stroke="#050505" stroke-width="1.15" stroke-linejoin="round"/>
<path d="M751.2,738.2 752.4,735 753,738.2Z" fill="#808080" stroke="#050505" stroke-width="1.15" stroke-linejoin="round"/>
<path d="M508.5,428.2 509.1,432.3 511.4,435.9 510.2,439.4 507.2,443.6" fill="none" stroke="#fff" stroke-width="0.9" stroke-linejoin="round"/><path d="M507.4,426.8 508.0,432.8 510.2,434.0 512.8,432.8 515.8,434.6 514.6,438.8 511.6,441.2 508.6,444.8 505.0,447.4" fill="none" stroke="#050505" stroke-width="0.8" stroke-linejoin="round"/>
</g>
<g fill="none" stroke="#111" stroke-width="1" stroke-dasharray="1.15 2.9" stroke-opacity="1" clip-path="url(#disc)">
<circle cx="701.4" cy="502.3" r="32"/>
<circle cx="701.4" cy="502.3" r="96.6"/>
<circle cx="701.4" cy="502.3" r="163.4"/>
<circle cx="701.4" cy="502.3" r="234.2"/>
<circle cx="701.4" cy="502.3" r="310.8"/>
<line x1="701.4" y1="502.3" x2="701.4" y2="150"/>
<line x1="701.4" y1="502.3" x2="877.5" y2="197.2"/>
<line x1="701.4" y1="502.3" x2="1006.5" y2="326.1"/>
<line x1="701.4" y1="502.3" x2="1053.7" y2="502.3"/>
<line x1="701.4" y1="502.3" x2="1006.5" y2="678.4"/>
<line x1="701.4" y1="502.3" x2="877.5" y2="807.4"/>
<line x1="701.4" y1="502.3" x2="701.4" y2="854.6"/>
<line x1="701.4" y1="502.3" x2="525.2" y2="807.4"/>
<line x1="701.4" y1="502.3" x2="396.3" y2="678.5"/>
<line x1="701.4" y1="502.3" x2="349.1" y2="502.3"/>
<line x1="701.4" y1="502.3" x2="396.3" y2="326.1"/>
<line x1="701.4" y1="502.3" x2="525.2" y2="197.2"/>
</g>
<g fill="none" stroke="#111" stroke-width="1.1">
<circle cx="701.4" cy="502.3" r="352.3"/>
<line x1="701.4" y1="150" x2="701.4" y2="143"/>
<line x1="877.5" y1="197.2" x2="881" y2="191.1"/>
<line x1="1006.5" y1="326.1" x2="1012.6" y2="322.6"/>
<line x1="1053.7" y1="502.3" x2="1060.7" y2="502.3"/>
<line x1="1006.5" y1="678.4" x2="1012.6" y2="681.9"/>
<line x1="877.5" y1="807.4" x2="881" y2="813.5"/>
<line x1="701.4" y1="854.6" x2="701.4" y2="861.6"/>
<line x1="525.2" y1="807.4" x2="521.8" y2="813.5"/>
<line x1="396.3" y1="678.5" x2="390.2" y2="682"/>
<line x1="349.1" y1="502.3" x2="342.1" y2="502.3"/>
<line x1="396.3" y1="326.1" x2="390.2" y2="322.6"/>
<line x1="525.2" y1="197.2" x2="521.7" y2="191.1"/>
<line x1="692.9" y1="534.3" x2="706.9" y2="534.3"/>
<line x1="689.8" y1="598.9" x2="703.8" y2="598.9"/>
<line x1="686.6" y1="665.7" x2="700.6" y2="665.7"/>
<line x1="683.2" y1="736.5" x2="697.2" y2="736.5"/>
<line x1="679.5" y1="813.1" x2="693.5" y2="813.1"/>
<line x1="701.4" y1="502.3" x2="701.4" y2="534.3"/>
</g>
<g stroke="#000" stroke-width="0.9">
<line x1="701.4" y1="502.3" x2="701.4" y2="495.3"/>
<line x1="701.4" y1="502.3" x2="704.9" y2="496.2"/>
<line x1="701.4" y1="502.3" x2="707.5" y2="498.8"/>
<line x1="701.4" y1="502.3" x2="708.4" y2="502.3"/>
<line x1="701.4" y1="502.3" x2="707.5" y2="505.8"/>
<line x1="701.4" y1="502.3" x2="704.9" y2="508.4"/>
<line x1="701.4" y1="502.3" x2="701.4" y2="509.3"/>
<line x1="701.4" y1="502.3" x2="697.9" y2="508.4"/>
<line x1="701.4" y1="502.3" x2="695.3" y2="505.8"/>
<line x1="701.4" y1="502.3" x2="694.4" y2="502.3"/>
<line x1="701.4" y1="502.3" x2="695.3" y2="498.8"/>
<line x1="701.4" y1="502.3" x2="697.9" y2="496.2"/>
</g>
<text class="g" text-anchor="middle" transform="translate(701.4,133.3) rotate(0)" x="2.3" y="6">0<tspan font-size="13.6" dy="-7.6">o</tspan><tspan dy="7.6"></tspan></text>
<text class="g" text-anchor="middle" transform="translate(885.9,182.7) rotate(30)" x="2.3" y="6">30<tspan font-size="13.6" dy="-7.6">o</tspan><tspan dy="7.6">E</tspan></text>
<text class="g" text-anchor="middle" transform="translate(1021,317.8) rotate(60)" x="2.3" y="6">60<tspan font-size="13.6" dy="-7.6">o</tspan><tspan dy="7.6">E</tspan></text>
<text class="g" text-anchor="middle" transform="translate(1070.4,502.3) rotate(90)" x="2.3" y="6">90<tspan font-size="13.6" dy="-7.6">o</tspan><tspan dy="7.6">E</tspan></text>
<text class="g" text-anchor="middle" transform="translate(1026,689.7) rotate(-60)" x="1.8" y="6.6">120<tspan font-size="13.6" dy="-7.6">o</tspan><tspan dy="7.6">E</tspan></text>
<text class="g" text-anchor="middle" transform="translate(888.8,826.9) rotate(-30)" x="0.3" y="6.6">150<tspan font-size="13.6" dy="-7.6">o</tspan><tspan dy="7.6">E</tspan></text>
<text class="g" text-anchor="middle" transform="translate(701.4,877.1) rotate(0)" x="1.0" y="6.6">180<tspan font-size="13.6" dy="-7.6">o</tspan><tspan dy="7.6">W</tspan></text>
<text class="g" text-anchor="middle" transform="translate(514,826.9) rotate(30)" x="2.0" y="6.6">150<tspan font-size="13.6" dy="-7.6">o</tspan><tspan dy="7.6">W</tspan></text>
<text class="g" text-anchor="middle" transform="translate(376.8,689.7) rotate(60)" x="-0.9" y="6.6">120<tspan font-size="13.6" dy="-7.6">o</tspan><tspan dy="7.6">W</tspan></text>
<text class="g" text-anchor="middle" transform="translate(332.4,502.3) rotate(-90)" x="2.3" y="6">90<tspan font-size="13.6" dy="-7.6">o</tspan><tspan dy="7.6">W</tspan></text>
<text class="g" text-anchor="middle" transform="translate(381.8,317.8) rotate(-60)" x="2.3" y="6">60<tspan font-size="13.6" dy="-7.6">o</tspan><tspan dy="7.6">W</tspan></text>
<text class="g" text-anchor="middle" transform="translate(516.9,182.7) rotate(-30)" x="2.3" y="6">30<tspan font-size="13.6" dy="-7.6">o</tspan><tspan dy="7.6">W</tspan></text>
<text class="g" x="715.6" y="545.6">84<tspan font-size="13.6" dy="-6.5">o</tspan><tspan dy="6.5">S</tspan></text>
<text class="g" x="713.6" y="610.2">72<tspan font-size="13.6" dy="-6.5">o</tspan><tspan dy="6.5">S</tspan></text>
<text class="g" x="707.8" y="677">60<tspan font-size="13.6" dy="-6.5">o</tspan><tspan dy="6.5">S</tspan></text>
<text class="g" x="705" y="747.8">48<tspan font-size="13.6" dy="-6.5">o</tspan><tspan dy="6.5">S</tspan></text>
<text class="g" x="701.6" y="824.4">36<tspan font-size="13.6" dy="-6.5">o</tspan><tspan dy="6.5">S</tspan></text>
<text x="710" y="68.4" text-anchor="middle" font-weight="bold" font-size="31.4">AVHRR Meridional Sea Surface Temperature Gradient</text>
<text x="702" y="107.4" text-anchor="middle" font-weight="bold" font-size="24.85">2012-10-13</text>
<rect x="376.5" y="911.4" width="658.9" height="19.1" fill="url(#cbg)"/>
<g fill="none" stroke="#1c1c1c" stroke-width="1.05">
<rect x="376.5" y="911.4" width="658.7" height="19.1"/>
<line x1="485.8" y1="930.5" x2="485.8" y2="923.8"/>
<line x1="595.7" y1="930.5" x2="595.7" y2="923.8"/>
<line x1="705.5" y1="930.5" x2="705.5" y2="923.8"/>
<line x1="815.3" y1="930.5" x2="815.3" y2="923.8"/>
<line x1="925.2" y1="930.5" x2="925.2" y2="923.8"/>
</g>
<text class="cb" x="376" y="955.7" text-anchor="middle">-0.06</text>
<text class="cb" x="485.8" y="955.7" text-anchor="middle">-0.04</text>
<text class="cb" x="595.7" y="955.7" text-anchor="middle">-0.02</text>
<text class="cb" x="705.5" y="955.7" text-anchor="middle">0</text>
<text class="cb" x="815.3" y="955.7" text-anchor="middle">0.02</text>
<text class="cb" x="925.2" y="955.7" text-anchor="middle">0.04</text>
<text class="cb" x="1035" y="955.7" text-anchor="middle">0.06</text>
<text class="cb" x="705.5" y="978.5" text-anchor="middle"><tspan font-size="16.6" dy="0">°</tspan><tspan dy="0">C/km</tspan></text>
</svg></body></html>
